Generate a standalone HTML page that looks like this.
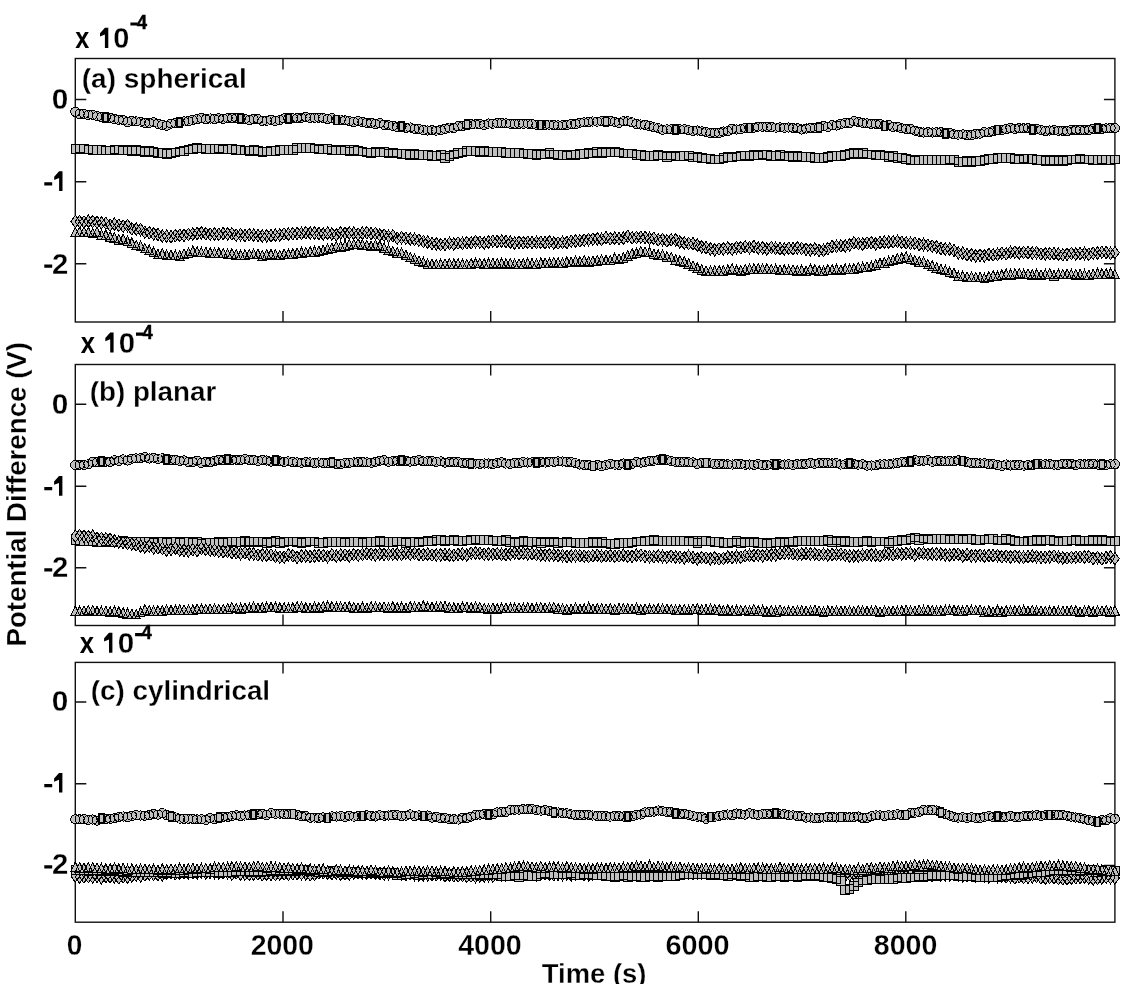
<!DOCTYPE html>
<html><head><meta charset="utf-8"><style>
html,body{margin:0;padding:0;background:#fff;width:1141px;height:1000px;overflow:hidden}
svg{display:block;filter:grayscale(1)}
text{font-family:"Liberation Sans",sans-serif;font-weight:bold;fill:#000}
</style></head><body>
<svg width="1141" height="1000" viewBox="0 0 1141 1000">
<defs>
<circle id="mc" cx="0" cy="0" r="4.3" fill="#c0c0c0" stroke="#000" stroke-width="1"/>
<rect id="ms" x="-4.2" y="-4.2" width="8.4" height="8.4" fill="#c0c0c0" stroke="#000" stroke-width="1"/>
<path id="md" d="M0,-6 L4.6,0 L0,6 L-4.6,0 Z" fill="#c0c0c0" stroke="#000" stroke-width="1"/>
<path id="mt" d="M0,-6.5 L4.6,4.5 L-4.6,4.5 Z" fill="#c0c0c0" stroke="#000" stroke-width="1"/>
</defs>
<g fill="none" stroke="#111" stroke-width="1.4">
<!-- panel a -->
<rect x="75.3" y="58.5" width="1039.6" height="263.5"/>
<path d="M75.3,99.5h11M75.3,181.7h11M75.3,263.8h11M1114.9,99.5h-11M1114.9,181.7h-11M1114.9,263.8h-11
M283,58.5v11M490.7,58.5v11M698.3,58.5v11M905.8,58.5v11M283,322v-11M490.7,322v-11M698.3,322v-11M905.8,322v-11"/>
<!-- panel b -->
<rect x="75.3" y="364.5" width="1039.6" height="261"/>
<path d="M75.3,404.2h11M75.3,486.2h11M75.3,567.8h11M1114.9,404.2h-11M1114.9,486.2h-11M1114.9,567.8h-11
M283,364.5v11M490.7,364.5v11M698.3,364.5v11M905.8,364.5v11M283,625.5v-11M490.7,625.5v-11M698.3,625.5v-11M905.8,625.5v-11"/>
<!-- panel c -->
<rect x="75.3" y="662.4" width="1039.6" height="259.8"/>
<path d="M75.3,702h11M75.3,783.8h11M75.3,865.5h11M1114.9,702h-11M1114.9,783.8h-11M1114.9,865.5h-11
M283,662.4v11M490.7,662.4v11M698.3,662.4v11M905.8,662.4v11M283,922.2v-11M490.7,922.2v-11M698.3,922.2v-11M905.8,922.2v-11"/>
</g>
<defs><path id="p_a_t" d="M75.3,227.3l4.4,9.5h-8.8zM79.6,226.6l4.4,9.5h-8.8zM84.0,227.0l4.4,9.5h-8.8zM88.3,227.0l4.4,9.5h-8.8zM92.7,228.3l4.4,9.5h-8.8zM97.0,227.1l4.4,9.5h-8.8zM101.4,229.8l4.4,9.5h-8.8zM105.8,229.8l4.4,9.5h-8.8zM110.1,231.6l4.4,9.5h-8.8zM114.4,232.5l4.4,9.5h-8.8zM118.8,234.6l4.4,9.5h-8.8zM123.1,234.1l4.4,9.5h-8.8zM127.5,236.2l4.4,9.5h-8.8zM131.8,237.8l4.4,9.5h-8.8zM136.2,240.4l4.4,9.5h-8.8zM140.6,241.1l4.4,9.5h-8.8zM144.9,243.4l4.4,9.5h-8.8zM149.2,244.9l4.4,9.5h-8.8zM153.6,247.2l4.4,9.5h-8.8zM157.9,249.3l4.4,9.5h-8.8zM162.3,248.7l4.4,9.5h-8.8zM166.6,250.1l4.4,9.5h-8.8zM171.0,250.2l4.4,9.5h-8.8zM175.3,250.2l4.4,9.5h-8.8zM179.7,250.7l4.4,9.5h-8.8zM184.0,249.0l4.4,9.5h-8.8zM188.4,247.8l4.4,9.5h-8.8zM192.8,246.0l4.4,9.5h-8.8zM197.1,246.7l4.4,9.5h-8.8zM201.4,247.4l4.4,9.5h-8.8zM205.8,247.1l4.4,9.5h-8.8zM210.1,247.5l4.4,9.5h-8.8zM214.5,247.7l4.4,9.5h-8.8zM218.8,247.9l4.4,9.5h-8.8zM223.2,248.3l4.4,9.5h-8.8zM227.6,248.9l4.4,9.5h-8.8zM231.9,248.6l4.4,9.5h-8.8zM236.2,249.5l4.4,9.5h-8.8zM240.6,250.3l4.4,9.5h-8.8zM244.9,249.8l4.4,9.5h-8.8zM249.3,249.4l4.4,9.5h-8.8zM253.6,249.1l4.4,9.5h-8.8zM258.0,249.2l4.4,9.5h-8.8zM262.3,250.5l4.4,9.5h-8.8zM266.7,249.7l4.4,9.5h-8.8zM271.0,249.4l4.4,9.5h-8.8zM275.4,249.7l4.4,9.5h-8.8zM279.8,250.4l4.4,9.5h-8.8zM284.1,249.1l4.4,9.5h-8.8zM288.4,249.1l4.4,9.5h-8.8zM292.8,248.7l4.4,9.5h-8.8zM297.1,248.2l4.4,9.5h-8.8zM301.5,247.5l4.4,9.5h-8.8zM305.8,247.4l4.4,9.5h-8.8zM310.2,246.8l4.4,9.5h-8.8zM314.5,246.5l4.4,9.5h-8.8zM318.9,246.0l4.4,9.5h-8.8zM323.2,245.2l4.4,9.5h-8.8zM327.6,243.9l4.4,9.5h-8.8zM331.9,243.2l4.4,9.5h-8.8zM336.3,241.4l4.4,9.5h-8.8zM340.6,241.5l4.4,9.5h-8.8zM345.0,240.6l4.4,9.5h-8.8zM349.3,239.6l4.4,9.5h-8.8zM353.7,239.4l4.4,9.5h-8.8zM358.1,238.5l4.4,9.5h-8.8zM362.4,239.6l4.4,9.5h-8.8zM366.8,240.3l4.4,9.5h-8.8zM371.1,241.2l4.4,9.5h-8.8zM375.4,240.0l4.4,9.5h-8.8zM379.8,240.9l4.4,9.5h-8.8zM384.1,242.8l4.4,9.5h-8.8zM388.5,244.6l4.4,9.5h-8.8zM392.8,246.4l4.4,9.5h-8.8zM397.2,247.5l4.4,9.5h-8.8zM401.6,247.8l4.4,9.5h-8.8zM405.9,250.1l4.4,9.5h-8.8zM410.2,252.3l4.4,9.5h-8.8zM414.6,253.8l4.4,9.5h-8.8zM418.9,255.9l4.4,9.5h-8.8zM423.3,257.2l4.4,9.5h-8.8zM427.6,259.0l4.4,9.5h-8.8zM432.0,259.2l4.4,9.5h-8.8zM436.3,259.3l4.4,9.5h-8.8zM440.7,259.1l4.4,9.5h-8.8zM445.0,259.0l4.4,9.5h-8.8zM449.4,258.5l4.4,9.5h-8.8zM453.8,259.0l4.4,9.5h-8.8zM458.1,258.8l4.4,9.5h-8.8zM462.4,259.2l4.4,9.5h-8.8zM466.8,259.2l4.4,9.5h-8.8zM471.1,258.6l4.4,9.5h-8.8zM475.5,258.3l4.4,9.5h-8.8zM479.8,258.2l4.4,9.5h-8.8zM484.2,258.7l4.4,9.5h-8.8zM488.5,258.5l4.4,9.5h-8.8zM492.9,258.3l4.4,9.5h-8.8zM497.2,258.5l4.4,9.5h-8.8zM501.6,258.2l4.4,9.5h-8.8zM505.9,258.8l4.4,9.5h-8.8zM510.3,258.3l4.4,9.5h-8.8zM514.6,259.1l4.4,9.5h-8.8zM519.0,258.7l4.4,9.5h-8.8zM523.3,258.8l4.4,9.5h-8.8zM527.7,258.0l4.4,9.5h-8.8zM532.0,258.6l4.4,9.5h-8.8zM536.4,258.9l4.4,9.5h-8.8zM540.8,258.0l4.4,9.5h-8.8zM545.1,258.1l4.4,9.5h-8.8zM549.4,258.1l4.4,9.5h-8.8zM553.8,257.2l4.4,9.5h-8.8zM558.1,257.8l4.4,9.5h-8.8zM562.5,257.8l4.4,9.5h-8.8zM566.8,256.8l4.4,9.5h-8.8zM571.2,257.2l4.4,9.5h-8.8zM575.5,256.1l4.4,9.5h-8.8zM579.9,256.5l4.4,9.5h-8.8zM584.2,255.5l4.4,9.5h-8.8zM588.6,256.7l4.4,9.5h-8.8zM592.9,256.1l4.4,9.5h-8.8zM597.3,255.6l4.4,9.5h-8.8zM601.6,254.8l4.4,9.5h-8.8zM606.0,255.4l4.4,9.5h-8.8zM610.3,255.3l4.4,9.5h-8.8zM614.7,253.0l4.4,9.5h-8.8zM619.0,253.8l4.4,9.5h-8.8zM623.4,252.7l4.4,9.5h-8.8zM627.7,250.7l4.4,9.5h-8.8zM632.1,248.5l4.4,9.5h-8.8zM636.4,248.2l4.4,9.5h-8.8zM640.8,246.4l4.4,9.5h-8.8zM645.1,247.0l4.4,9.5h-8.8zM649.5,247.4l4.4,9.5h-8.8zM653.8,249.1l4.4,9.5h-8.8zM658.2,250.0l4.4,9.5h-8.8zM662.5,250.0l4.4,9.5h-8.8zM666.9,251.8l4.4,9.5h-8.8zM671.2,252.3l4.4,9.5h-8.8zM675.6,254.6l4.4,9.5h-8.8zM679.9,255.5l4.4,9.5h-8.8zM684.3,256.7l4.4,9.5h-8.8zM688.6,258.6l4.4,9.5h-8.8zM693.0,261.0l4.4,9.5h-8.8zM697.3,262.9l4.4,9.5h-8.8zM701.7,264.8l4.4,9.5h-8.8zM706.0,266.0l4.4,9.5h-8.8zM710.4,265.8l4.4,9.5h-8.8zM714.7,265.9l4.4,9.5h-8.8zM719.1,265.6l4.4,9.5h-8.8zM723.4,265.7l4.4,9.5h-8.8zM727.8,265.0l4.4,9.5h-8.8zM732.1,263.8l4.4,9.5h-8.8zM736.5,265.3l4.4,9.5h-8.8zM740.8,265.6l4.4,9.5h-8.8zM745.2,264.6l4.4,9.5h-8.8zM749.5,264.1l4.4,9.5h-8.8zM753.9,263.8l4.4,9.5h-8.8zM758.2,263.6l4.4,9.5h-8.8zM762.6,263.8l4.4,9.5h-8.8zM766.9,263.6l4.4,9.5h-8.8zM771.3,264.3l4.4,9.5h-8.8zM775.6,264.4l4.4,9.5h-8.8zM780.0,265.1l4.4,9.5h-8.8zM784.3,264.9l4.4,9.5h-8.8zM788.7,265.2l4.4,9.5h-8.8zM793.0,264.9l4.4,9.5h-8.8zM797.4,265.5l4.4,9.5h-8.8zM801.7,265.1l4.4,9.5h-8.8zM806.1,266.1l4.4,9.5h-8.8zM810.4,264.1l4.4,9.5h-8.8zM814.8,264.7l4.4,9.5h-8.8zM819.1,265.5l4.4,9.5h-8.8zM823.5,266.2l4.4,9.5h-8.8zM827.8,264.7l4.4,9.5h-8.8zM832.2,264.7l4.4,9.5h-8.8zM836.5,264.4l4.4,9.5h-8.8zM840.9,265.0l4.4,9.5h-8.8zM845.2,264.0l4.4,9.5h-8.8zM849.6,264.3l4.4,9.5h-8.8zM853.9,263.7l4.4,9.5h-8.8zM858.3,262.5l4.4,9.5h-8.8zM862.6,262.4l4.4,9.5h-8.8zM867.0,261.7l4.4,9.5h-8.8zM871.3,261.2l4.4,9.5h-8.8zM875.7,259.7l4.4,9.5h-8.8zM880.0,258.3l4.4,9.5h-8.8zM884.4,257.6l4.4,9.5h-8.8zM888.7,256.2l4.4,9.5h-8.8zM893.1,255.0l4.4,9.5h-8.8zM897.4,253.5l4.4,9.5h-8.8zM901.8,252.8l4.4,9.5h-8.8zM906.1,251.8l4.4,9.5h-8.8zM910.5,254.1l4.4,9.5h-8.8zM914.8,255.2l4.4,9.5h-8.8zM919.2,256.5l4.4,9.5h-8.8zM923.5,256.8l4.4,9.5h-8.8zM927.9,259.4l4.4,9.5h-8.8zM932.2,260.8l4.4,9.5h-8.8zM936.6,262.6l4.4,9.5h-8.8zM940.9,264.3l4.4,9.5h-8.8zM945.3,265.1l4.4,9.5h-8.8zM949.6,267.3l4.4,9.5h-8.8zM954.0,268.2l4.4,9.5h-8.8zM958.3,271.1l4.4,9.5h-8.8zM962.7,271.0l4.4,9.5h-8.8zM967.0,271.7l4.4,9.5h-8.8zM971.4,271.9l4.4,9.5h-8.8zM975.7,272.4l4.4,9.5h-8.8zM980.1,272.4l4.4,9.5h-8.8zM984.4,273.4l4.4,9.5h-8.8zM988.8,271.7l4.4,9.5h-8.8zM993.1,270.6l4.4,9.5h-8.8zM997.5,271.3l4.4,9.5h-8.8zM1001.8,269.9l4.4,9.5h-8.8zM1006.2,269.0l4.4,9.5h-8.8zM1010.5,269.5l4.4,9.5h-8.8zM1014.9,268.8l4.4,9.5h-8.8zM1019.2,268.4l4.4,9.5h-8.8zM1023.6,269.4l4.4,9.5h-8.8zM1028.0,268.9l4.4,9.5h-8.8zM1032.3,269.7l4.4,9.5h-8.8zM1036.6,269.2l4.4,9.5h-8.8zM1041.0,269.9l4.4,9.5h-8.8zM1045.3,269.2l4.4,9.5h-8.8zM1049.7,268.7l4.4,9.5h-8.8zM1054.0,270.6l4.4,9.5h-8.8zM1058.4,269.2l4.4,9.5h-8.8zM1062.8,269.4l4.4,9.5h-8.8zM1067.1,269.1l4.4,9.5h-8.8zM1071.4,269.3l4.4,9.5h-8.8zM1075.8,269.5l4.4,9.5h-8.8zM1080.1,269.4l4.4,9.5h-8.8zM1084.5,269.6l4.4,9.5h-8.8zM1088.8,270.1l4.4,9.5h-8.8zM1093.2,269.1l4.4,9.5h-8.8zM1097.5,268.5l4.4,9.5h-8.8zM1101.9,268.5l4.4,9.5h-8.8zM1106.2,268.7l4.4,9.5h-8.8zM1110.6,268.2l4.4,9.5h-8.8zM1114.9,269.4l4.4,9.5h-8.8z"/>
<path id="p_a_d" d="M75.3,215.3l4.4,6.2l-4.4,6.2l-4.4,-6.2zM79.6,215.4l4.4,6.2l-4.4,6.2l-4.4,-6.2zM84.0,215.7l4.4,6.2l-4.4,6.2l-4.4,-6.2zM88.3,215.0l4.4,6.2l-4.4,6.2l-4.4,-6.2zM92.7,215.4l4.4,6.2l-4.4,6.2l-4.4,-6.2zM97.0,216.2l4.4,6.2l-4.4,6.2l-4.4,-6.2zM101.4,216.8l4.4,6.2l-4.4,6.2l-4.4,-6.2zM105.8,217.0l4.4,6.2l-4.4,6.2l-4.4,-6.2zM110.1,218.9l4.4,6.2l-4.4,6.2l-4.4,-6.2zM114.4,218.0l4.4,6.2l-4.4,6.2l-4.4,-6.2zM118.8,219.2l4.4,6.2l-4.4,6.2l-4.4,-6.2zM123.1,220.0l4.4,6.2l-4.4,6.2l-4.4,-6.2zM127.5,219.5l4.4,6.2l-4.4,6.2l-4.4,-6.2zM131.8,222.5l4.4,6.2l-4.4,6.2l-4.4,-6.2zM136.2,222.9l4.4,6.2l-4.4,6.2l-4.4,-6.2zM140.6,223.4l4.4,6.2l-4.4,6.2l-4.4,-6.2zM144.9,226.1l4.4,6.2l-4.4,6.2l-4.4,-6.2zM149.2,226.5l4.4,6.2l-4.4,6.2l-4.4,-6.2zM153.6,227.6l4.4,6.2l-4.4,6.2l-4.4,-6.2zM157.9,228.2l4.4,6.2l-4.4,6.2l-4.4,-6.2zM162.3,229.8l4.4,6.2l-4.4,6.2l-4.4,-6.2zM166.6,229.9l4.4,6.2l-4.4,6.2l-4.4,-6.2zM171.0,230.5l4.4,6.2l-4.4,6.2l-4.4,-6.2zM175.3,229.4l4.4,6.2l-4.4,6.2l-4.4,-6.2zM179.7,229.2l4.4,6.2l-4.4,6.2l-4.4,-6.2zM184.0,229.2l4.4,6.2l-4.4,6.2l-4.4,-6.2zM188.4,228.3l4.4,6.2l-4.4,6.2l-4.4,-6.2zM192.8,227.8l4.4,6.2l-4.4,6.2l-4.4,-6.2zM197.1,227.3l4.4,6.2l-4.4,6.2l-4.4,-6.2zM201.4,226.5l4.4,6.2l-4.4,6.2l-4.4,-6.2zM205.8,227.5l4.4,6.2l-4.4,6.2l-4.4,-6.2zM210.1,228.0l4.4,6.2l-4.4,6.2l-4.4,-6.2zM214.5,227.9l4.4,6.2l-4.4,6.2l-4.4,-6.2zM218.8,228.1l4.4,6.2l-4.4,6.2l-4.4,-6.2zM223.2,227.4l4.4,6.2l-4.4,6.2l-4.4,-6.2zM227.6,227.6l4.4,6.2l-4.4,6.2l-4.4,-6.2zM231.9,227.6l4.4,6.2l-4.4,6.2l-4.4,-6.2zM236.2,229.1l4.4,6.2l-4.4,6.2l-4.4,-6.2zM240.6,228.5l4.4,6.2l-4.4,6.2l-4.4,-6.2zM244.9,229.5l4.4,6.2l-4.4,6.2l-4.4,-6.2zM249.3,228.5l4.4,6.2l-4.4,6.2l-4.4,-6.2zM253.6,228.9l4.4,6.2l-4.4,6.2l-4.4,-6.2zM258.0,229.3l4.4,6.2l-4.4,6.2l-4.4,-6.2zM262.3,229.8l4.4,6.2l-4.4,6.2l-4.4,-6.2zM266.7,229.6l4.4,6.2l-4.4,6.2l-4.4,-6.2zM271.0,229.5l4.4,6.2l-4.4,6.2l-4.4,-6.2zM275.4,229.1l4.4,6.2l-4.4,6.2l-4.4,-6.2zM279.8,228.8l4.4,6.2l-4.4,6.2l-4.4,-6.2zM284.1,227.8l4.4,6.2l-4.4,6.2l-4.4,-6.2zM288.4,228.0l4.4,6.2l-4.4,6.2l-4.4,-6.2zM292.8,227.5l4.4,6.2l-4.4,6.2l-4.4,-6.2zM297.1,227.2l4.4,6.2l-4.4,6.2l-4.4,-6.2zM301.5,227.2l4.4,6.2l-4.4,6.2l-4.4,-6.2zM305.8,226.5l4.4,6.2l-4.4,6.2l-4.4,-6.2zM310.2,226.9l4.4,6.2l-4.4,6.2l-4.4,-6.2zM314.5,226.9l4.4,6.2l-4.4,6.2l-4.4,-6.2zM318.9,227.4l4.4,6.2l-4.4,6.2l-4.4,-6.2zM323.2,227.7l4.4,6.2l-4.4,6.2l-4.4,-6.2zM327.6,226.9l4.4,6.2l-4.4,6.2l-4.4,-6.2zM331.9,227.8l4.4,6.2l-4.4,6.2l-4.4,-6.2zM336.3,228.6l4.4,6.2l-4.4,6.2l-4.4,-6.2zM340.6,226.7l4.4,6.2l-4.4,6.2l-4.4,-6.2zM345.0,227.0l4.4,6.2l-4.4,6.2l-4.4,-6.2zM349.3,226.8l4.4,6.2l-4.4,6.2l-4.4,-6.2zM353.7,227.0l4.4,6.2l-4.4,6.2l-4.4,-6.2zM358.1,227.9l4.4,6.2l-4.4,6.2l-4.4,-6.2zM362.4,227.0l4.4,6.2l-4.4,6.2l-4.4,-6.2zM366.8,226.5l4.4,6.2l-4.4,6.2l-4.4,-6.2zM371.1,227.4l4.4,6.2l-4.4,6.2l-4.4,-6.2zM375.4,227.3l4.4,6.2l-4.4,6.2l-4.4,-6.2zM379.8,228.8l4.4,6.2l-4.4,6.2l-4.4,-6.2zM384.1,228.9l4.4,6.2l-4.4,6.2l-4.4,-6.2zM388.5,230.0l4.4,6.2l-4.4,6.2l-4.4,-6.2zM392.8,229.6l4.4,6.2l-4.4,6.2l-4.4,-6.2zM397.2,232.0l4.4,6.2l-4.4,6.2l-4.4,-6.2zM401.6,231.5l4.4,6.2l-4.4,6.2l-4.4,-6.2zM405.9,232.1l4.4,6.2l-4.4,6.2l-4.4,-6.2zM410.2,232.7l4.4,6.2l-4.4,6.2l-4.4,-6.2zM414.6,233.2l4.4,6.2l-4.4,6.2l-4.4,-6.2zM418.9,234.0l4.4,6.2l-4.4,6.2l-4.4,-6.2zM423.3,235.3l4.4,6.2l-4.4,6.2l-4.4,-6.2zM427.6,235.9l4.4,6.2l-4.4,6.2l-4.4,-6.2zM432.0,237.3l4.4,6.2l-4.4,6.2l-4.4,-6.2zM436.3,237.6l4.4,6.2l-4.4,6.2l-4.4,-6.2zM440.7,238.4l4.4,6.2l-4.4,6.2l-4.4,-6.2zM445.0,238.3l4.4,6.2l-4.4,6.2l-4.4,-6.2zM449.4,237.2l4.4,6.2l-4.4,6.2l-4.4,-6.2zM453.8,237.8l4.4,6.2l-4.4,6.2l-4.4,-6.2zM458.1,236.8l4.4,6.2l-4.4,6.2l-4.4,-6.2zM462.4,237.2l4.4,6.2l-4.4,6.2l-4.4,-6.2zM466.8,236.5l4.4,6.2l-4.4,6.2l-4.4,-6.2zM471.1,236.6l4.4,6.2l-4.4,6.2l-4.4,-6.2zM475.5,235.5l4.4,6.2l-4.4,6.2l-4.4,-6.2zM479.8,236.0l4.4,6.2l-4.4,6.2l-4.4,-6.2zM484.2,236.8l4.4,6.2l-4.4,6.2l-4.4,-6.2zM488.5,235.8l4.4,6.2l-4.4,6.2l-4.4,-6.2zM492.9,235.1l4.4,6.2l-4.4,6.2l-4.4,-6.2zM497.2,235.2l4.4,6.2l-4.4,6.2l-4.4,-6.2zM501.6,234.9l4.4,6.2l-4.4,6.2l-4.4,-6.2zM505.9,235.2l4.4,6.2l-4.4,6.2l-4.4,-6.2zM510.3,236.0l4.4,6.2l-4.4,6.2l-4.4,-6.2zM514.6,236.9l4.4,6.2l-4.4,6.2l-4.4,-6.2zM519.0,236.1l4.4,6.2l-4.4,6.2l-4.4,-6.2zM523.3,236.5l4.4,6.2l-4.4,6.2l-4.4,-6.2zM527.7,236.2l4.4,6.2l-4.4,6.2l-4.4,-6.2zM532.0,236.3l4.4,6.2l-4.4,6.2l-4.4,-6.2zM536.4,236.2l4.4,6.2l-4.4,6.2l-4.4,-6.2zM540.8,236.2l4.4,6.2l-4.4,6.2l-4.4,-6.2zM545.1,236.5l4.4,6.2l-4.4,6.2l-4.4,-6.2zM549.4,235.7l4.4,6.2l-4.4,6.2l-4.4,-6.2zM553.8,236.8l4.4,6.2l-4.4,6.2l-4.4,-6.2zM558.1,236.8l4.4,6.2l-4.4,6.2l-4.4,-6.2zM562.5,236.2l4.4,6.2l-4.4,6.2l-4.4,-6.2zM566.8,236.3l4.4,6.2l-4.4,6.2l-4.4,-6.2zM571.2,235.1l4.4,6.2l-4.4,6.2l-4.4,-6.2zM575.5,234.7l4.4,6.2l-4.4,6.2l-4.4,-6.2zM579.9,234.6l4.4,6.2l-4.4,6.2l-4.4,-6.2zM584.2,234.0l4.4,6.2l-4.4,6.2l-4.4,-6.2zM588.6,233.4l4.4,6.2l-4.4,6.2l-4.4,-6.2zM592.9,232.9l4.4,6.2l-4.4,6.2l-4.4,-6.2zM597.3,232.6l4.4,6.2l-4.4,6.2l-4.4,-6.2zM601.6,233.2l4.4,6.2l-4.4,6.2l-4.4,-6.2zM606.0,231.5l4.4,6.2l-4.4,6.2l-4.4,-6.2zM610.3,232.5l4.4,6.2l-4.4,6.2l-4.4,-6.2zM614.7,232.0l4.4,6.2l-4.4,6.2l-4.4,-6.2zM619.0,232.3l4.4,6.2l-4.4,6.2l-4.4,-6.2zM623.4,232.0l4.4,6.2l-4.4,6.2l-4.4,-6.2zM627.7,230.2l4.4,6.2l-4.4,6.2l-4.4,-6.2zM632.1,231.7l4.4,6.2l-4.4,6.2l-4.4,-6.2zM636.4,231.3l4.4,6.2l-4.4,6.2l-4.4,-6.2zM640.8,231.0l4.4,6.2l-4.4,6.2l-4.4,-6.2zM645.1,231.2l4.4,6.2l-4.4,6.2l-4.4,-6.2zM649.5,232.3l4.4,6.2l-4.4,6.2l-4.4,-6.2zM653.8,232.1l4.4,6.2l-4.4,6.2l-4.4,-6.2zM658.2,233.6l4.4,6.2l-4.4,6.2l-4.4,-6.2zM662.5,233.4l4.4,6.2l-4.4,6.2l-4.4,-6.2zM666.9,234.6l4.4,6.2l-4.4,6.2l-4.4,-6.2zM671.2,233.6l4.4,6.2l-4.4,6.2l-4.4,-6.2zM675.6,233.6l4.4,6.2l-4.4,6.2l-4.4,-6.2zM679.9,235.8l4.4,6.2l-4.4,6.2l-4.4,-6.2zM684.3,236.8l4.4,6.2l-4.4,6.2l-4.4,-6.2zM688.6,237.3l4.4,6.2l-4.4,6.2l-4.4,-6.2zM693.0,237.5l4.4,6.2l-4.4,6.2l-4.4,-6.2zM697.3,239.0l4.4,6.2l-4.4,6.2l-4.4,-6.2zM701.7,240.6l4.4,6.2l-4.4,6.2l-4.4,-6.2zM706.0,241.4l4.4,6.2l-4.4,6.2l-4.4,-6.2zM710.4,242.7l4.4,6.2l-4.4,6.2l-4.4,-6.2zM714.7,243.6l4.4,6.2l-4.4,6.2l-4.4,-6.2zM719.1,242.8l4.4,6.2l-4.4,6.2l-4.4,-6.2zM723.4,242.6l4.4,6.2l-4.4,6.2l-4.4,-6.2zM727.8,241.8l4.4,6.2l-4.4,6.2l-4.4,-6.2zM732.1,242.9l4.4,6.2l-4.4,6.2l-4.4,-6.2zM736.5,241.4l4.4,6.2l-4.4,6.2l-4.4,-6.2zM740.8,241.5l4.4,6.2l-4.4,6.2l-4.4,-6.2zM745.2,240.6l4.4,6.2l-4.4,6.2l-4.4,-6.2zM749.5,241.6l4.4,6.2l-4.4,6.2l-4.4,-6.2zM753.9,240.4l4.4,6.2l-4.4,6.2l-4.4,-6.2zM758.2,241.9l4.4,6.2l-4.4,6.2l-4.4,-6.2zM762.6,241.6l4.4,6.2l-4.4,6.2l-4.4,-6.2zM766.9,242.8l4.4,6.2l-4.4,6.2l-4.4,-6.2zM771.3,241.3l4.4,6.2l-4.4,6.2l-4.4,-6.2zM775.6,242.1l4.4,6.2l-4.4,6.2l-4.4,-6.2zM780.0,242.4l4.4,6.2l-4.4,6.2l-4.4,-6.2zM784.3,242.9l4.4,6.2l-4.4,6.2l-4.4,-6.2zM788.7,242.2l4.4,6.2l-4.4,6.2l-4.4,-6.2zM793.0,242.6l4.4,6.2l-4.4,6.2l-4.4,-6.2zM797.4,241.6l4.4,6.2l-4.4,6.2l-4.4,-6.2zM801.7,242.3l4.4,6.2l-4.4,6.2l-4.4,-6.2zM806.1,243.1l4.4,6.2l-4.4,6.2l-4.4,-6.2zM810.4,243.5l4.4,6.2l-4.4,6.2l-4.4,-6.2zM814.8,242.9l4.4,6.2l-4.4,6.2l-4.4,-6.2zM819.1,244.2l4.4,6.2l-4.4,6.2l-4.4,-6.2zM823.5,244.1l4.4,6.2l-4.4,6.2l-4.4,-6.2zM827.8,242.4l4.4,6.2l-4.4,6.2l-4.4,-6.2zM832.2,240.4l4.4,6.2l-4.4,6.2l-4.4,-6.2zM836.5,240.0l4.4,6.2l-4.4,6.2l-4.4,-6.2zM840.9,239.7l4.4,6.2l-4.4,6.2l-4.4,-6.2zM845.2,239.9l4.4,6.2l-4.4,6.2l-4.4,-6.2zM849.6,238.7l4.4,6.2l-4.4,6.2l-4.4,-6.2zM853.9,236.7l4.4,6.2l-4.4,6.2l-4.4,-6.2zM858.3,237.3l4.4,6.2l-4.4,6.2l-4.4,-6.2zM862.6,238.0l4.4,6.2l-4.4,6.2l-4.4,-6.2zM867.0,236.8l4.4,6.2l-4.4,6.2l-4.4,-6.2zM871.3,236.4l4.4,6.2l-4.4,6.2l-4.4,-6.2zM875.7,237.6l4.4,6.2l-4.4,6.2l-4.4,-6.2zM880.0,236.4l4.4,6.2l-4.4,6.2l-4.4,-6.2zM884.4,235.9l4.4,6.2l-4.4,6.2l-4.4,-6.2zM888.7,236.1l4.4,6.2l-4.4,6.2l-4.4,-6.2zM893.1,235.7l4.4,6.2l-4.4,6.2l-4.4,-6.2zM897.4,235.2l4.4,6.2l-4.4,6.2l-4.4,-6.2zM901.8,236.1l4.4,6.2l-4.4,6.2l-4.4,-6.2zM906.1,236.6l4.4,6.2l-4.4,6.2l-4.4,-6.2zM910.5,237.0l4.4,6.2l-4.4,6.2l-4.4,-6.2zM914.8,237.1l4.4,6.2l-4.4,6.2l-4.4,-6.2zM919.2,238.3l4.4,6.2l-4.4,6.2l-4.4,-6.2zM923.5,238.3l4.4,6.2l-4.4,6.2l-4.4,-6.2zM927.9,239.1l4.4,6.2l-4.4,6.2l-4.4,-6.2zM932.2,240.0l4.4,6.2l-4.4,6.2l-4.4,-6.2zM936.6,240.7l4.4,6.2l-4.4,6.2l-4.4,-6.2zM940.9,242.3l4.4,6.2l-4.4,6.2l-4.4,-6.2zM945.3,242.8l4.4,6.2l-4.4,6.2l-4.4,-6.2zM949.6,242.9l4.4,6.2l-4.4,6.2l-4.4,-6.2zM954.0,244.3l4.4,6.2l-4.4,6.2l-4.4,-6.2zM958.3,246.7l4.4,6.2l-4.4,6.2l-4.4,-6.2zM962.7,247.0l4.4,6.2l-4.4,6.2l-4.4,-6.2zM967.0,248.5l4.4,6.2l-4.4,6.2l-4.4,-6.2zM971.4,248.5l4.4,6.2l-4.4,6.2l-4.4,-6.2zM975.7,249.6l4.4,6.2l-4.4,6.2l-4.4,-6.2zM980.1,249.1l4.4,6.2l-4.4,6.2l-4.4,-6.2zM984.4,249.6l4.4,6.2l-4.4,6.2l-4.4,-6.2zM988.8,248.3l4.4,6.2l-4.4,6.2l-4.4,-6.2zM993.1,248.7l4.4,6.2l-4.4,6.2l-4.4,-6.2zM997.5,248.1l4.4,6.2l-4.4,6.2l-4.4,-6.2zM1001.8,247.0l4.4,6.2l-4.4,6.2l-4.4,-6.2zM1006.2,247.6l4.4,6.2l-4.4,6.2l-4.4,-6.2zM1010.5,246.2l4.4,6.2l-4.4,6.2l-4.4,-6.2zM1014.9,245.9l4.4,6.2l-4.4,6.2l-4.4,-6.2zM1019.2,246.8l4.4,6.2l-4.4,6.2l-4.4,-6.2zM1023.6,246.3l4.4,6.2l-4.4,6.2l-4.4,-6.2zM1028.0,246.4l4.4,6.2l-4.4,6.2l-4.4,-6.2zM1032.3,246.7l4.4,6.2l-4.4,6.2l-4.4,-6.2zM1036.6,246.5l4.4,6.2l-4.4,6.2l-4.4,-6.2zM1041.0,247.7l4.4,6.2l-4.4,6.2l-4.4,-6.2zM1045.3,247.6l4.4,6.2l-4.4,6.2l-4.4,-6.2zM1049.7,247.4l4.4,6.2l-4.4,6.2l-4.4,-6.2zM1054.0,247.5l4.4,6.2l-4.4,6.2l-4.4,-6.2zM1058.4,248.0l4.4,6.2l-4.4,6.2l-4.4,-6.2zM1062.8,248.6l4.4,6.2l-4.4,6.2l-4.4,-6.2zM1067.1,248.1l4.4,6.2l-4.4,6.2l-4.4,-6.2zM1071.4,247.3l4.4,6.2l-4.4,6.2l-4.4,-6.2zM1075.8,247.9l4.4,6.2l-4.4,6.2l-4.4,-6.2zM1080.1,247.4l4.4,6.2l-4.4,6.2l-4.4,-6.2zM1084.5,247.3l4.4,6.2l-4.4,6.2l-4.4,-6.2zM1088.8,248.2l4.4,6.2l-4.4,6.2l-4.4,-6.2zM1093.2,247.0l4.4,6.2l-4.4,6.2l-4.4,-6.2zM1097.5,246.9l4.4,6.2l-4.4,6.2l-4.4,-6.2zM1101.9,246.1l4.4,6.2l-4.4,6.2l-4.4,-6.2zM1106.2,246.3l4.4,6.2l-4.4,6.2l-4.4,-6.2zM1110.6,247.1l4.4,6.2l-4.4,6.2l-4.4,-6.2zM1114.9,246.5l4.4,6.2l-4.4,6.2l-4.4,-6.2z"/>
<path id="p_a_s" d="M71.0,144.7h8.7v8.7h-8.7zM75.3,144.0h8.7v8.7h-8.7zM79.7,144.3h8.7v8.7h-8.7zM84.0,145.2h8.7v8.7h-8.7zM88.3,145.7h8.7v8.7h-8.7zM92.7,145.4h8.7v8.7h-8.7zM97.0,145.8h8.7v8.7h-8.7zM101.4,146.2h8.7v8.7h-8.7zM105.8,146.0h8.7v8.7h-8.7zM110.1,145.1h8.7v8.7h-8.7zM114.5,145.7h8.7v8.7h-8.7zM118.8,146.2h8.7v8.7h-8.7zM123.2,145.8h8.7v8.7h-8.7zM127.5,146.5h8.7v8.7h-8.7zM131.8,145.9h8.7v8.7h-8.7zM136.2,146.7h8.7v8.7h-8.7zM140.5,147.8h8.7v8.7h-8.7zM144.9,146.9h8.7v8.7h-8.7zM149.2,147.8h8.7v8.7h-8.7zM153.6,148.8h8.7v8.7h-8.7zM158.0,148.4h8.7v8.7h-8.7zM162.3,149.7h8.7v8.7h-8.7zM166.7,148.9h8.7v8.7h-8.7zM171.0,148.1h8.7v8.7h-8.7zM175.3,147.2h8.7v8.7h-8.7zM179.7,146.4h8.7v8.7h-8.7zM184.0,145.0h8.7v8.7h-8.7zM188.4,144.4h8.7v8.7h-8.7zM192.7,143.4h8.7v8.7h-8.7zM197.1,144.1h8.7v8.7h-8.7zM201.5,144.9h8.7v8.7h-8.7zM205.8,144.3h8.7v8.7h-8.7zM210.2,144.5h8.7v8.7h-8.7zM214.5,144.0h8.7v8.7h-8.7zM218.8,145.1h8.7v8.7h-8.7zM223.2,144.5h8.7v8.7h-8.7zM227.5,144.7h8.7v8.7h-8.7zM231.9,145.6h8.7v8.7h-8.7zM236.2,145.6h8.7v8.7h-8.7zM240.6,146.2h8.7v8.7h-8.7zM245.0,146.6h8.7v8.7h-8.7zM249.3,145.7h8.7v8.7h-8.7zM253.7,146.3h8.7v8.7h-8.7zM258.0,147.3h8.7v8.7h-8.7zM262.3,147.0h8.7v8.7h-8.7zM266.7,146.8h8.7v8.7h-8.7zM271.0,146.8h8.7v8.7h-8.7zM275.4,145.4h8.7v8.7h-8.7zM279.7,145.7h8.7v8.7h-8.7zM284.1,145.7h8.7v8.7h-8.7zM288.4,145.5h8.7v8.7h-8.7zM292.8,143.9h8.7v8.7h-8.7zM297.1,143.8h8.7v8.7h-8.7zM301.5,143.9h8.7v8.7h-8.7zM305.8,143.9h8.7v8.7h-8.7zM310.2,144.2h8.7v8.7h-8.7zM314.5,145.1h8.7v8.7h-8.7zM318.9,144.9h8.7v8.7h-8.7zM323.2,144.6h8.7v8.7h-8.7zM327.6,146.0h8.7v8.7h-8.7zM331.9,145.9h8.7v8.7h-8.7zM336.3,146.0h8.7v8.7h-8.7zM340.6,145.7h8.7v8.7h-8.7zM345.0,147.2h8.7v8.7h-8.7zM349.3,145.8h8.7v8.7h-8.7zM353.7,146.3h8.7v8.7h-8.7zM358.0,147.2h8.7v8.7h-8.7zM362.4,148.2h8.7v8.7h-8.7zM366.7,148.4h8.7v8.7h-8.7zM371.1,147.4h8.7v8.7h-8.7zM375.4,148.1h8.7v8.7h-8.7zM379.8,147.7h8.7v8.7h-8.7zM384.1,149.2h8.7v8.7h-8.7zM388.5,148.2h8.7v8.7h-8.7zM392.8,149.1h8.7v8.7h-8.7zM397.2,149.9h8.7v8.7h-8.7zM401.5,149.5h8.7v8.7h-8.7zM405.9,150.5h8.7v8.7h-8.7zM410.2,149.6h8.7v8.7h-8.7zM414.6,150.5h8.7v8.7h-8.7zM418.9,150.9h8.7v8.7h-8.7zM423.3,150.7h8.7v8.7h-8.7zM427.6,151.6h8.7v8.7h-8.7zM432.0,151.4h8.7v8.7h-8.7zM436.3,150.5h8.7v8.7h-8.7zM440.7,153.5h8.7v8.7h-8.7zM445.0,151.4h8.7v8.7h-8.7zM449.4,150.1h8.7v8.7h-8.7zM453.7,148.4h8.7v8.7h-8.7zM458.1,148.2h8.7v8.7h-8.7zM462.4,146.9h8.7v8.7h-8.7zM466.8,146.5h8.7v8.7h-8.7zM471.1,146.5h8.7v8.7h-8.7zM475.5,147.5h8.7v8.7h-8.7zM479.8,146.9h8.7v8.7h-8.7zM484.2,147.4h8.7v8.7h-8.7zM488.5,147.6h8.7v8.7h-8.7zM492.9,147.6h8.7v8.7h-8.7zM497.2,147.9h8.7v8.7h-8.7zM501.6,148.8h8.7v8.7h-8.7zM505.9,148.9h8.7v8.7h-8.7zM510.3,148.5h8.7v8.7h-8.7zM514.6,148.5h8.7v8.7h-8.7zM519.0,149.1h8.7v8.7h-8.7zM523.3,149.9h8.7v8.7h-8.7zM527.7,149.5h8.7v8.7h-8.7zM532.0,150.5h8.7v8.7h-8.7zM536.4,149.4h8.7v8.7h-8.7zM540.7,150.1h8.7v8.7h-8.7zM545.1,148.9h8.7v8.7h-8.7zM549.4,150.0h8.7v8.7h-8.7zM553.8,150.3h8.7v8.7h-8.7zM558.1,150.9h8.7v8.7h-8.7zM562.5,151.2h8.7v8.7h-8.7zM566.8,150.0h8.7v8.7h-8.7zM571.2,150.4h8.7v8.7h-8.7zM575.5,149.7h8.7v8.7h-8.7zM579.9,149.5h8.7v8.7h-8.7zM584.2,148.5h8.7v8.7h-8.7zM588.6,149.1h8.7v8.7h-8.7zM592.9,147.7h8.7v8.7h-8.7zM597.3,148.5h8.7v8.7h-8.7zM601.6,147.8h8.7v8.7h-8.7zM606.0,148.0h8.7v8.7h-8.7zM610.3,147.5h8.7v8.7h-8.7zM614.7,148.1h8.7v8.7h-8.7zM619.0,149.0h8.7v8.7h-8.7zM623.4,149.2h8.7v8.7h-8.7zM627.7,149.0h8.7v8.7h-8.7zM632.1,150.8h8.7v8.7h-8.7zM636.4,150.7h8.7v8.7h-8.7zM640.8,151.5h8.7v8.7h-8.7zM645.1,151.8h8.7v8.7h-8.7zM649.5,151.3h8.7v8.7h-8.7zM653.8,150.7h8.7v8.7h-8.7zM658.2,151.2h8.7v8.7h-8.7zM662.5,152.3h8.7v8.7h-8.7zM666.9,151.1h8.7v8.7h-8.7zM671.2,152.1h8.7v8.7h-8.7zM675.6,151.3h8.7v8.7h-8.7zM679.9,151.8h8.7v8.7h-8.7zM684.3,151.0h8.7v8.7h-8.7zM688.6,153.0h8.7v8.7h-8.7zM693.0,152.9h8.7v8.7h-8.7zM697.3,153.9h8.7v8.7h-8.7zM701.7,154.1h8.7v8.7h-8.7zM706.0,154.9h8.7v8.7h-8.7zM710.4,155.0h8.7v8.7h-8.7zM714.7,155.1h8.7v8.7h-8.7zM719.1,153.3h8.7v8.7h-8.7zM723.4,152.9h8.7v8.7h-8.7zM727.8,153.2h8.7v8.7h-8.7zM732.1,152.2h8.7v8.7h-8.7zM736.5,151.5h8.7v8.7h-8.7zM740.8,151.1h8.7v8.7h-8.7zM745.2,151.3h8.7v8.7h-8.7zM749.5,150.6h8.7v8.7h-8.7zM753.9,151.0h8.7v8.7h-8.7zM758.2,150.2h8.7v8.7h-8.7zM762.6,150.4h8.7v8.7h-8.7zM766.9,151.4h8.7v8.7h-8.7zM771.3,151.7h8.7v8.7h-8.7zM775.6,150.9h8.7v8.7h-8.7zM780.0,152.2h8.7v8.7h-8.7zM784.3,151.6h8.7v8.7h-8.7zM788.7,152.7h8.7v8.7h-8.7zM793.0,151.7h8.7v8.7h-8.7zM797.4,152.3h8.7v8.7h-8.7zM801.7,152.6h8.7v8.7h-8.7zM806.1,152.8h8.7v8.7h-8.7zM810.4,153.6h8.7v8.7h-8.7zM814.8,153.3h8.7v8.7h-8.7zM819.1,153.6h8.7v8.7h-8.7zM823.5,152.9h8.7v8.7h-8.7zM827.8,151.7h8.7v8.7h-8.7zM832.2,151.3h8.7v8.7h-8.7zM836.5,151.5h8.7v8.7h-8.7zM840.9,150.5h8.7v8.7h-8.7zM845.2,149.9h8.7v8.7h-8.7zM849.6,148.9h8.7v8.7h-8.7zM853.9,149.6h8.7v8.7h-8.7zM858.3,148.5h8.7v8.7h-8.7zM862.6,150.0h8.7v8.7h-8.7zM867.0,150.0h8.7v8.7h-8.7zM871.3,151.1h8.7v8.7h-8.7zM875.7,150.8h8.7v8.7h-8.7zM880.0,151.2h8.7v8.7h-8.7zM884.4,152.3h8.7v8.7h-8.7zM888.7,151.8h8.7v8.7h-8.7zM893.1,153.3h8.7v8.7h-8.7zM897.4,153.0h8.7v8.7h-8.7zM901.8,154.8h8.7v8.7h-8.7zM906.1,155.8h8.7v8.7h-8.7zM910.5,156.2h8.7v8.7h-8.7zM914.8,155.3h8.7v8.7h-8.7zM919.2,155.8h8.7v8.7h-8.7zM923.5,155.7h8.7v8.7h-8.7zM927.9,155.4h8.7v8.7h-8.7zM932.2,155.4h8.7v8.7h-8.7zM936.6,155.5h8.7v8.7h-8.7zM940.9,155.4h8.7v8.7h-8.7zM945.3,155.0h8.7v8.7h-8.7zM949.6,155.3h8.7v8.7h-8.7zM954.0,157.6h8.7v8.7h-8.7zM958.3,157.8h8.7v8.7h-8.7zM962.7,156.6h8.7v8.7h-8.7zM967.0,157.4h8.7v8.7h-8.7zM971.4,156.9h8.7v8.7h-8.7zM975.7,156.5h8.7v8.7h-8.7zM980.1,155.6h8.7v8.7h-8.7zM984.4,154.6h8.7v8.7h-8.7zM988.8,154.4h8.7v8.7h-8.7zM993.1,153.7h8.7v8.7h-8.7zM997.5,153.7h8.7v8.7h-8.7zM1001.8,153.6h8.7v8.7h-8.7zM1006.2,153.9h8.7v8.7h-8.7zM1010.5,154.7h8.7v8.7h-8.7zM1014.9,155.0h8.7v8.7h-8.7zM1019.2,154.0h8.7v8.7h-8.7zM1023.6,154.5h8.7v8.7h-8.7zM1028.0,154.5h8.7v8.7h-8.7zM1032.3,155.7h8.7v8.7h-8.7zM1036.7,155.4h8.7v8.7h-8.7zM1041.0,156.5h8.7v8.7h-8.7zM1045.3,155.9h8.7v8.7h-8.7zM1049.7,156.5h8.7v8.7h-8.7zM1054.0,155.8h8.7v8.7h-8.7zM1058.4,156.9h8.7v8.7h-8.7zM1062.8,155.8h8.7v8.7h-8.7zM1067.1,155.0h8.7v8.7h-8.7zM1071.5,155.2h8.7v8.7h-8.7zM1075.8,154.1h8.7v8.7h-8.7zM1080.2,155.1h8.7v8.7h-8.7zM1084.5,155.2h8.7v8.7h-8.7zM1088.8,155.3h8.7v8.7h-8.7zM1093.2,155.9h8.7v8.7h-8.7zM1097.5,155.0h8.7v8.7h-8.7zM1101.9,155.6h8.7v8.7h-8.7zM1106.2,155.3h8.7v8.7h-8.7zM1110.6,155.1h8.7v8.7h-8.7z"/>
<path id="p_a_c" d="M70.7,111.8a4.6,4.6 0 1,0 9.2,0a4.6,4.6 0 1,0 -9.2,0zM75.0,114.0a4.6,4.6 0 1,0 9.2,0a4.6,4.6 0 1,0 -9.2,0zM79.4,113.9a4.6,4.6 0 1,0 9.2,0a4.6,4.6 0 1,0 -9.2,0zM83.8,114.8a4.6,4.6 0 1,0 9.2,0a4.6,4.6 0 1,0 -9.2,0zM88.1,114.8a4.6,4.6 0 1,0 9.2,0a4.6,4.6 0 1,0 -9.2,0zM92.5,116.2a4.6,4.6 0 1,0 9.2,0a4.6,4.6 0 1,0 -9.2,0zM96.8,116.8a4.6,4.6 0 1,0 9.2,0a4.6,4.6 0 1,0 -9.2,0zM101.2,117.4a4.6,4.6 0 1,0 9.2,0a4.6,4.6 0 1,0 -9.2,0zM105.5,117.9a4.6,4.6 0 1,0 9.2,0a4.6,4.6 0 1,0 -9.2,0zM109.8,119.1a4.6,4.6 0 1,0 9.2,0a4.6,4.6 0 1,0 -9.2,0zM114.2,119.7a4.6,4.6 0 1,0 9.2,0a4.6,4.6 0 1,0 -9.2,0zM118.5,120.2a4.6,4.6 0 1,0 9.2,0a4.6,4.6 0 1,0 -9.2,0zM122.9,122.1a4.6,4.6 0 1,0 9.2,0a4.6,4.6 0 1,0 -9.2,0zM127.2,120.8a4.6,4.6 0 1,0 9.2,0a4.6,4.6 0 1,0 -9.2,0zM131.6,121.4a4.6,4.6 0 1,0 9.2,0a4.6,4.6 0 1,0 -9.2,0zM136.0,121.6a4.6,4.6 0 1,0 9.2,0a4.6,4.6 0 1,0 -9.2,0zM140.3,122.9a4.6,4.6 0 1,0 9.2,0a4.6,4.6 0 1,0 -9.2,0zM144.7,122.9a4.6,4.6 0 1,0 9.2,0a4.6,4.6 0 1,0 -9.2,0zM149.0,122.4a4.6,4.6 0 1,0 9.2,0a4.6,4.6 0 1,0 -9.2,0zM153.3,123.7a4.6,4.6 0 1,0 9.2,0a4.6,4.6 0 1,0 -9.2,0zM157.7,124.9a4.6,4.6 0 1,0 9.2,0a4.6,4.6 0 1,0 -9.2,0zM162.0,125.7a4.6,4.6 0 1,0 9.2,0a4.6,4.6 0 1,0 -9.2,0zM166.4,123.6a4.6,4.6 0 1,0 9.2,0a4.6,4.6 0 1,0 -9.2,0zM170.8,123.2a4.6,4.6 0 1,0 9.2,0a4.6,4.6 0 1,0 -9.2,0zM175.1,122.6a4.6,4.6 0 1,0 9.2,0a4.6,4.6 0 1,0 -9.2,0zM179.4,121.5a4.6,4.6 0 1,0 9.2,0a4.6,4.6 0 1,0 -9.2,0zM183.8,121.2a4.6,4.6 0 1,0 9.2,0a4.6,4.6 0 1,0 -9.2,0zM188.2,120.0a4.6,4.6 0 1,0 9.2,0a4.6,4.6 0 1,0 -9.2,0zM192.5,119.3a4.6,4.6 0 1,0 9.2,0a4.6,4.6 0 1,0 -9.2,0zM196.8,118.1a4.6,4.6 0 1,0 9.2,0a4.6,4.6 0 1,0 -9.2,0zM201.2,119.3a4.6,4.6 0 1,0 9.2,0a4.6,4.6 0 1,0 -9.2,0zM205.5,118.5a4.6,4.6 0 1,0 9.2,0a4.6,4.6 0 1,0 -9.2,0zM209.9,119.1a4.6,4.6 0 1,0 9.2,0a4.6,4.6 0 1,0 -9.2,0zM214.2,118.3a4.6,4.6 0 1,0 9.2,0a4.6,4.6 0 1,0 -9.2,0zM218.6,118.8a4.6,4.6 0 1,0 9.2,0a4.6,4.6 0 1,0 -9.2,0zM223.0,118.2a4.6,4.6 0 1,0 9.2,0a4.6,4.6 0 1,0 -9.2,0zM227.3,118.0a4.6,4.6 0 1,0 9.2,0a4.6,4.6 0 1,0 -9.2,0zM231.7,118.1a4.6,4.6 0 1,0 9.2,0a4.6,4.6 0 1,0 -9.2,0zM236.0,118.6a4.6,4.6 0 1,0 9.2,0a4.6,4.6 0 1,0 -9.2,0zM240.3,118.8a4.6,4.6 0 1,0 9.2,0a4.6,4.6 0 1,0 -9.2,0zM244.7,120.0a4.6,4.6 0 1,0 9.2,0a4.6,4.6 0 1,0 -9.2,0zM249.0,118.9a4.6,4.6 0 1,0 9.2,0a4.6,4.6 0 1,0 -9.2,0zM253.4,119.2a4.6,4.6 0 1,0 9.2,0a4.6,4.6 0 1,0 -9.2,0zM257.7,120.9a4.6,4.6 0 1,0 9.2,0a4.6,4.6 0 1,0 -9.2,0zM262.1,120.7a4.6,4.6 0 1,0 9.2,0a4.6,4.6 0 1,0 -9.2,0zM266.4,119.7a4.6,4.6 0 1,0 9.2,0a4.6,4.6 0 1,0 -9.2,0zM270.8,120.8a4.6,4.6 0 1,0 9.2,0a4.6,4.6 0 1,0 -9.2,0zM275.1,120.1a4.6,4.6 0 1,0 9.2,0a4.6,4.6 0 1,0 -9.2,0zM279.5,118.4a4.6,4.6 0 1,0 9.2,0a4.6,4.6 0 1,0 -9.2,0zM283.8,118.7a4.6,4.6 0 1,0 9.2,0a4.6,4.6 0 1,0 -9.2,0zM288.2,118.4a4.6,4.6 0 1,0 9.2,0a4.6,4.6 0 1,0 -9.2,0zM292.5,118.2a4.6,4.6 0 1,0 9.2,0a4.6,4.6 0 1,0 -9.2,0zM296.9,117.8a4.6,4.6 0 1,0 9.2,0a4.6,4.6 0 1,0 -9.2,0zM301.2,117.0a4.6,4.6 0 1,0 9.2,0a4.6,4.6 0 1,0 -9.2,0zM305.6,117.9a4.6,4.6 0 1,0 9.2,0a4.6,4.6 0 1,0 -9.2,0zM309.9,117.7a4.6,4.6 0 1,0 9.2,0a4.6,4.6 0 1,0 -9.2,0zM314.3,117.7a4.6,4.6 0 1,0 9.2,0a4.6,4.6 0 1,0 -9.2,0zM318.6,118.1a4.6,4.6 0 1,0 9.2,0a4.6,4.6 0 1,0 -9.2,0zM323.0,119.2a4.6,4.6 0 1,0 9.2,0a4.6,4.6 0 1,0 -9.2,0zM327.3,118.3a4.6,4.6 0 1,0 9.2,0a4.6,4.6 0 1,0 -9.2,0zM331.7,120.1a4.6,4.6 0 1,0 9.2,0a4.6,4.6 0 1,0 -9.2,0zM336.0,119.6a4.6,4.6 0 1,0 9.2,0a4.6,4.6 0 1,0 -9.2,0zM340.4,120.4a4.6,4.6 0 1,0 9.2,0a4.6,4.6 0 1,0 -9.2,0zM344.7,121.3a4.6,4.6 0 1,0 9.2,0a4.6,4.6 0 1,0 -9.2,0zM349.1,122.1a4.6,4.6 0 1,0 9.2,0a4.6,4.6 0 1,0 -9.2,0zM353.4,121.0a4.6,4.6 0 1,0 9.2,0a4.6,4.6 0 1,0 -9.2,0zM357.8,122.0a4.6,4.6 0 1,0 9.2,0a4.6,4.6 0 1,0 -9.2,0zM362.1,122.8a4.6,4.6 0 1,0 9.2,0a4.6,4.6 0 1,0 -9.2,0zM366.5,122.9a4.6,4.6 0 1,0 9.2,0a4.6,4.6 0 1,0 -9.2,0zM370.8,124.1a4.6,4.6 0 1,0 9.2,0a4.6,4.6 0 1,0 -9.2,0zM375.2,123.1a4.6,4.6 0 1,0 9.2,0a4.6,4.6 0 1,0 -9.2,0zM379.5,124.8a4.6,4.6 0 1,0 9.2,0a4.6,4.6 0 1,0 -9.2,0zM383.9,125.4a4.6,4.6 0 1,0 9.2,0a4.6,4.6 0 1,0 -9.2,0zM388.2,125.7a4.6,4.6 0 1,0 9.2,0a4.6,4.6 0 1,0 -9.2,0zM392.6,126.8a4.6,4.6 0 1,0 9.2,0a4.6,4.6 0 1,0 -9.2,0zM396.9,126.2a4.6,4.6 0 1,0 9.2,0a4.6,4.6 0 1,0 -9.2,0zM401.3,127.9a4.6,4.6 0 1,0 9.2,0a4.6,4.6 0 1,0 -9.2,0zM405.6,127.5a4.6,4.6 0 1,0 9.2,0a4.6,4.6 0 1,0 -9.2,0zM410.0,128.8a4.6,4.6 0 1,0 9.2,0a4.6,4.6 0 1,0 -9.2,0zM414.3,128.8a4.6,4.6 0 1,0 9.2,0a4.6,4.6 0 1,0 -9.2,0zM418.7,129.9a4.6,4.6 0 1,0 9.2,0a4.6,4.6 0 1,0 -9.2,0zM423.0,130.5a4.6,4.6 0 1,0 9.2,0a4.6,4.6 0 1,0 -9.2,0zM427.4,129.9a4.6,4.6 0 1,0 9.2,0a4.6,4.6 0 1,0 -9.2,0zM431.7,130.6a4.6,4.6 0 1,0 9.2,0a4.6,4.6 0 1,0 -9.2,0zM436.1,129.8a4.6,4.6 0 1,0 9.2,0a4.6,4.6 0 1,0 -9.2,0zM440.4,128.8a4.6,4.6 0 1,0 9.2,0a4.6,4.6 0 1,0 -9.2,0zM444.8,127.6a4.6,4.6 0 1,0 9.2,0a4.6,4.6 0 1,0 -9.2,0zM449.1,128.1a4.6,4.6 0 1,0 9.2,0a4.6,4.6 0 1,0 -9.2,0zM453.5,126.3a4.6,4.6 0 1,0 9.2,0a4.6,4.6 0 1,0 -9.2,0zM457.8,126.1a4.6,4.6 0 1,0 9.2,0a4.6,4.6 0 1,0 -9.2,0zM462.2,124.7a4.6,4.6 0 1,0 9.2,0a4.6,4.6 0 1,0 -9.2,0zM466.5,124.2a4.6,4.6 0 1,0 9.2,0a4.6,4.6 0 1,0 -9.2,0zM470.9,124.4a4.6,4.6 0 1,0 9.2,0a4.6,4.6 0 1,0 -9.2,0zM475.2,123.8a4.6,4.6 0 1,0 9.2,0a4.6,4.6 0 1,0 -9.2,0zM479.6,124.9a4.6,4.6 0 1,0 9.2,0a4.6,4.6 0 1,0 -9.2,0zM483.9,123.6a4.6,4.6 0 1,0 9.2,0a4.6,4.6 0 1,0 -9.2,0zM488.3,123.7a4.6,4.6 0 1,0 9.2,0a4.6,4.6 0 1,0 -9.2,0zM492.6,123.0a4.6,4.6 0 1,0 9.2,0a4.6,4.6 0 1,0 -9.2,0zM497.0,123.1a4.6,4.6 0 1,0 9.2,0a4.6,4.6 0 1,0 -9.2,0zM501.3,123.4a4.6,4.6 0 1,0 9.2,0a4.6,4.6 0 1,0 -9.2,0zM505.7,123.7a4.6,4.6 0 1,0 9.2,0a4.6,4.6 0 1,0 -9.2,0zM510.0,124.1a4.6,4.6 0 1,0 9.2,0a4.6,4.6 0 1,0 -9.2,0zM514.4,123.8a4.6,4.6 0 1,0 9.2,0a4.6,4.6 0 1,0 -9.2,0zM518.7,123.7a4.6,4.6 0 1,0 9.2,0a4.6,4.6 0 1,0 -9.2,0zM523.1,123.6a4.6,4.6 0 1,0 9.2,0a4.6,4.6 0 1,0 -9.2,0zM527.4,124.3a4.6,4.6 0 1,0 9.2,0a4.6,4.6 0 1,0 -9.2,0zM531.8,124.7a4.6,4.6 0 1,0 9.2,0a4.6,4.6 0 1,0 -9.2,0zM536.1,124.8a4.6,4.6 0 1,0 9.2,0a4.6,4.6 0 1,0 -9.2,0zM540.5,124.7a4.6,4.6 0 1,0 9.2,0a4.6,4.6 0 1,0 -9.2,0zM544.8,124.6a4.6,4.6 0 1,0 9.2,0a4.6,4.6 0 1,0 -9.2,0zM549.2,125.1a4.6,4.6 0 1,0 9.2,0a4.6,4.6 0 1,0 -9.2,0zM553.5,125.4a4.6,4.6 0 1,0 9.2,0a4.6,4.6 0 1,0 -9.2,0zM557.9,125.3a4.6,4.6 0 1,0 9.2,0a4.6,4.6 0 1,0 -9.2,0zM562.2,124.8a4.6,4.6 0 1,0 9.2,0a4.6,4.6 0 1,0 -9.2,0zM566.6,124.1a4.6,4.6 0 1,0 9.2,0a4.6,4.6 0 1,0 -9.2,0zM570.9,124.0a4.6,4.6 0 1,0 9.2,0a4.6,4.6 0 1,0 -9.2,0zM575.3,122.7a4.6,4.6 0 1,0 9.2,0a4.6,4.6 0 1,0 -9.2,0zM579.6,122.4a4.6,4.6 0 1,0 9.2,0a4.6,4.6 0 1,0 -9.2,0zM584.0,121.9a4.6,4.6 0 1,0 9.2,0a4.6,4.6 0 1,0 -9.2,0zM588.3,121.5a4.6,4.6 0 1,0 9.2,0a4.6,4.6 0 1,0 -9.2,0zM592.7,121.6a4.6,4.6 0 1,0 9.2,0a4.6,4.6 0 1,0 -9.2,0zM597.0,121.4a4.6,4.6 0 1,0 9.2,0a4.6,4.6 0 1,0 -9.2,0zM601.4,121.5a4.6,4.6 0 1,0 9.2,0a4.6,4.6 0 1,0 -9.2,0zM605.7,120.6a4.6,4.6 0 1,0 9.2,0a4.6,4.6 0 1,0 -9.2,0zM610.1,121.7a4.6,4.6 0 1,0 9.2,0a4.6,4.6 0 1,0 -9.2,0zM614.4,122.7a4.6,4.6 0 1,0 9.2,0a4.6,4.6 0 1,0 -9.2,0zM618.8,121.3a4.6,4.6 0 1,0 9.2,0a4.6,4.6 0 1,0 -9.2,0zM623.1,121.3a4.6,4.6 0 1,0 9.2,0a4.6,4.6 0 1,0 -9.2,0zM627.5,122.4a4.6,4.6 0 1,0 9.2,0a4.6,4.6 0 1,0 -9.2,0zM631.8,123.9a4.6,4.6 0 1,0 9.2,0a4.6,4.6 0 1,0 -9.2,0zM636.2,124.5a4.6,4.6 0 1,0 9.2,0a4.6,4.6 0 1,0 -9.2,0zM640.5,124.8a4.6,4.6 0 1,0 9.2,0a4.6,4.6 0 1,0 -9.2,0zM644.9,125.9a4.6,4.6 0 1,0 9.2,0a4.6,4.6 0 1,0 -9.2,0zM649.2,127.3a4.6,4.6 0 1,0 9.2,0a4.6,4.6 0 1,0 -9.2,0zM653.6,128.0a4.6,4.6 0 1,0 9.2,0a4.6,4.6 0 1,0 -9.2,0zM657.9,129.7a4.6,4.6 0 1,0 9.2,0a4.6,4.6 0 1,0 -9.2,0zM662.3,129.4a4.6,4.6 0 1,0 9.2,0a4.6,4.6 0 1,0 -9.2,0zM666.6,129.3a4.6,4.6 0 1,0 9.2,0a4.6,4.6 0 1,0 -9.2,0zM671.0,129.6a4.6,4.6 0 1,0 9.2,0a4.6,4.6 0 1,0 -9.2,0zM675.3,129.4a4.6,4.6 0 1,0 9.2,0a4.6,4.6 0 1,0 -9.2,0zM679.7,129.3a4.6,4.6 0 1,0 9.2,0a4.6,4.6 0 1,0 -9.2,0zM684.0,130.3a4.6,4.6 0 1,0 9.2,0a4.6,4.6 0 1,0 -9.2,0zM688.4,130.9a4.6,4.6 0 1,0 9.2,0a4.6,4.6 0 1,0 -9.2,0zM692.7,130.5a4.6,4.6 0 1,0 9.2,0a4.6,4.6 0 1,0 -9.2,0zM697.1,131.4a4.6,4.6 0 1,0 9.2,0a4.6,4.6 0 1,0 -9.2,0zM701.4,132.0a4.6,4.6 0 1,0 9.2,0a4.6,4.6 0 1,0 -9.2,0zM705.8,132.8a4.6,4.6 0 1,0 9.2,0a4.6,4.6 0 1,0 -9.2,0zM710.1,133.0a4.6,4.6 0 1,0 9.2,0a4.6,4.6 0 1,0 -9.2,0zM714.5,132.8a4.6,4.6 0 1,0 9.2,0a4.6,4.6 0 1,0 -9.2,0zM718.8,131.6a4.6,4.6 0 1,0 9.2,0a4.6,4.6 0 1,0 -9.2,0zM723.2,131.1a4.6,4.6 0 1,0 9.2,0a4.6,4.6 0 1,0 -9.2,0zM727.5,128.8a4.6,4.6 0 1,0 9.2,0a4.6,4.6 0 1,0 -9.2,0zM731.9,129.5a4.6,4.6 0 1,0 9.2,0a4.6,4.6 0 1,0 -9.2,0zM736.2,129.1a4.6,4.6 0 1,0 9.2,0a4.6,4.6 0 1,0 -9.2,0zM740.6,128.0a4.6,4.6 0 1,0 9.2,0a4.6,4.6 0 1,0 -9.2,0zM744.9,128.0a4.6,4.6 0 1,0 9.2,0a4.6,4.6 0 1,0 -9.2,0zM749.3,127.6a4.6,4.6 0 1,0 9.2,0a4.6,4.6 0 1,0 -9.2,0zM753.6,126.6a4.6,4.6 0 1,0 9.2,0a4.6,4.6 0 1,0 -9.2,0zM758.0,126.7a4.6,4.6 0 1,0 9.2,0a4.6,4.6 0 1,0 -9.2,0zM762.3,126.9a4.6,4.6 0 1,0 9.2,0a4.6,4.6 0 1,0 -9.2,0zM766.7,126.9a4.6,4.6 0 1,0 9.2,0a4.6,4.6 0 1,0 -9.2,0zM771.0,127.6a4.6,4.6 0 1,0 9.2,0a4.6,4.6 0 1,0 -9.2,0zM775.4,127.4a4.6,4.6 0 1,0 9.2,0a4.6,4.6 0 1,0 -9.2,0zM779.7,127.7a4.6,4.6 0 1,0 9.2,0a4.6,4.6 0 1,0 -9.2,0zM784.1,127.5a4.6,4.6 0 1,0 9.2,0a4.6,4.6 0 1,0 -9.2,0zM788.4,128.0a4.6,4.6 0 1,0 9.2,0a4.6,4.6 0 1,0 -9.2,0zM792.8,128.3a4.6,4.6 0 1,0 9.2,0a4.6,4.6 0 1,0 -9.2,0zM797.1,129.5a4.6,4.6 0 1,0 9.2,0a4.6,4.6 0 1,0 -9.2,0zM801.5,128.5a4.6,4.6 0 1,0 9.2,0a4.6,4.6 0 1,0 -9.2,0zM805.8,127.7a4.6,4.6 0 1,0 9.2,0a4.6,4.6 0 1,0 -9.2,0zM810.2,128.2a4.6,4.6 0 1,0 9.2,0a4.6,4.6 0 1,0 -9.2,0zM814.5,127.7a4.6,4.6 0 1,0 9.2,0a4.6,4.6 0 1,0 -9.2,0zM818.9,126.0a4.6,4.6 0 1,0 9.2,0a4.6,4.6 0 1,0 -9.2,0zM823.2,127.0a4.6,4.6 0 1,0 9.2,0a4.6,4.6 0 1,0 -9.2,0zM827.6,125.2a4.6,4.6 0 1,0 9.2,0a4.6,4.6 0 1,0 -9.2,0zM831.9,125.5a4.6,4.6 0 1,0 9.2,0a4.6,4.6 0 1,0 -9.2,0zM836.3,123.9a4.6,4.6 0 1,0 9.2,0a4.6,4.6 0 1,0 -9.2,0zM840.6,122.9a4.6,4.6 0 1,0 9.2,0a4.6,4.6 0 1,0 -9.2,0zM845.0,123.1a4.6,4.6 0 1,0 9.2,0a4.6,4.6 0 1,0 -9.2,0zM849.3,121.3a4.6,4.6 0 1,0 9.2,0a4.6,4.6 0 1,0 -9.2,0zM853.7,122.0a4.6,4.6 0 1,0 9.2,0a4.6,4.6 0 1,0 -9.2,0zM858.0,122.8a4.6,4.6 0 1,0 9.2,0a4.6,4.6 0 1,0 -9.2,0zM862.4,123.4a4.6,4.6 0 1,0 9.2,0a4.6,4.6 0 1,0 -9.2,0zM866.7,123.9a4.6,4.6 0 1,0 9.2,0a4.6,4.6 0 1,0 -9.2,0zM871.1,123.9a4.6,4.6 0 1,0 9.2,0a4.6,4.6 0 1,0 -9.2,0zM875.4,124.0a4.6,4.6 0 1,0 9.2,0a4.6,4.6 0 1,0 -9.2,0zM879.8,125.8a4.6,4.6 0 1,0 9.2,0a4.6,4.6 0 1,0 -9.2,0zM884.1,125.0a4.6,4.6 0 1,0 9.2,0a4.6,4.6 0 1,0 -9.2,0zM888.5,127.0a4.6,4.6 0 1,0 9.2,0a4.6,4.6 0 1,0 -9.2,0zM892.8,126.7a4.6,4.6 0 1,0 9.2,0a4.6,4.6 0 1,0 -9.2,0zM897.2,128.4a4.6,4.6 0 1,0 9.2,0a4.6,4.6 0 1,0 -9.2,0zM901.5,129.2a4.6,4.6 0 1,0 9.2,0a4.6,4.6 0 1,0 -9.2,0zM905.9,129.0a4.6,4.6 0 1,0 9.2,0a4.6,4.6 0 1,0 -9.2,0zM910.2,130.6a4.6,4.6 0 1,0 9.2,0a4.6,4.6 0 1,0 -9.2,0zM914.6,131.6a4.6,4.6 0 1,0 9.2,0a4.6,4.6 0 1,0 -9.2,0zM918.9,132.5a4.6,4.6 0 1,0 9.2,0a4.6,4.6 0 1,0 -9.2,0zM923.3,132.1a4.6,4.6 0 1,0 9.2,0a4.6,4.6 0 1,0 -9.2,0zM927.6,132.5a4.6,4.6 0 1,0 9.2,0a4.6,4.6 0 1,0 -9.2,0zM932.0,132.3a4.6,4.6 0 1,0 9.2,0a4.6,4.6 0 1,0 -9.2,0zM936.3,132.1a4.6,4.6 0 1,0 9.2,0a4.6,4.6 0 1,0 -9.2,0zM940.7,133.3a4.6,4.6 0 1,0 9.2,0a4.6,4.6 0 1,0 -9.2,0zM945.0,132.9a4.6,4.6 0 1,0 9.2,0a4.6,4.6 0 1,0 -9.2,0zM949.4,134.4a4.6,4.6 0 1,0 9.2,0a4.6,4.6 0 1,0 -9.2,0zM953.7,134.6a4.6,4.6 0 1,0 9.2,0a4.6,4.6 0 1,0 -9.2,0zM958.1,134.4a4.6,4.6 0 1,0 9.2,0a4.6,4.6 0 1,0 -9.2,0zM962.4,135.3a4.6,4.6 0 1,0 9.2,0a4.6,4.6 0 1,0 -9.2,0zM966.8,135.0a4.6,4.6 0 1,0 9.2,0a4.6,4.6 0 1,0 -9.2,0zM971.1,133.8a4.6,4.6 0 1,0 9.2,0a4.6,4.6 0 1,0 -9.2,0zM975.5,133.6a4.6,4.6 0 1,0 9.2,0a4.6,4.6 0 1,0 -9.2,0zM979.8,132.2a4.6,4.6 0 1,0 9.2,0a4.6,4.6 0 1,0 -9.2,0zM984.2,132.4a4.6,4.6 0 1,0 9.2,0a4.6,4.6 0 1,0 -9.2,0zM988.5,131.3a4.6,4.6 0 1,0 9.2,0a4.6,4.6 0 1,0 -9.2,0zM992.9,129.9a4.6,4.6 0 1,0 9.2,0a4.6,4.6 0 1,0 -9.2,0zM997.2,129.8a4.6,4.6 0 1,0 9.2,0a4.6,4.6 0 1,0 -9.2,0zM1001.6,129.2a4.6,4.6 0 1,0 9.2,0a4.6,4.6 0 1,0 -9.2,0zM1005.9,128.1a4.6,4.6 0 1,0 9.2,0a4.6,4.6 0 1,0 -9.2,0zM1010.3,128.8a4.6,4.6 0 1,0 9.2,0a4.6,4.6 0 1,0 -9.2,0zM1014.6,128.3a4.6,4.6 0 1,0 9.2,0a4.6,4.6 0 1,0 -9.2,0zM1019.0,128.3a4.6,4.6 0 1,0 9.2,0a4.6,4.6 0 1,0 -9.2,0zM1023.4,128.0a4.6,4.6 0 1,0 9.2,0a4.6,4.6 0 1,0 -9.2,0zM1027.7,129.2a4.6,4.6 0 1,0 9.2,0a4.6,4.6 0 1,0 -9.2,0zM1032.0,129.0a4.6,4.6 0 1,0 9.2,0a4.6,4.6 0 1,0 -9.2,0zM1036.4,130.0a4.6,4.6 0 1,0 9.2,0a4.6,4.6 0 1,0 -9.2,0zM1040.8,130.9a4.6,4.6 0 1,0 9.2,0a4.6,4.6 0 1,0 -9.2,0zM1045.1,130.5a4.6,4.6 0 1,0 9.2,0a4.6,4.6 0 1,0 -9.2,0zM1049.5,130.1a4.6,4.6 0 1,0 9.2,0a4.6,4.6 0 1,0 -9.2,0zM1053.8,130.7a4.6,4.6 0 1,0 9.2,0a4.6,4.6 0 1,0 -9.2,0zM1058.2,131.0a4.6,4.6 0 1,0 9.2,0a4.6,4.6 0 1,0 -9.2,0zM1062.5,131.1a4.6,4.6 0 1,0 9.2,0a4.6,4.6 0 1,0 -9.2,0zM1066.8,129.8a4.6,4.6 0 1,0 9.2,0a4.6,4.6 0 1,0 -9.2,0zM1071.2,130.1a4.6,4.6 0 1,0 9.2,0a4.6,4.6 0 1,0 -9.2,0zM1075.5,130.1a4.6,4.6 0 1,0 9.2,0a4.6,4.6 0 1,0 -9.2,0zM1079.9,130.0a4.6,4.6 0 1,0 9.2,0a4.6,4.6 0 1,0 -9.2,0zM1084.2,129.9a4.6,4.6 0 1,0 9.2,0a4.6,4.6 0 1,0 -9.2,0zM1088.6,128.7a4.6,4.6 0 1,0 9.2,0a4.6,4.6 0 1,0 -9.2,0zM1093.0,128.6a4.6,4.6 0 1,0 9.2,0a4.6,4.6 0 1,0 -9.2,0zM1097.3,129.0a4.6,4.6 0 1,0 9.2,0a4.6,4.6 0 1,0 -9.2,0zM1101.6,128.4a4.6,4.6 0 1,0 9.2,0a4.6,4.6 0 1,0 -9.2,0zM1106.0,128.1a4.6,4.6 0 1,0 9.2,0a4.6,4.6 0 1,0 -9.2,0zM1110.3,128.2a4.6,4.6 0 1,0 9.2,0a4.6,4.6 0 1,0 -9.2,0z"/>
<path id="p_b_t" d="M75.3,605.9l4.4,9.5h-8.8zM79.6,606.2l4.4,9.5h-8.8zM84.0,605.8l4.4,9.5h-8.8zM88.3,605.4l4.4,9.5h-8.8zM92.7,605.5l4.4,9.5h-8.8zM97.0,606.3l4.4,9.5h-8.8zM101.4,606.3l4.4,9.5h-8.8zM105.8,606.1l4.4,9.5h-8.8zM110.1,606.7l4.4,9.5h-8.8zM114.4,606.2l4.4,9.5h-8.8zM118.8,606.8l4.4,9.5h-8.8zM123.1,607.6l4.4,9.5h-8.8zM127.5,608.5l4.4,9.5h-8.8zM131.8,609.1l4.4,9.5h-8.8zM136.2,609.4l4.4,9.5h-8.8zM140.6,607.2l4.4,9.5h-8.8zM144.9,604.6l4.4,9.5h-8.8zM149.2,605.6l4.4,9.5h-8.8zM153.6,605.9l4.4,9.5h-8.8zM157.9,605.5l4.4,9.5h-8.8zM162.3,605.7l4.4,9.5h-8.8zM166.6,604.8l4.4,9.5h-8.8zM171.0,605.3l4.4,9.5h-8.8zM175.3,605.0l4.4,9.5h-8.8zM179.7,604.8l4.4,9.5h-8.8zM184.0,604.7l4.4,9.5h-8.8zM188.4,604.8l4.4,9.5h-8.8zM192.8,605.0l4.4,9.5h-8.8zM197.1,604.2l4.4,9.5h-8.8zM201.4,604.1l4.4,9.5h-8.8zM205.8,604.3l4.4,9.5h-8.8zM210.1,604.0l4.4,9.5h-8.8zM214.5,604.1l4.4,9.5h-8.8zM218.8,604.2l4.4,9.5h-8.8zM223.2,604.4l4.4,9.5h-8.8zM227.6,603.6l4.4,9.5h-8.8zM231.9,602.4l4.4,9.5h-8.8zM236.2,603.4l4.4,9.5h-8.8zM240.6,603.5l4.4,9.5h-8.8zM244.9,603.2l4.4,9.5h-8.8zM249.3,603.1l4.4,9.5h-8.8zM253.6,601.9l4.4,9.5h-8.8zM258.0,603.2l4.4,9.5h-8.8zM262.3,602.7l4.4,9.5h-8.8zM266.7,602.0l4.4,9.5h-8.8zM271.0,602.3l4.4,9.5h-8.8zM275.4,602.2l4.4,9.5h-8.8zM279.8,602.8l4.4,9.5h-8.8zM284.1,602.8l4.4,9.5h-8.8zM288.4,603.2l4.4,9.5h-8.8zM292.8,602.8l4.4,9.5h-8.8zM297.1,601.7l4.4,9.5h-8.8zM301.5,601.7l4.4,9.5h-8.8zM305.8,602.9l4.4,9.5h-8.8zM310.2,603.1l4.4,9.5h-8.8zM314.5,602.2l4.4,9.5h-8.8zM318.9,602.6l4.4,9.5h-8.8zM323.2,601.5l4.4,9.5h-8.8zM327.6,601.3l4.4,9.5h-8.8zM331.9,601.6l4.4,9.5h-8.8zM336.3,602.0l4.4,9.5h-8.8zM340.6,601.9l4.4,9.5h-8.8zM345.0,602.1l4.4,9.5h-8.8zM349.3,601.9l4.4,9.5h-8.8zM353.7,602.5l4.4,9.5h-8.8zM358.1,602.9l4.4,9.5h-8.8zM362.4,602.2l4.4,9.5h-8.8zM366.8,603.1l4.4,9.5h-8.8zM371.1,601.8l4.4,9.5h-8.8zM375.4,601.8l4.4,9.5h-8.8zM379.8,602.3l4.4,9.5h-8.8zM384.1,601.9l4.4,9.5h-8.8zM388.5,602.7l4.4,9.5h-8.8zM392.8,601.8l4.4,9.5h-8.8zM397.2,602.7l4.4,9.5h-8.8zM401.6,602.2l4.4,9.5h-8.8zM405.9,603.3l4.4,9.5h-8.8zM410.2,601.8l4.4,9.5h-8.8zM414.6,601.9l4.4,9.5h-8.8zM418.9,602.1l4.4,9.5h-8.8zM423.3,600.9l4.4,9.5h-8.8zM427.6,602.3l4.4,9.5h-8.8zM432.0,602.3l4.4,9.5h-8.8zM436.3,602.2l4.4,9.5h-8.8zM440.7,601.4l4.4,9.5h-8.8zM445.0,601.5l4.4,9.5h-8.8zM449.4,602.6l4.4,9.5h-8.8zM453.8,603.0l4.4,9.5h-8.8zM458.1,603.3l4.4,9.5h-8.8zM462.4,602.1l4.4,9.5h-8.8zM466.8,602.1l4.4,9.5h-8.8zM471.1,602.5l4.4,9.5h-8.8zM475.5,601.7l4.4,9.5h-8.8zM479.8,602.5l4.4,9.5h-8.8zM484.2,603.3l4.4,9.5h-8.8zM488.5,603.7l4.4,9.5h-8.8zM492.9,603.1l4.4,9.5h-8.8zM497.2,603.8l4.4,9.5h-8.8zM501.6,603.2l4.4,9.5h-8.8zM505.9,603.2l4.4,9.5h-8.8zM510.3,603.0l4.4,9.5h-8.8zM514.6,603.2l4.4,9.5h-8.8zM519.0,603.0l4.4,9.5h-8.8zM523.3,603.1l4.4,9.5h-8.8zM527.7,602.8l4.4,9.5h-8.8zM532.0,603.3l4.4,9.5h-8.8zM536.4,603.2l4.4,9.5h-8.8zM540.8,602.5l4.4,9.5h-8.8zM545.1,603.1l4.4,9.5h-8.8zM549.4,602.8l4.4,9.5h-8.8zM553.8,602.3l4.4,9.5h-8.8zM558.1,603.6l4.4,9.5h-8.8zM562.5,604.1l4.4,9.5h-8.8zM566.8,604.5l4.4,9.5h-8.8zM571.2,604.2l4.4,9.5h-8.8zM575.5,603.0l4.4,9.5h-8.8zM579.9,604.0l4.4,9.5h-8.8zM584.2,604.0l4.4,9.5h-8.8zM588.6,602.5l4.4,9.5h-8.8zM592.9,603.9l4.4,9.5h-8.8zM597.3,603.8l4.4,9.5h-8.8zM601.6,603.6l4.4,9.5h-8.8zM606.0,603.8l4.4,9.5h-8.8zM610.3,603.7l4.4,9.5h-8.8zM614.7,604.5l4.4,9.5h-8.8zM619.0,603.5l4.4,9.5h-8.8zM623.4,603.7l4.4,9.5h-8.8zM627.7,603.8l4.4,9.5h-8.8zM632.1,604.0l4.4,9.5h-8.8zM636.4,603.0l4.4,9.5h-8.8zM640.8,604.6l4.4,9.5h-8.8zM645.1,604.1l4.4,9.5h-8.8zM649.5,604.3l4.4,9.5h-8.8zM653.8,604.2l4.4,9.5h-8.8zM658.2,604.0l4.4,9.5h-8.8zM662.5,604.0l4.4,9.5h-8.8zM666.9,604.2l4.4,9.5h-8.8zM671.2,604.3l4.4,9.5h-8.8zM675.6,604.9l4.4,9.5h-8.8zM679.9,604.5l4.4,9.5h-8.8zM684.3,604.3l4.4,9.5h-8.8zM688.6,605.4l4.4,9.5h-8.8zM693.0,603.8l4.4,9.5h-8.8zM697.3,603.8l4.4,9.5h-8.8zM701.7,604.8l4.4,9.5h-8.8zM706.0,604.6l4.4,9.5h-8.8zM710.4,603.9l4.4,9.5h-8.8zM714.7,604.7l4.4,9.5h-8.8zM719.1,604.5l4.4,9.5h-8.8zM723.4,605.6l4.4,9.5h-8.8zM727.8,604.8l4.4,9.5h-8.8zM732.1,605.7l4.4,9.5h-8.8zM736.5,605.5l4.4,9.5h-8.8zM740.8,605.2l4.4,9.5h-8.8zM745.2,605.4l4.4,9.5h-8.8zM749.5,605.7l4.4,9.5h-8.8zM753.9,604.4l4.4,9.5h-8.8zM758.2,605.8l4.4,9.5h-8.8zM762.6,605.5l4.4,9.5h-8.8zM766.9,606.7l4.4,9.5h-8.8zM771.3,605.5l4.4,9.5h-8.8zM775.6,606.5l4.4,9.5h-8.8zM780.0,604.7l4.4,9.5h-8.8zM784.3,606.4l4.4,9.5h-8.8zM788.7,606.1l4.4,9.5h-8.8zM793.0,605.9l4.4,9.5h-8.8zM797.4,605.9l4.4,9.5h-8.8zM801.7,605.9l4.4,9.5h-8.8zM806.1,606.2l4.4,9.5h-8.8zM810.4,605.9l4.4,9.5h-8.8zM814.8,605.1l4.4,9.5h-8.8zM819.1,605.9l4.4,9.5h-8.8zM823.5,607.1l4.4,9.5h-8.8zM827.8,606.0l4.4,9.5h-8.8zM832.2,606.1l4.4,9.5h-8.8zM836.5,605.8l4.4,9.5h-8.8zM840.9,606.1l4.4,9.5h-8.8zM845.2,606.1l4.4,9.5h-8.8zM849.6,605.9l4.4,9.5h-8.8zM853.9,606.4l4.4,9.5h-8.8zM858.3,605.6l4.4,9.5h-8.8zM862.6,606.0l4.4,9.5h-8.8zM867.0,606.4l4.4,9.5h-8.8zM871.3,606.1l4.4,9.5h-8.8zM875.7,605.7l4.4,9.5h-8.8zM880.0,606.7l4.4,9.5h-8.8zM884.4,605.9l4.4,9.5h-8.8zM888.7,606.3l4.4,9.5h-8.8zM893.1,606.2l4.4,9.5h-8.8zM897.4,606.3l4.4,9.5h-8.8zM901.8,605.8l4.4,9.5h-8.8zM906.1,605.4l4.4,9.5h-8.8zM910.5,605.7l4.4,9.5h-8.8zM914.8,606.1l4.4,9.5h-8.8zM919.2,605.1l4.4,9.5h-8.8zM923.5,605.6l4.4,9.5h-8.8zM927.9,605.2l4.4,9.5h-8.8zM932.2,605.5l4.4,9.5h-8.8zM936.6,606.0l4.4,9.5h-8.8zM940.9,605.5l4.4,9.5h-8.8zM945.3,605.1l4.4,9.5h-8.8zM949.6,605.2l4.4,9.5h-8.8zM954.0,605.3l4.4,9.5h-8.8zM958.3,605.7l4.4,9.5h-8.8zM962.7,606.1l4.4,9.5h-8.8zM967.0,605.1l4.4,9.5h-8.8zM971.4,605.3l4.4,9.5h-8.8zM975.7,605.4l4.4,9.5h-8.8zM980.1,605.0l4.4,9.5h-8.8zM984.4,606.6l4.4,9.5h-8.8zM988.8,606.0l4.4,9.5h-8.8zM993.1,607.0l4.4,9.5h-8.8zM997.5,605.3l4.4,9.5h-8.8zM1001.8,606.7l4.4,9.5h-8.8zM1006.2,605.7l4.4,9.5h-8.8zM1010.5,605.8l4.4,9.5h-8.8zM1014.9,605.5l4.4,9.5h-8.8zM1019.2,605.6l4.4,9.5h-8.8zM1023.6,605.4l4.4,9.5h-8.8zM1028.0,606.2l4.4,9.5h-8.8zM1032.3,605.4l4.4,9.5h-8.8zM1036.6,606.0l4.4,9.5h-8.8zM1041.0,606.1l4.4,9.5h-8.8zM1045.3,606.4l4.4,9.5h-8.8zM1049.7,606.1l4.4,9.5h-8.8zM1054.0,606.3l4.4,9.5h-8.8zM1058.4,606.4l4.4,9.5h-8.8zM1062.8,606.1l4.4,9.5h-8.8zM1067.1,606.3l4.4,9.5h-8.8zM1071.4,605.6l4.4,9.5h-8.8zM1075.8,605.7l4.4,9.5h-8.8zM1080.1,607.1l4.4,9.5h-8.8zM1084.5,606.1l4.4,9.5h-8.8zM1088.8,605.8l4.4,9.5h-8.8zM1093.2,606.9l4.4,9.5h-8.8zM1097.5,606.1l4.4,9.5h-8.8zM1101.9,605.9l4.4,9.5h-8.8zM1106.2,605.5l4.4,9.5h-8.8zM1110.6,606.6l4.4,9.5h-8.8zM1114.9,605.7l4.4,9.5h-8.8z"/>
<path id="p_b_s" d="M71.0,536.1h8.7v8.7h-8.7zM75.3,536.8h8.7v8.7h-8.7zM79.7,536.6h8.7v8.7h-8.7zM84.0,536.5h8.7v8.7h-8.7zM88.3,536.6h8.7v8.7h-8.7zM92.7,537.3h8.7v8.7h-8.7zM97.0,537.9h8.7v8.7h-8.7zM101.4,536.6h8.7v8.7h-8.7zM105.8,537.3h8.7v8.7h-8.7zM110.1,538.0h8.7v8.7h-8.7zM114.5,537.7h8.7v8.7h-8.7zM118.8,536.9h8.7v8.7h-8.7zM123.2,537.1h8.7v8.7h-8.7zM127.5,537.0h8.7v8.7h-8.7zM131.8,537.0h8.7v8.7h-8.7zM136.2,537.2h8.7v8.7h-8.7zM140.5,537.7h8.7v8.7h-8.7zM144.9,537.3h8.7v8.7h-8.7zM149.2,538.0h8.7v8.7h-8.7zM153.6,537.6h8.7v8.7h-8.7zM158.0,537.4h8.7v8.7h-8.7zM162.3,538.0h8.7v8.7h-8.7zM166.7,537.7h8.7v8.7h-8.7zM171.0,537.7h8.7v8.7h-8.7zM175.3,538.1h8.7v8.7h-8.7zM179.7,537.8h8.7v8.7h-8.7zM184.0,537.5h8.7v8.7h-8.7zM188.4,538.0h8.7v8.7h-8.7zM192.7,537.7h8.7v8.7h-8.7zM197.1,539.0h8.7v8.7h-8.7zM201.5,538.1h8.7v8.7h-8.7zM205.8,538.1h8.7v8.7h-8.7zM210.2,538.2h8.7v8.7h-8.7zM214.5,537.6h8.7v8.7h-8.7zM218.8,538.2h8.7v8.7h-8.7zM223.2,537.6h8.7v8.7h-8.7zM227.5,537.1h8.7v8.7h-8.7zM231.9,537.3h8.7v8.7h-8.7zM236.2,537.8h8.7v8.7h-8.7zM240.6,536.8h8.7v8.7h-8.7zM245.0,537.7h8.7v8.7h-8.7zM249.3,537.2h8.7v8.7h-8.7zM253.7,537.9h8.7v8.7h-8.7zM258.0,537.2h8.7v8.7h-8.7zM262.3,538.5h8.7v8.7h-8.7zM266.7,537.9h8.7v8.7h-8.7zM271.0,536.9h8.7v8.7h-8.7zM275.4,538.4h8.7v8.7h-8.7zM279.7,537.4h8.7v8.7h-8.7zM284.1,537.2h8.7v8.7h-8.7zM288.4,537.0h8.7v8.7h-8.7zM292.8,537.8h8.7v8.7h-8.7zM297.1,538.3h8.7v8.7h-8.7zM301.5,537.3h8.7v8.7h-8.7zM305.8,537.1h8.7v8.7h-8.7zM310.2,537.0h8.7v8.7h-8.7zM314.5,538.3h8.7v8.7h-8.7zM318.9,538.4h8.7v8.7h-8.7zM323.2,537.4h8.7v8.7h-8.7zM327.6,537.8h8.7v8.7h-8.7zM331.9,537.5h8.7v8.7h-8.7zM336.3,537.5h8.7v8.7h-8.7zM340.6,538.0h8.7v8.7h-8.7zM345.0,537.8h8.7v8.7h-8.7zM349.3,537.7h8.7v8.7h-8.7zM353.7,537.4h8.7v8.7h-8.7zM358.0,538.0h8.7v8.7h-8.7zM362.4,537.4h8.7v8.7h-8.7zM366.7,537.6h8.7v8.7h-8.7zM371.1,537.7h8.7v8.7h-8.7zM375.4,536.9h8.7v8.7h-8.7zM379.8,537.4h8.7v8.7h-8.7zM384.1,537.4h8.7v8.7h-8.7zM388.5,537.6h8.7v8.7h-8.7zM392.8,537.0h8.7v8.7h-8.7zM397.2,537.0h8.7v8.7h-8.7zM401.5,538.3h8.7v8.7h-8.7zM405.9,537.9h8.7v8.7h-8.7zM410.2,537.7h8.7v8.7h-8.7zM414.6,538.0h8.7v8.7h-8.7zM418.9,537.2h8.7v8.7h-8.7zM423.3,536.8h8.7v8.7h-8.7zM427.6,537.0h8.7v8.7h-8.7zM432.0,535.7h8.7v8.7h-8.7zM436.3,535.9h8.7v8.7h-8.7zM440.7,536.7h8.7v8.7h-8.7zM445.0,536.2h8.7v8.7h-8.7zM449.4,535.5h8.7v8.7h-8.7zM453.7,536.3h8.7v8.7h-8.7zM458.1,536.3h8.7v8.7h-8.7zM462.4,536.1h8.7v8.7h-8.7zM466.8,535.6h8.7v8.7h-8.7zM471.1,535.1h8.7v8.7h-8.7zM475.5,535.4h8.7v8.7h-8.7zM479.8,535.5h8.7v8.7h-8.7zM484.2,535.4h8.7v8.7h-8.7zM488.5,536.2h8.7v8.7h-8.7zM492.9,536.4h8.7v8.7h-8.7zM497.2,536.7h8.7v8.7h-8.7zM501.6,535.8h8.7v8.7h-8.7zM505.9,537.6h8.7v8.7h-8.7zM510.3,538.2h8.7v8.7h-8.7zM514.6,537.4h8.7v8.7h-8.7zM519.0,536.9h8.7v8.7h-8.7zM523.3,537.9h8.7v8.7h-8.7zM527.7,537.4h8.7v8.7h-8.7zM532.0,537.2h8.7v8.7h-8.7zM536.4,538.3h8.7v8.7h-8.7zM540.7,537.1h8.7v8.7h-8.7zM545.1,538.2h8.7v8.7h-8.7zM549.4,537.2h8.7v8.7h-8.7zM553.8,538.6h8.7v8.7h-8.7zM558.1,538.2h8.7v8.7h-8.7zM562.5,537.8h8.7v8.7h-8.7zM566.8,538.0h8.7v8.7h-8.7zM571.2,538.3h8.7v8.7h-8.7zM575.5,538.4h8.7v8.7h-8.7zM579.9,538.5h8.7v8.7h-8.7zM584.2,538.4h8.7v8.7h-8.7zM588.6,537.9h8.7v8.7h-8.7zM592.9,538.6h8.7v8.7h-8.7zM597.3,537.8h8.7v8.7h-8.7zM601.6,539.1h8.7v8.7h-8.7zM606.0,539.3h8.7v8.7h-8.7zM610.3,539.7h8.7v8.7h-8.7zM614.7,538.7h8.7v8.7h-8.7zM619.0,538.7h8.7v8.7h-8.7zM623.4,538.6h8.7v8.7h-8.7zM627.7,538.0h8.7v8.7h-8.7zM632.1,537.2h8.7v8.7h-8.7zM636.4,537.2h8.7v8.7h-8.7zM640.8,536.6h8.7v8.7h-8.7zM645.1,536.7h8.7v8.7h-8.7zM649.5,535.7h8.7v8.7h-8.7zM653.8,536.3h8.7v8.7h-8.7zM658.2,536.4h8.7v8.7h-8.7zM662.5,536.7h8.7v8.7h-8.7zM666.9,536.5h8.7v8.7h-8.7zM671.2,536.7h8.7v8.7h-8.7zM675.6,536.7h8.7v8.7h-8.7zM679.9,536.9h8.7v8.7h-8.7zM684.3,537.0h8.7v8.7h-8.7zM688.6,536.9h8.7v8.7h-8.7zM693.0,538.6h8.7v8.7h-8.7zM697.3,536.9h8.7v8.7h-8.7zM701.7,536.9h8.7v8.7h-8.7zM706.0,537.2h8.7v8.7h-8.7zM710.4,537.3h8.7v8.7h-8.7zM714.7,537.8h8.7v8.7h-8.7zM719.1,538.5h8.7v8.7h-8.7zM723.4,538.8h8.7v8.7h-8.7zM727.8,538.1h8.7v8.7h-8.7zM732.1,536.8h8.7v8.7h-8.7zM736.5,538.4h8.7v8.7h-8.7zM740.8,537.6h8.7v8.7h-8.7zM745.2,538.1h8.7v8.7h-8.7zM749.5,537.8h8.7v8.7h-8.7zM753.9,538.7h8.7v8.7h-8.7zM758.2,538.3h8.7v8.7h-8.7zM762.6,539.0h8.7v8.7h-8.7zM766.9,538.6h8.7v8.7h-8.7zM771.3,538.0h8.7v8.7h-8.7zM775.6,537.9h8.7v8.7h-8.7zM780.0,538.0h8.7v8.7h-8.7zM784.3,537.1h8.7v8.7h-8.7zM788.7,537.5h8.7v8.7h-8.7zM793.0,536.8h8.7v8.7h-8.7zM797.4,536.7h8.7v8.7h-8.7zM801.7,536.7h8.7v8.7h-8.7zM806.1,536.7h8.7v8.7h-8.7zM810.4,536.3h8.7v8.7h-8.7zM814.8,536.3h8.7v8.7h-8.7zM819.1,536.8h8.7v8.7h-8.7zM823.5,535.8h8.7v8.7h-8.7zM827.8,537.5h8.7v8.7h-8.7zM832.2,536.2h8.7v8.7h-8.7zM836.5,537.5h8.7v8.7h-8.7zM840.9,536.9h8.7v8.7h-8.7zM845.2,537.6h8.7v8.7h-8.7zM849.6,537.5h8.7v8.7h-8.7zM853.9,537.7h8.7v8.7h-8.7zM858.3,537.1h8.7v8.7h-8.7zM862.6,536.5h8.7v8.7h-8.7zM867.0,537.8h8.7v8.7h-8.7zM871.3,537.2h8.7v8.7h-8.7zM875.7,537.2h8.7v8.7h-8.7zM880.0,537.2h8.7v8.7h-8.7zM884.4,538.5h8.7v8.7h-8.7zM888.7,536.7h8.7v8.7h-8.7zM893.1,536.6h8.7v8.7h-8.7zM897.4,535.3h8.7v8.7h-8.7zM901.8,536.1h8.7v8.7h-8.7zM906.1,534.5h8.7v8.7h-8.7zM910.5,533.2h8.7v8.7h-8.7zM914.8,535.9h8.7v8.7h-8.7zM919.2,534.0h8.7v8.7h-8.7zM923.5,535.2h8.7v8.7h-8.7zM927.9,534.9h8.7v8.7h-8.7zM932.2,534.9h8.7v8.7h-8.7zM936.6,534.4h8.7v8.7h-8.7zM940.9,534.6h8.7v8.7h-8.7zM945.3,535.2h8.7v8.7h-8.7zM949.6,534.4h8.7v8.7h-8.7zM954.0,534.7h8.7v8.7h-8.7zM958.3,535.1h8.7v8.7h-8.7zM962.7,534.8h8.7v8.7h-8.7zM967.0,534.7h8.7v8.7h-8.7zM971.4,535.7h8.7v8.7h-8.7zM975.7,535.3h8.7v8.7h-8.7zM980.1,535.1h8.7v8.7h-8.7zM984.4,534.9h8.7v8.7h-8.7zM988.8,534.9h8.7v8.7h-8.7zM993.1,536.0h8.7v8.7h-8.7zM997.5,536.1h8.7v8.7h-8.7zM1001.8,534.7h8.7v8.7h-8.7zM1006.2,535.5h8.7v8.7h-8.7zM1010.5,536.4h8.7v8.7h-8.7zM1014.9,537.2h8.7v8.7h-8.7zM1019.2,537.1h8.7v8.7h-8.7zM1023.6,536.5h8.7v8.7h-8.7zM1028.0,536.7h8.7v8.7h-8.7zM1032.3,535.8h8.7v8.7h-8.7zM1036.7,536.4h8.7v8.7h-8.7zM1041.0,535.5h8.7v8.7h-8.7zM1045.3,535.8h8.7v8.7h-8.7zM1049.7,536.3h8.7v8.7h-8.7zM1054.0,537.2h8.7v8.7h-8.7zM1058.4,536.5h8.7v8.7h-8.7zM1062.8,536.3h8.7v8.7h-8.7zM1067.1,536.1h8.7v8.7h-8.7zM1071.5,535.5h8.7v8.7h-8.7zM1075.8,536.5h8.7v8.7h-8.7zM1080.2,536.1h8.7v8.7h-8.7zM1084.5,536.4h8.7v8.7h-8.7zM1088.8,535.8h8.7v8.7h-8.7zM1093.2,536.3h8.7v8.7h-8.7zM1097.5,535.5h8.7v8.7h-8.7zM1101.9,536.6h8.7v8.7h-8.7zM1106.2,537.0h8.7v8.7h-8.7zM1110.6,536.8h8.7v8.7h-8.7z"/>
<path id="p_b_d" d="M75.3,529.9l4.4,6.2l-4.4,6.2l-4.4,-6.2zM79.6,529.4l4.4,6.2l-4.4,6.2l-4.4,-6.2zM84.0,530.0l4.4,6.2l-4.4,6.2l-4.4,-6.2zM88.3,530.4l4.4,6.2l-4.4,6.2l-4.4,-6.2zM92.7,530.1l4.4,6.2l-4.4,6.2l-4.4,-6.2zM97.0,532.1l4.4,6.2l-4.4,6.2l-4.4,-6.2zM101.4,532.3l4.4,6.2l-4.4,6.2l-4.4,-6.2zM105.8,532.6l4.4,6.2l-4.4,6.2l-4.4,-6.2zM110.1,533.1l4.4,6.2l-4.4,6.2l-4.4,-6.2zM114.4,534.7l4.4,6.2l-4.4,6.2l-4.4,-6.2zM118.8,535.7l4.4,6.2l-4.4,6.2l-4.4,-6.2zM123.1,536.2l4.4,6.2l-4.4,6.2l-4.4,-6.2zM127.5,537.1l4.4,6.2l-4.4,6.2l-4.4,-6.2zM131.8,537.8l4.4,6.2l-4.4,6.2l-4.4,-6.2zM136.2,538.6l4.4,6.2l-4.4,6.2l-4.4,-6.2zM140.6,540.0l4.4,6.2l-4.4,6.2l-4.4,-6.2zM144.9,540.8l4.4,6.2l-4.4,6.2l-4.4,-6.2zM149.2,540.0l4.4,6.2l-4.4,6.2l-4.4,-6.2zM153.6,541.6l4.4,6.2l-4.4,6.2l-4.4,-6.2zM157.9,541.6l4.4,6.2l-4.4,6.2l-4.4,-6.2zM162.3,542.3l4.4,6.2l-4.4,6.2l-4.4,-6.2zM166.6,543.9l4.4,6.2l-4.4,6.2l-4.4,-6.2zM171.0,543.2l4.4,6.2l-4.4,6.2l-4.4,-6.2zM175.3,542.0l4.4,6.2l-4.4,6.2l-4.4,-6.2zM179.7,543.9l4.4,6.2l-4.4,6.2l-4.4,-6.2zM184.0,544.2l4.4,6.2l-4.4,6.2l-4.4,-6.2zM188.4,544.6l4.4,6.2l-4.4,6.2l-4.4,-6.2zM192.8,543.4l4.4,6.2l-4.4,6.2l-4.4,-6.2zM197.1,544.3l4.4,6.2l-4.4,6.2l-4.4,-6.2zM201.4,542.3l4.4,6.2l-4.4,6.2l-4.4,-6.2zM205.8,543.1l4.4,6.2l-4.4,6.2l-4.4,-6.2zM210.1,543.9l4.4,6.2l-4.4,6.2l-4.4,-6.2zM214.5,544.1l4.4,6.2l-4.4,6.2l-4.4,-6.2zM218.8,545.0l4.4,6.2l-4.4,6.2l-4.4,-6.2zM223.2,545.3l4.4,6.2l-4.4,6.2l-4.4,-6.2zM227.6,545.2l4.4,6.2l-4.4,6.2l-4.4,-6.2zM231.9,546.4l4.4,6.2l-4.4,6.2l-4.4,-6.2zM236.2,546.5l4.4,6.2l-4.4,6.2l-4.4,-6.2zM240.6,547.4l4.4,6.2l-4.4,6.2l-4.4,-6.2zM244.9,546.6l4.4,6.2l-4.4,6.2l-4.4,-6.2zM249.3,547.6l4.4,6.2l-4.4,6.2l-4.4,-6.2zM253.6,547.7l4.4,6.2l-4.4,6.2l-4.4,-6.2zM258.0,548.7l4.4,6.2l-4.4,6.2l-4.4,-6.2zM262.3,548.6l4.4,6.2l-4.4,6.2l-4.4,-6.2zM266.7,549.0l4.4,6.2l-4.4,6.2l-4.4,-6.2zM271.0,548.9l4.4,6.2l-4.4,6.2l-4.4,-6.2zM275.4,550.2l4.4,6.2l-4.4,6.2l-4.4,-6.2zM279.8,551.0l4.4,6.2l-4.4,6.2l-4.4,-6.2zM284.1,550.9l4.4,6.2l-4.4,6.2l-4.4,-6.2zM288.4,548.8l4.4,6.2l-4.4,6.2l-4.4,-6.2zM292.8,549.4l4.4,6.2l-4.4,6.2l-4.4,-6.2zM297.1,551.1l4.4,6.2l-4.4,6.2l-4.4,-6.2zM301.5,549.9l4.4,6.2l-4.4,6.2l-4.4,-6.2zM305.8,549.9l4.4,6.2l-4.4,6.2l-4.4,-6.2zM310.2,550.4l4.4,6.2l-4.4,6.2l-4.4,-6.2zM314.5,549.8l4.4,6.2l-4.4,6.2l-4.4,-6.2zM318.9,549.3l4.4,6.2l-4.4,6.2l-4.4,-6.2zM323.2,549.5l4.4,6.2l-4.4,6.2l-4.4,-6.2zM327.6,550.4l4.4,6.2l-4.4,6.2l-4.4,-6.2zM331.9,548.7l4.4,6.2l-4.4,6.2l-4.4,-6.2zM336.3,549.9l4.4,6.2l-4.4,6.2l-4.4,-6.2zM340.6,549.0l4.4,6.2l-4.4,6.2l-4.4,-6.2zM345.0,548.8l4.4,6.2l-4.4,6.2l-4.4,-6.2zM349.3,549.8l4.4,6.2l-4.4,6.2l-4.4,-6.2zM353.7,548.4l4.4,6.2l-4.4,6.2l-4.4,-6.2zM358.1,549.0l4.4,6.2l-4.4,6.2l-4.4,-6.2zM362.4,548.2l4.4,6.2l-4.4,6.2l-4.4,-6.2zM366.8,547.5l4.4,6.2l-4.4,6.2l-4.4,-6.2zM371.1,548.0l4.4,6.2l-4.4,6.2l-4.4,-6.2zM375.4,548.6l4.4,6.2l-4.4,6.2l-4.4,-6.2zM379.8,547.7l4.4,6.2l-4.4,6.2l-4.4,-6.2zM384.1,548.1l4.4,6.2l-4.4,6.2l-4.4,-6.2zM388.5,548.0l4.4,6.2l-4.4,6.2l-4.4,-6.2zM392.8,548.0l4.4,6.2l-4.4,6.2l-4.4,-6.2zM397.2,547.8l4.4,6.2l-4.4,6.2l-4.4,-6.2zM401.6,548.1l4.4,6.2l-4.4,6.2l-4.4,-6.2zM405.9,547.1l4.4,6.2l-4.4,6.2l-4.4,-6.2zM410.2,548.0l4.4,6.2l-4.4,6.2l-4.4,-6.2zM414.6,547.3l4.4,6.2l-4.4,6.2l-4.4,-6.2zM418.9,548.4l4.4,6.2l-4.4,6.2l-4.4,-6.2zM423.3,548.5l4.4,6.2l-4.4,6.2l-4.4,-6.2zM427.6,548.0l4.4,6.2l-4.4,6.2l-4.4,-6.2zM432.0,548.9l4.4,6.2l-4.4,6.2l-4.4,-6.2zM436.3,548.7l4.4,6.2l-4.4,6.2l-4.4,-6.2zM440.7,548.7l4.4,6.2l-4.4,6.2l-4.4,-6.2zM445.0,548.5l4.4,6.2l-4.4,6.2l-4.4,-6.2zM449.4,548.9l4.4,6.2l-4.4,6.2l-4.4,-6.2zM453.8,549.1l4.4,6.2l-4.4,6.2l-4.4,-6.2zM458.1,548.2l4.4,6.2l-4.4,6.2l-4.4,-6.2zM462.4,548.0l4.4,6.2l-4.4,6.2l-4.4,-6.2zM466.8,548.9l4.4,6.2l-4.4,6.2l-4.4,-6.2zM471.1,547.0l4.4,6.2l-4.4,6.2l-4.4,-6.2zM475.5,546.8l4.4,6.2l-4.4,6.2l-4.4,-6.2zM479.8,547.1l4.4,6.2l-4.4,6.2l-4.4,-6.2zM484.2,548.0l4.4,6.2l-4.4,6.2l-4.4,-6.2zM488.5,547.8l4.4,6.2l-4.4,6.2l-4.4,-6.2zM492.9,547.9l4.4,6.2l-4.4,6.2l-4.4,-6.2zM497.2,547.6l4.4,6.2l-4.4,6.2l-4.4,-6.2zM501.6,548.2l4.4,6.2l-4.4,6.2l-4.4,-6.2zM505.9,548.2l4.4,6.2l-4.4,6.2l-4.4,-6.2zM510.3,547.8l4.4,6.2l-4.4,6.2l-4.4,-6.2zM514.6,546.6l4.4,6.2l-4.4,6.2l-4.4,-6.2zM519.0,547.4l4.4,6.2l-4.4,6.2l-4.4,-6.2zM523.3,547.1l4.4,6.2l-4.4,6.2l-4.4,-6.2zM527.7,547.5l4.4,6.2l-4.4,6.2l-4.4,-6.2zM532.0,547.5l4.4,6.2l-4.4,6.2l-4.4,-6.2zM536.4,548.3l4.4,6.2l-4.4,6.2l-4.4,-6.2zM540.8,548.9l4.4,6.2l-4.4,6.2l-4.4,-6.2zM545.1,548.9l4.4,6.2l-4.4,6.2l-4.4,-6.2zM549.4,548.5l4.4,6.2l-4.4,6.2l-4.4,-6.2zM553.8,548.7l4.4,6.2l-4.4,6.2l-4.4,-6.2zM558.1,549.3l4.4,6.2l-4.4,6.2l-4.4,-6.2zM562.5,549.6l4.4,6.2l-4.4,6.2l-4.4,-6.2zM566.8,550.3l4.4,6.2l-4.4,6.2l-4.4,-6.2zM571.2,549.7l4.4,6.2l-4.4,6.2l-4.4,-6.2zM575.5,549.6l4.4,6.2l-4.4,6.2l-4.4,-6.2zM579.9,549.6l4.4,6.2l-4.4,6.2l-4.4,-6.2zM584.2,550.1l4.4,6.2l-4.4,6.2l-4.4,-6.2zM588.6,550.3l4.4,6.2l-4.4,6.2l-4.4,-6.2zM592.9,549.6l4.4,6.2l-4.4,6.2l-4.4,-6.2zM597.3,549.2l4.4,6.2l-4.4,6.2l-4.4,-6.2zM601.6,550.1l4.4,6.2l-4.4,6.2l-4.4,-6.2zM606.0,549.7l4.4,6.2l-4.4,6.2l-4.4,-6.2zM610.3,549.4l4.4,6.2l-4.4,6.2l-4.4,-6.2zM614.7,550.2l4.4,6.2l-4.4,6.2l-4.4,-6.2zM619.0,549.8l4.4,6.2l-4.4,6.2l-4.4,-6.2zM623.4,549.1l4.4,6.2l-4.4,6.2l-4.4,-6.2zM627.7,550.2l4.4,6.2l-4.4,6.2l-4.4,-6.2zM632.1,550.1l4.4,6.2l-4.4,6.2l-4.4,-6.2zM636.4,549.1l4.4,6.2l-4.4,6.2l-4.4,-6.2zM640.8,549.0l4.4,6.2l-4.4,6.2l-4.4,-6.2zM645.1,550.2l4.4,6.2l-4.4,6.2l-4.4,-6.2zM649.5,550.6l4.4,6.2l-4.4,6.2l-4.4,-6.2zM653.8,550.6l4.4,6.2l-4.4,6.2l-4.4,-6.2zM658.2,549.7l4.4,6.2l-4.4,6.2l-4.4,-6.2zM662.5,550.3l4.4,6.2l-4.4,6.2l-4.4,-6.2zM666.9,550.9l4.4,6.2l-4.4,6.2l-4.4,-6.2zM671.2,550.0l4.4,6.2l-4.4,6.2l-4.4,-6.2zM675.6,550.9l4.4,6.2l-4.4,6.2l-4.4,-6.2zM679.9,551.1l4.4,6.2l-4.4,6.2l-4.4,-6.2zM684.3,551.6l4.4,6.2l-4.4,6.2l-4.4,-6.2zM688.6,550.1l4.4,6.2l-4.4,6.2l-4.4,-6.2zM693.0,551.5l4.4,6.2l-4.4,6.2l-4.4,-6.2zM697.3,552.6l4.4,6.2l-4.4,6.2l-4.4,-6.2zM701.7,551.4l4.4,6.2l-4.4,6.2l-4.4,-6.2zM706.0,551.7l4.4,6.2l-4.4,6.2l-4.4,-6.2zM710.4,552.5l4.4,6.2l-4.4,6.2l-4.4,-6.2zM714.7,551.7l4.4,6.2l-4.4,6.2l-4.4,-6.2zM719.1,552.8l4.4,6.2l-4.4,6.2l-4.4,-6.2zM723.4,552.3l4.4,6.2l-4.4,6.2l-4.4,-6.2zM727.8,550.9l4.4,6.2l-4.4,6.2l-4.4,-6.2zM732.1,551.4l4.4,6.2l-4.4,6.2l-4.4,-6.2zM736.5,550.3l4.4,6.2l-4.4,6.2l-4.4,-6.2zM740.8,551.2l4.4,6.2l-4.4,6.2l-4.4,-6.2zM745.2,549.6l4.4,6.2l-4.4,6.2l-4.4,-6.2zM749.5,549.2l4.4,6.2l-4.4,6.2l-4.4,-6.2zM753.9,549.2l4.4,6.2l-4.4,6.2l-4.4,-6.2zM758.2,549.0l4.4,6.2l-4.4,6.2l-4.4,-6.2zM762.6,549.7l4.4,6.2l-4.4,6.2l-4.4,-6.2zM766.9,548.7l4.4,6.2l-4.4,6.2l-4.4,-6.2zM771.3,548.6l4.4,6.2l-4.4,6.2l-4.4,-6.2zM775.6,548.6l4.4,6.2l-4.4,6.2l-4.4,-6.2zM780.0,547.4l4.4,6.2l-4.4,6.2l-4.4,-6.2zM784.3,547.1l4.4,6.2l-4.4,6.2l-4.4,-6.2zM788.7,546.7l4.4,6.2l-4.4,6.2l-4.4,-6.2zM793.0,547.7l4.4,6.2l-4.4,6.2l-4.4,-6.2zM797.4,548.3l4.4,6.2l-4.4,6.2l-4.4,-6.2zM801.7,547.8l4.4,6.2l-4.4,6.2l-4.4,-6.2zM806.1,547.5l4.4,6.2l-4.4,6.2l-4.4,-6.2zM810.4,547.8l4.4,6.2l-4.4,6.2l-4.4,-6.2zM814.8,547.7l4.4,6.2l-4.4,6.2l-4.4,-6.2zM819.1,548.8l4.4,6.2l-4.4,6.2l-4.4,-6.2zM823.5,548.1l4.4,6.2l-4.4,6.2l-4.4,-6.2zM827.8,548.7l4.4,6.2l-4.4,6.2l-4.4,-6.2zM832.2,548.4l4.4,6.2l-4.4,6.2l-4.4,-6.2zM836.5,548.2l4.4,6.2l-4.4,6.2l-4.4,-6.2zM840.9,548.1l4.4,6.2l-4.4,6.2l-4.4,-6.2zM845.2,549.1l4.4,6.2l-4.4,6.2l-4.4,-6.2zM849.6,549.9l4.4,6.2l-4.4,6.2l-4.4,-6.2zM853.9,549.8l4.4,6.2l-4.4,6.2l-4.4,-6.2zM858.3,549.7l4.4,6.2l-4.4,6.2l-4.4,-6.2zM862.6,549.1l4.4,6.2l-4.4,6.2l-4.4,-6.2zM867.0,548.9l4.4,6.2l-4.4,6.2l-4.4,-6.2zM871.3,548.6l4.4,6.2l-4.4,6.2l-4.4,-6.2zM875.7,549.1l4.4,6.2l-4.4,6.2l-4.4,-6.2zM880.0,549.7l4.4,6.2l-4.4,6.2l-4.4,-6.2zM884.4,548.4l4.4,6.2l-4.4,6.2l-4.4,-6.2zM888.7,547.6l4.4,6.2l-4.4,6.2l-4.4,-6.2zM893.1,548.7l4.4,6.2l-4.4,6.2l-4.4,-6.2zM897.4,547.3l4.4,6.2l-4.4,6.2l-4.4,-6.2zM901.8,547.9l4.4,6.2l-4.4,6.2l-4.4,-6.2zM906.1,547.2l4.4,6.2l-4.4,6.2l-4.4,-6.2zM910.5,547.2l4.4,6.2l-4.4,6.2l-4.4,-6.2zM914.8,548.9l4.4,6.2l-4.4,6.2l-4.4,-6.2zM919.2,547.0l4.4,6.2l-4.4,6.2l-4.4,-6.2zM923.5,547.2l4.4,6.2l-4.4,6.2l-4.4,-6.2zM927.9,547.9l4.4,6.2l-4.4,6.2l-4.4,-6.2zM932.2,547.8l4.4,6.2l-4.4,6.2l-4.4,-6.2zM936.6,547.8l4.4,6.2l-4.4,6.2l-4.4,-6.2zM940.9,547.8l4.4,6.2l-4.4,6.2l-4.4,-6.2zM945.3,548.6l4.4,6.2l-4.4,6.2l-4.4,-6.2zM949.6,549.0l4.4,6.2l-4.4,6.2l-4.4,-6.2zM954.0,548.2l4.4,6.2l-4.4,6.2l-4.4,-6.2zM958.3,548.2l4.4,6.2l-4.4,6.2l-4.4,-6.2zM962.7,549.9l4.4,6.2l-4.4,6.2l-4.4,-6.2zM967.0,548.4l4.4,6.2l-4.4,6.2l-4.4,-6.2zM971.4,549.6l4.4,6.2l-4.4,6.2l-4.4,-6.2zM975.7,549.6l4.4,6.2l-4.4,6.2l-4.4,-6.2zM980.1,549.0l4.4,6.2l-4.4,6.2l-4.4,-6.2zM984.4,550.1l4.4,6.2l-4.4,6.2l-4.4,-6.2zM988.8,549.3l4.4,6.2l-4.4,6.2l-4.4,-6.2zM993.1,549.5l4.4,6.2l-4.4,6.2l-4.4,-6.2zM997.5,549.4l4.4,6.2l-4.4,6.2l-4.4,-6.2zM1001.8,550.5l4.4,6.2l-4.4,6.2l-4.4,-6.2zM1006.2,550.0l4.4,6.2l-4.4,6.2l-4.4,-6.2zM1010.5,550.8l4.4,6.2l-4.4,6.2l-4.4,-6.2zM1014.9,549.9l4.4,6.2l-4.4,6.2l-4.4,-6.2zM1019.2,550.7l4.4,6.2l-4.4,6.2l-4.4,-6.2zM1023.6,551.1l4.4,6.2l-4.4,6.2l-4.4,-6.2zM1028.0,550.4l4.4,6.2l-4.4,6.2l-4.4,-6.2zM1032.3,550.0l4.4,6.2l-4.4,6.2l-4.4,-6.2zM1036.6,550.4l4.4,6.2l-4.4,6.2l-4.4,-6.2zM1041.0,551.3l4.4,6.2l-4.4,6.2l-4.4,-6.2zM1045.3,551.1l4.4,6.2l-4.4,6.2l-4.4,-6.2zM1049.7,550.6l4.4,6.2l-4.4,6.2l-4.4,-6.2zM1054.0,549.9l4.4,6.2l-4.4,6.2l-4.4,-6.2zM1058.4,551.2l4.4,6.2l-4.4,6.2l-4.4,-6.2zM1062.8,551.7l4.4,6.2l-4.4,6.2l-4.4,-6.2zM1067.1,551.8l4.4,6.2l-4.4,6.2l-4.4,-6.2zM1071.4,551.3l4.4,6.2l-4.4,6.2l-4.4,-6.2zM1075.8,551.0l4.4,6.2l-4.4,6.2l-4.4,-6.2zM1080.1,550.8l4.4,6.2l-4.4,6.2l-4.4,-6.2zM1084.5,550.9l4.4,6.2l-4.4,6.2l-4.4,-6.2zM1088.8,550.4l4.4,6.2l-4.4,6.2l-4.4,-6.2zM1093.2,552.4l4.4,6.2l-4.4,6.2l-4.4,-6.2zM1097.5,551.4l4.4,6.2l-4.4,6.2l-4.4,-6.2zM1101.9,552.6l4.4,6.2l-4.4,6.2l-4.4,-6.2zM1106.2,551.4l4.4,6.2l-4.4,6.2l-4.4,-6.2zM1110.6,550.7l4.4,6.2l-4.4,6.2l-4.4,-6.2zM1114.9,552.5l4.4,6.2l-4.4,6.2l-4.4,-6.2z"/>
<path id="p_b_c" d="M70.7,465.1a4.6,4.6 0 1,0 9.2,0a4.6,4.6 0 1,0 -9.2,0zM75.0,464.7a4.6,4.6 0 1,0 9.2,0a4.6,4.6 0 1,0 -9.2,0zM79.4,465.0a4.6,4.6 0 1,0 9.2,0a4.6,4.6 0 1,0 -9.2,0zM83.8,464.3a4.6,4.6 0 1,0 9.2,0a4.6,4.6 0 1,0 -9.2,0zM88.1,461.9a4.6,4.6 0 1,0 9.2,0a4.6,4.6 0 1,0 -9.2,0zM92.5,462.2a4.6,4.6 0 1,0 9.2,0a4.6,4.6 0 1,0 -9.2,0zM96.8,461.2a4.6,4.6 0 1,0 9.2,0a4.6,4.6 0 1,0 -9.2,0zM101.2,461.7a4.6,4.6 0 1,0 9.2,0a4.6,4.6 0 1,0 -9.2,0zM105.5,461.9a4.6,4.6 0 1,0 9.2,0a4.6,4.6 0 1,0 -9.2,0zM109.8,460.3a4.6,4.6 0 1,0 9.2,0a4.6,4.6 0 1,0 -9.2,0zM114.2,461.0a4.6,4.6 0 1,0 9.2,0a4.6,4.6 0 1,0 -9.2,0zM118.5,459.4a4.6,4.6 0 1,0 9.2,0a4.6,4.6 0 1,0 -9.2,0zM122.9,460.5a4.6,4.6 0 1,0 9.2,0a4.6,4.6 0 1,0 -9.2,0zM127.2,458.6a4.6,4.6 0 1,0 9.2,0a4.6,4.6 0 1,0 -9.2,0zM131.6,458.4a4.6,4.6 0 1,0 9.2,0a4.6,4.6 0 1,0 -9.2,0zM136.0,458.4a4.6,4.6 0 1,0 9.2,0a4.6,4.6 0 1,0 -9.2,0zM140.3,457.2a4.6,4.6 0 1,0 9.2,0a4.6,4.6 0 1,0 -9.2,0zM144.7,458.5a4.6,4.6 0 1,0 9.2,0a4.6,4.6 0 1,0 -9.2,0zM149.0,457.6a4.6,4.6 0 1,0 9.2,0a4.6,4.6 0 1,0 -9.2,0zM153.3,458.8a4.6,4.6 0 1,0 9.2,0a4.6,4.6 0 1,0 -9.2,0zM157.7,458.3a4.6,4.6 0 1,0 9.2,0a4.6,4.6 0 1,0 -9.2,0zM162.0,459.4a4.6,4.6 0 1,0 9.2,0a4.6,4.6 0 1,0 -9.2,0zM166.4,459.8a4.6,4.6 0 1,0 9.2,0a4.6,4.6 0 1,0 -9.2,0zM170.8,460.0a4.6,4.6 0 1,0 9.2,0a4.6,4.6 0 1,0 -9.2,0zM175.1,460.8a4.6,4.6 0 1,0 9.2,0a4.6,4.6 0 1,0 -9.2,0zM179.4,460.4a4.6,4.6 0 1,0 9.2,0a4.6,4.6 0 1,0 -9.2,0zM183.8,462.2a4.6,4.6 0 1,0 9.2,0a4.6,4.6 0 1,0 -9.2,0zM188.2,461.9a4.6,4.6 0 1,0 9.2,0a4.6,4.6 0 1,0 -9.2,0zM192.5,460.6a4.6,4.6 0 1,0 9.2,0a4.6,4.6 0 1,0 -9.2,0zM196.8,462.8a4.6,4.6 0 1,0 9.2,0a4.6,4.6 0 1,0 -9.2,0zM201.2,461.8a4.6,4.6 0 1,0 9.2,0a4.6,4.6 0 1,0 -9.2,0zM205.5,462.1a4.6,4.6 0 1,0 9.2,0a4.6,4.6 0 1,0 -9.2,0zM209.9,460.9a4.6,4.6 0 1,0 9.2,0a4.6,4.6 0 1,0 -9.2,0zM214.2,459.7a4.6,4.6 0 1,0 9.2,0a4.6,4.6 0 1,0 -9.2,0zM218.6,460.3a4.6,4.6 0 1,0 9.2,0a4.6,4.6 0 1,0 -9.2,0zM223.0,459.7a4.6,4.6 0 1,0 9.2,0a4.6,4.6 0 1,0 -9.2,0zM227.3,460.0a4.6,4.6 0 1,0 9.2,0a4.6,4.6 0 1,0 -9.2,0zM231.7,459.7a4.6,4.6 0 1,0 9.2,0a4.6,4.6 0 1,0 -9.2,0zM236.0,460.2a4.6,4.6 0 1,0 9.2,0a4.6,4.6 0 1,0 -9.2,0zM240.3,459.3a4.6,4.6 0 1,0 9.2,0a4.6,4.6 0 1,0 -9.2,0zM244.7,460.3a4.6,4.6 0 1,0 9.2,0a4.6,4.6 0 1,0 -9.2,0zM249.0,460.1a4.6,4.6 0 1,0 9.2,0a4.6,4.6 0 1,0 -9.2,0zM253.4,460.8a4.6,4.6 0 1,0 9.2,0a4.6,4.6 0 1,0 -9.2,0zM257.7,459.7a4.6,4.6 0 1,0 9.2,0a4.6,4.6 0 1,0 -9.2,0zM262.1,460.5a4.6,4.6 0 1,0 9.2,0a4.6,4.6 0 1,0 -9.2,0zM266.4,461.6a4.6,4.6 0 1,0 9.2,0a4.6,4.6 0 1,0 -9.2,0zM270.8,460.3a4.6,4.6 0 1,0 9.2,0a4.6,4.6 0 1,0 -9.2,0zM275.1,461.4a4.6,4.6 0 1,0 9.2,0a4.6,4.6 0 1,0 -9.2,0zM279.5,461.9a4.6,4.6 0 1,0 9.2,0a4.6,4.6 0 1,0 -9.2,0zM283.8,461.4a4.6,4.6 0 1,0 9.2,0a4.6,4.6 0 1,0 -9.2,0zM288.2,462.1a4.6,4.6 0 1,0 9.2,0a4.6,4.6 0 1,0 -9.2,0zM292.5,462.4a4.6,4.6 0 1,0 9.2,0a4.6,4.6 0 1,0 -9.2,0zM296.9,462.8a4.6,4.6 0 1,0 9.2,0a4.6,4.6 0 1,0 -9.2,0zM301.2,462.1a4.6,4.6 0 1,0 9.2,0a4.6,4.6 0 1,0 -9.2,0zM305.6,462.4a4.6,4.6 0 1,0 9.2,0a4.6,4.6 0 1,0 -9.2,0zM309.9,463.1a4.6,4.6 0 1,0 9.2,0a4.6,4.6 0 1,0 -9.2,0zM314.3,462.5a4.6,4.6 0 1,0 9.2,0a4.6,4.6 0 1,0 -9.2,0zM318.6,463.1a4.6,4.6 0 1,0 9.2,0a4.6,4.6 0 1,0 -9.2,0zM323.0,463.0a4.6,4.6 0 1,0 9.2,0a4.6,4.6 0 1,0 -9.2,0zM327.3,462.4a4.6,4.6 0 1,0 9.2,0a4.6,4.6 0 1,0 -9.2,0zM331.7,463.8a4.6,4.6 0 1,0 9.2,0a4.6,4.6 0 1,0 -9.2,0zM336.0,464.2a4.6,4.6 0 1,0 9.2,0a4.6,4.6 0 1,0 -9.2,0zM340.4,462.9a4.6,4.6 0 1,0 9.2,0a4.6,4.6 0 1,0 -9.2,0zM344.7,462.9a4.6,4.6 0 1,0 9.2,0a4.6,4.6 0 1,0 -9.2,0zM349.1,462.4a4.6,4.6 0 1,0 9.2,0a4.6,4.6 0 1,0 -9.2,0zM353.4,462.0a4.6,4.6 0 1,0 9.2,0a4.6,4.6 0 1,0 -9.2,0zM357.8,462.1a4.6,4.6 0 1,0 9.2,0a4.6,4.6 0 1,0 -9.2,0zM362.1,462.4a4.6,4.6 0 1,0 9.2,0a4.6,4.6 0 1,0 -9.2,0zM366.5,462.7a4.6,4.6 0 1,0 9.2,0a4.6,4.6 0 1,0 -9.2,0zM370.8,461.7a4.6,4.6 0 1,0 9.2,0a4.6,4.6 0 1,0 -9.2,0zM375.2,460.6a4.6,4.6 0 1,0 9.2,0a4.6,4.6 0 1,0 -9.2,0zM379.5,460.3a4.6,4.6 0 1,0 9.2,0a4.6,4.6 0 1,0 -9.2,0zM383.9,461.7a4.6,4.6 0 1,0 9.2,0a4.6,4.6 0 1,0 -9.2,0zM388.2,461.2a4.6,4.6 0 1,0 9.2,0a4.6,4.6 0 1,0 -9.2,0zM392.6,460.7a4.6,4.6 0 1,0 9.2,0a4.6,4.6 0 1,0 -9.2,0zM396.9,460.5a4.6,4.6 0 1,0 9.2,0a4.6,4.6 0 1,0 -9.2,0zM401.3,460.6a4.6,4.6 0 1,0 9.2,0a4.6,4.6 0 1,0 -9.2,0zM405.6,461.6a4.6,4.6 0 1,0 9.2,0a4.6,4.6 0 1,0 -9.2,0zM410.0,461.0a4.6,4.6 0 1,0 9.2,0a4.6,4.6 0 1,0 -9.2,0zM414.3,460.3a4.6,4.6 0 1,0 9.2,0a4.6,4.6 0 1,0 -9.2,0zM418.7,461.4a4.6,4.6 0 1,0 9.2,0a4.6,4.6 0 1,0 -9.2,0zM423.0,461.2a4.6,4.6 0 1,0 9.2,0a4.6,4.6 0 1,0 -9.2,0zM427.4,461.2a4.6,4.6 0 1,0 9.2,0a4.6,4.6 0 1,0 -9.2,0zM431.7,461.9a4.6,4.6 0 1,0 9.2,0a4.6,4.6 0 1,0 -9.2,0zM436.1,461.4a4.6,4.6 0 1,0 9.2,0a4.6,4.6 0 1,0 -9.2,0zM440.4,462.6a4.6,4.6 0 1,0 9.2,0a4.6,4.6 0 1,0 -9.2,0zM444.8,461.7a4.6,4.6 0 1,0 9.2,0a4.6,4.6 0 1,0 -9.2,0zM449.1,462.2a4.6,4.6 0 1,0 9.2,0a4.6,4.6 0 1,0 -9.2,0zM453.5,462.2a4.6,4.6 0 1,0 9.2,0a4.6,4.6 0 1,0 -9.2,0zM457.8,462.9a4.6,4.6 0 1,0 9.2,0a4.6,4.6 0 1,0 -9.2,0zM462.2,463.0a4.6,4.6 0 1,0 9.2,0a4.6,4.6 0 1,0 -9.2,0zM466.5,463.5a4.6,4.6 0 1,0 9.2,0a4.6,4.6 0 1,0 -9.2,0zM470.9,463.6a4.6,4.6 0 1,0 9.2,0a4.6,4.6 0 1,0 -9.2,0zM475.2,463.8a4.6,4.6 0 1,0 9.2,0a4.6,4.6 0 1,0 -9.2,0zM479.6,463.5a4.6,4.6 0 1,0 9.2,0a4.6,4.6 0 1,0 -9.2,0zM483.9,463.5a4.6,4.6 0 1,0 9.2,0a4.6,4.6 0 1,0 -9.2,0zM488.3,464.1a4.6,4.6 0 1,0 9.2,0a4.6,4.6 0 1,0 -9.2,0zM492.6,463.1a4.6,4.6 0 1,0 9.2,0a4.6,4.6 0 1,0 -9.2,0zM497.0,462.4a4.6,4.6 0 1,0 9.2,0a4.6,4.6 0 1,0 -9.2,0zM501.3,463.5a4.6,4.6 0 1,0 9.2,0a4.6,4.6 0 1,0 -9.2,0zM505.7,463.9a4.6,4.6 0 1,0 9.2,0a4.6,4.6 0 1,0 -9.2,0zM510.0,462.9a4.6,4.6 0 1,0 9.2,0a4.6,4.6 0 1,0 -9.2,0zM514.4,463.2a4.6,4.6 0 1,0 9.2,0a4.6,4.6 0 1,0 -9.2,0zM518.7,462.2a4.6,4.6 0 1,0 9.2,0a4.6,4.6 0 1,0 -9.2,0zM523.1,462.5a4.6,4.6 0 1,0 9.2,0a4.6,4.6 0 1,0 -9.2,0zM527.4,462.5a4.6,4.6 0 1,0 9.2,0a4.6,4.6 0 1,0 -9.2,0zM531.8,462.2a4.6,4.6 0 1,0 9.2,0a4.6,4.6 0 1,0 -9.2,0zM536.1,461.6a4.6,4.6 0 1,0 9.2,0a4.6,4.6 0 1,0 -9.2,0zM540.5,462.5a4.6,4.6 0 1,0 9.2,0a4.6,4.6 0 1,0 -9.2,0zM544.8,461.6a4.6,4.6 0 1,0 9.2,0a4.6,4.6 0 1,0 -9.2,0zM549.2,461.8a4.6,4.6 0 1,0 9.2,0a4.6,4.6 0 1,0 -9.2,0zM553.5,461.4a4.6,4.6 0 1,0 9.2,0a4.6,4.6 0 1,0 -9.2,0zM557.9,461.5a4.6,4.6 0 1,0 9.2,0a4.6,4.6 0 1,0 -9.2,0zM562.2,462.0a4.6,4.6 0 1,0 9.2,0a4.6,4.6 0 1,0 -9.2,0zM566.6,462.1a4.6,4.6 0 1,0 9.2,0a4.6,4.6 0 1,0 -9.2,0zM570.9,463.2a4.6,4.6 0 1,0 9.2,0a4.6,4.6 0 1,0 -9.2,0zM575.3,464.5a4.6,4.6 0 1,0 9.2,0a4.6,4.6 0 1,0 -9.2,0zM579.6,465.1a4.6,4.6 0 1,0 9.2,0a4.6,4.6 0 1,0 -9.2,0zM584.0,465.1a4.6,4.6 0 1,0 9.2,0a4.6,4.6 0 1,0 -9.2,0zM588.3,466.1a4.6,4.6 0 1,0 9.2,0a4.6,4.6 0 1,0 -9.2,0zM592.7,464.8a4.6,4.6 0 1,0 9.2,0a4.6,4.6 0 1,0 -9.2,0zM597.0,466.0a4.6,4.6 0 1,0 9.2,0a4.6,4.6 0 1,0 -9.2,0zM601.4,465.1a4.6,4.6 0 1,0 9.2,0a4.6,4.6 0 1,0 -9.2,0zM605.7,463.9a4.6,4.6 0 1,0 9.2,0a4.6,4.6 0 1,0 -9.2,0zM610.1,464.6a4.6,4.6 0 1,0 9.2,0a4.6,4.6 0 1,0 -9.2,0zM614.4,464.8a4.6,4.6 0 1,0 9.2,0a4.6,4.6 0 1,0 -9.2,0zM618.8,463.5a4.6,4.6 0 1,0 9.2,0a4.6,4.6 0 1,0 -9.2,0zM623.1,464.4a4.6,4.6 0 1,0 9.2,0a4.6,4.6 0 1,0 -9.2,0zM627.5,463.7a4.6,4.6 0 1,0 9.2,0a4.6,4.6 0 1,0 -9.2,0zM631.8,461.9a4.6,4.6 0 1,0 9.2,0a4.6,4.6 0 1,0 -9.2,0zM636.2,462.6a4.6,4.6 0 1,0 9.2,0a4.6,4.6 0 1,0 -9.2,0zM640.5,461.8a4.6,4.6 0 1,0 9.2,0a4.6,4.6 0 1,0 -9.2,0zM644.9,461.0a4.6,4.6 0 1,0 9.2,0a4.6,4.6 0 1,0 -9.2,0zM649.2,460.7a4.6,4.6 0 1,0 9.2,0a4.6,4.6 0 1,0 -9.2,0zM653.6,460.2a4.6,4.6 0 1,0 9.2,0a4.6,4.6 0 1,0 -9.2,0zM657.9,459.4a4.6,4.6 0 1,0 9.2,0a4.6,4.6 0 1,0 -9.2,0zM662.3,460.0a4.6,4.6 0 1,0 9.2,0a4.6,4.6 0 1,0 -9.2,0zM666.6,461.0a4.6,4.6 0 1,0 9.2,0a4.6,4.6 0 1,0 -9.2,0zM671.0,461.8a4.6,4.6 0 1,0 9.2,0a4.6,4.6 0 1,0 -9.2,0zM675.3,462.3a4.6,4.6 0 1,0 9.2,0a4.6,4.6 0 1,0 -9.2,0zM679.7,461.7a4.6,4.6 0 1,0 9.2,0a4.6,4.6 0 1,0 -9.2,0zM684.0,462.4a4.6,4.6 0 1,0 9.2,0a4.6,4.6 0 1,0 -9.2,0zM688.4,462.4a4.6,4.6 0 1,0 9.2,0a4.6,4.6 0 1,0 -9.2,0zM692.7,463.8a4.6,4.6 0 1,0 9.2,0a4.6,4.6 0 1,0 -9.2,0zM697.1,462.6a4.6,4.6 0 1,0 9.2,0a4.6,4.6 0 1,0 -9.2,0zM701.4,462.9a4.6,4.6 0 1,0 9.2,0a4.6,4.6 0 1,0 -9.2,0zM705.8,463.4a4.6,4.6 0 1,0 9.2,0a4.6,4.6 0 1,0 -9.2,0zM710.1,464.0a4.6,4.6 0 1,0 9.2,0a4.6,4.6 0 1,0 -9.2,0zM714.5,463.8a4.6,4.6 0 1,0 9.2,0a4.6,4.6 0 1,0 -9.2,0zM718.8,464.2a4.6,4.6 0 1,0 9.2,0a4.6,4.6 0 1,0 -9.2,0zM723.2,464.3a4.6,4.6 0 1,0 9.2,0a4.6,4.6 0 1,0 -9.2,0zM727.5,464.5a4.6,4.6 0 1,0 9.2,0a4.6,4.6 0 1,0 -9.2,0zM731.9,463.9a4.6,4.6 0 1,0 9.2,0a4.6,4.6 0 1,0 -9.2,0zM736.2,464.2a4.6,4.6 0 1,0 9.2,0a4.6,4.6 0 1,0 -9.2,0zM740.6,464.7a4.6,4.6 0 1,0 9.2,0a4.6,4.6 0 1,0 -9.2,0zM744.9,464.5a4.6,4.6 0 1,0 9.2,0a4.6,4.6 0 1,0 -9.2,0zM749.3,464.9a4.6,4.6 0 1,0 9.2,0a4.6,4.6 0 1,0 -9.2,0zM753.6,464.0a4.6,4.6 0 1,0 9.2,0a4.6,4.6 0 1,0 -9.2,0zM758.0,464.9a4.6,4.6 0 1,0 9.2,0a4.6,4.6 0 1,0 -9.2,0zM762.3,465.1a4.6,4.6 0 1,0 9.2,0a4.6,4.6 0 1,0 -9.2,0zM766.7,464.3a4.6,4.6 0 1,0 9.2,0a4.6,4.6 0 1,0 -9.2,0zM771.0,464.5a4.6,4.6 0 1,0 9.2,0a4.6,4.6 0 1,0 -9.2,0zM775.4,464.4a4.6,4.6 0 1,0 9.2,0a4.6,4.6 0 1,0 -9.2,0zM779.7,464.5a4.6,4.6 0 1,0 9.2,0a4.6,4.6 0 1,0 -9.2,0zM784.1,464.3a4.6,4.6 0 1,0 9.2,0a4.6,4.6 0 1,0 -9.2,0zM788.4,464.8a4.6,4.6 0 1,0 9.2,0a4.6,4.6 0 1,0 -9.2,0zM792.8,464.2a4.6,4.6 0 1,0 9.2,0a4.6,4.6 0 1,0 -9.2,0zM797.1,464.2a4.6,4.6 0 1,0 9.2,0a4.6,4.6 0 1,0 -9.2,0zM801.5,463.9a4.6,4.6 0 1,0 9.2,0a4.6,4.6 0 1,0 -9.2,0zM805.8,463.1a4.6,4.6 0 1,0 9.2,0a4.6,4.6 0 1,0 -9.2,0zM810.2,463.7a4.6,4.6 0 1,0 9.2,0a4.6,4.6 0 1,0 -9.2,0zM814.5,463.3a4.6,4.6 0 1,0 9.2,0a4.6,4.6 0 1,0 -9.2,0zM818.9,463.0a4.6,4.6 0 1,0 9.2,0a4.6,4.6 0 1,0 -9.2,0zM823.2,462.9a4.6,4.6 0 1,0 9.2,0a4.6,4.6 0 1,0 -9.2,0zM827.6,463.4a4.6,4.6 0 1,0 9.2,0a4.6,4.6 0 1,0 -9.2,0zM831.9,463.2a4.6,4.6 0 1,0 9.2,0a4.6,4.6 0 1,0 -9.2,0zM836.3,464.5a4.6,4.6 0 1,0 9.2,0a4.6,4.6 0 1,0 -9.2,0zM840.6,464.4a4.6,4.6 0 1,0 9.2,0a4.6,4.6 0 1,0 -9.2,0zM845.0,463.5a4.6,4.6 0 1,0 9.2,0a4.6,4.6 0 1,0 -9.2,0zM849.3,464.0a4.6,4.6 0 1,0 9.2,0a4.6,4.6 0 1,0 -9.2,0zM853.7,464.6a4.6,4.6 0 1,0 9.2,0a4.6,4.6 0 1,0 -9.2,0zM858.0,464.3a4.6,4.6 0 1,0 9.2,0a4.6,4.6 0 1,0 -9.2,0zM862.4,465.6a4.6,4.6 0 1,0 9.2,0a4.6,4.6 0 1,0 -9.2,0zM866.7,465.5a4.6,4.6 0 1,0 9.2,0a4.6,4.6 0 1,0 -9.2,0zM871.1,465.4a4.6,4.6 0 1,0 9.2,0a4.6,4.6 0 1,0 -9.2,0zM875.4,464.4a4.6,4.6 0 1,0 9.2,0a4.6,4.6 0 1,0 -9.2,0zM879.8,464.3a4.6,4.6 0 1,0 9.2,0a4.6,4.6 0 1,0 -9.2,0zM884.1,464.4a4.6,4.6 0 1,0 9.2,0a4.6,4.6 0 1,0 -9.2,0zM888.5,463.5a4.6,4.6 0 1,0 9.2,0a4.6,4.6 0 1,0 -9.2,0zM892.8,463.1a4.6,4.6 0 1,0 9.2,0a4.6,4.6 0 1,0 -9.2,0zM897.2,462.2a4.6,4.6 0 1,0 9.2,0a4.6,4.6 0 1,0 -9.2,0zM901.5,462.2a4.6,4.6 0 1,0 9.2,0a4.6,4.6 0 1,0 -9.2,0zM905.9,461.2a4.6,4.6 0 1,0 9.2,0a4.6,4.6 0 1,0 -9.2,0zM910.2,460.2a4.6,4.6 0 1,0 9.2,0a4.6,4.6 0 1,0 -9.2,0zM914.6,460.8a4.6,4.6 0 1,0 9.2,0a4.6,4.6 0 1,0 -9.2,0zM918.9,460.7a4.6,4.6 0 1,0 9.2,0a4.6,4.6 0 1,0 -9.2,0zM923.3,460.2a4.6,4.6 0 1,0 9.2,0a4.6,4.6 0 1,0 -9.2,0zM927.6,461.7a4.6,4.6 0 1,0 9.2,0a4.6,4.6 0 1,0 -9.2,0zM932.0,461.0a4.6,4.6 0 1,0 9.2,0a4.6,4.6 0 1,0 -9.2,0zM936.3,460.8a4.6,4.6 0 1,0 9.2,0a4.6,4.6 0 1,0 -9.2,0zM940.7,461.4a4.6,4.6 0 1,0 9.2,0a4.6,4.6 0 1,0 -9.2,0zM945.0,461.0a4.6,4.6 0 1,0 9.2,0a4.6,4.6 0 1,0 -9.2,0zM949.4,461.4a4.6,4.6 0 1,0 9.2,0a4.6,4.6 0 1,0 -9.2,0zM953.7,460.3a4.6,4.6 0 1,0 9.2,0a4.6,4.6 0 1,0 -9.2,0zM958.1,461.0a4.6,4.6 0 1,0 9.2,0a4.6,4.6 0 1,0 -9.2,0zM962.4,462.2a4.6,4.6 0 1,0 9.2,0a4.6,4.6 0 1,0 -9.2,0zM966.8,463.1a4.6,4.6 0 1,0 9.2,0a4.6,4.6 0 1,0 -9.2,0zM971.1,462.8a4.6,4.6 0 1,0 9.2,0a4.6,4.6 0 1,0 -9.2,0zM975.5,463.4a4.6,4.6 0 1,0 9.2,0a4.6,4.6 0 1,0 -9.2,0zM979.8,463.3a4.6,4.6 0 1,0 9.2,0a4.6,4.6 0 1,0 -9.2,0zM984.2,464.1a4.6,4.6 0 1,0 9.2,0a4.6,4.6 0 1,0 -9.2,0zM988.5,464.2a4.6,4.6 0 1,0 9.2,0a4.6,4.6 0 1,0 -9.2,0zM992.9,465.0a4.6,4.6 0 1,0 9.2,0a4.6,4.6 0 1,0 -9.2,0zM997.2,465.8a4.6,4.6 0 1,0 9.2,0a4.6,4.6 0 1,0 -9.2,0zM1001.6,464.5a4.6,4.6 0 1,0 9.2,0a4.6,4.6 0 1,0 -9.2,0zM1005.9,465.5a4.6,4.6 0 1,0 9.2,0a4.6,4.6 0 1,0 -9.2,0zM1010.3,464.9a4.6,4.6 0 1,0 9.2,0a4.6,4.6 0 1,0 -9.2,0zM1014.6,464.9a4.6,4.6 0 1,0 9.2,0a4.6,4.6 0 1,0 -9.2,0zM1019.0,465.6a4.6,4.6 0 1,0 9.2,0a4.6,4.6 0 1,0 -9.2,0zM1023.4,465.1a4.6,4.6 0 1,0 9.2,0a4.6,4.6 0 1,0 -9.2,0zM1027.7,465.3a4.6,4.6 0 1,0 9.2,0a4.6,4.6 0 1,0 -9.2,0zM1032.0,463.8a4.6,4.6 0 1,0 9.2,0a4.6,4.6 0 1,0 -9.2,0zM1036.4,464.4a4.6,4.6 0 1,0 9.2,0a4.6,4.6 0 1,0 -9.2,0zM1040.8,464.3a4.6,4.6 0 1,0 9.2,0a4.6,4.6 0 1,0 -9.2,0zM1045.1,464.1a4.6,4.6 0 1,0 9.2,0a4.6,4.6 0 1,0 -9.2,0zM1049.5,464.6a4.6,4.6 0 1,0 9.2,0a4.6,4.6 0 1,0 -9.2,0zM1053.8,464.8a4.6,4.6 0 1,0 9.2,0a4.6,4.6 0 1,0 -9.2,0zM1058.2,463.8a4.6,4.6 0 1,0 9.2,0a4.6,4.6 0 1,0 -9.2,0zM1062.5,463.9a4.6,4.6 0 1,0 9.2,0a4.6,4.6 0 1,0 -9.2,0zM1066.8,463.8a4.6,4.6 0 1,0 9.2,0a4.6,4.6 0 1,0 -9.2,0zM1071.2,465.0a4.6,4.6 0 1,0 9.2,0a4.6,4.6 0 1,0 -9.2,0zM1075.5,464.1a4.6,4.6 0 1,0 9.2,0a4.6,4.6 0 1,0 -9.2,0zM1079.9,464.3a4.6,4.6 0 1,0 9.2,0a4.6,4.6 0 1,0 -9.2,0zM1084.2,464.2a4.6,4.6 0 1,0 9.2,0a4.6,4.6 0 1,0 -9.2,0zM1088.6,463.9a4.6,4.6 0 1,0 9.2,0a4.6,4.6 0 1,0 -9.2,0zM1093.0,464.6a4.6,4.6 0 1,0 9.2,0a4.6,4.6 0 1,0 -9.2,0zM1097.3,464.6a4.6,4.6 0 1,0 9.2,0a4.6,4.6 0 1,0 -9.2,0zM1101.6,464.9a4.6,4.6 0 1,0 9.2,0a4.6,4.6 0 1,0 -9.2,0zM1106.0,464.3a4.6,4.6 0 1,0 9.2,0a4.6,4.6 0 1,0 -9.2,0zM1110.3,464.3a4.6,4.6 0 1,0 9.2,0a4.6,4.6 0 1,0 -9.2,0z"/>
<path id="p_c_d" d="M75.3,869.8l4.4,6.2l-4.4,6.2l-4.4,-6.2zM79.6,870.9l4.4,6.2l-4.4,6.2l-4.4,-6.2zM84.0,870.7l4.4,6.2l-4.4,6.2l-4.4,-6.2zM88.3,870.3l4.4,6.2l-4.4,6.2l-4.4,-6.2zM92.7,870.7l4.4,6.2l-4.4,6.2l-4.4,-6.2zM97.0,870.2l4.4,6.2l-4.4,6.2l-4.4,-6.2zM101.4,871.5l4.4,6.2l-4.4,6.2l-4.4,-6.2zM105.8,870.3l4.4,6.2l-4.4,6.2l-4.4,-6.2zM110.1,870.5l4.4,6.2l-4.4,6.2l-4.4,-6.2zM114.4,870.5l4.4,6.2l-4.4,6.2l-4.4,-6.2zM118.8,871.6l4.4,6.2l-4.4,6.2l-4.4,-6.2zM123.1,870.6l4.4,6.2l-4.4,6.2l-4.4,-6.2zM127.5,870.8l4.4,6.2l-4.4,6.2l-4.4,-6.2zM131.8,869.9l4.4,6.2l-4.4,6.2l-4.4,-6.2zM136.2,869.0l4.4,6.2l-4.4,6.2l-4.4,-6.2zM140.6,869.6l4.4,6.2l-4.4,6.2l-4.4,-6.2zM144.9,868.6l4.4,6.2l-4.4,6.2l-4.4,-6.2zM149.2,867.9l4.4,6.2l-4.4,6.2l-4.4,-6.2zM153.6,868.1l4.4,6.2l-4.4,6.2l-4.4,-6.2zM157.9,868.3l4.4,6.2l-4.4,6.2l-4.4,-6.2zM162.3,868.6l4.4,6.2l-4.4,6.2l-4.4,-6.2zM166.6,866.8l4.4,6.2l-4.4,6.2l-4.4,-6.2zM171.0,866.2l4.4,6.2l-4.4,6.2l-4.4,-6.2zM175.3,867.5l4.4,6.2l-4.4,6.2l-4.4,-6.2zM179.7,867.0l4.4,6.2l-4.4,6.2l-4.4,-6.2zM184.0,866.3l4.4,6.2l-4.4,6.2l-4.4,-6.2zM188.4,866.6l4.4,6.2l-4.4,6.2l-4.4,-6.2zM192.8,866.5l4.4,6.2l-4.4,6.2l-4.4,-6.2zM197.1,866.9l4.4,6.2l-4.4,6.2l-4.4,-6.2zM201.4,865.8l4.4,6.2l-4.4,6.2l-4.4,-6.2zM205.8,866.7l4.4,6.2l-4.4,6.2l-4.4,-6.2zM210.1,866.1l4.4,6.2l-4.4,6.2l-4.4,-6.2zM214.5,866.3l4.4,6.2l-4.4,6.2l-4.4,-6.2zM218.8,867.0l4.4,6.2l-4.4,6.2l-4.4,-6.2zM223.2,866.4l4.4,6.2l-4.4,6.2l-4.4,-6.2zM227.6,866.5l4.4,6.2l-4.4,6.2l-4.4,-6.2zM231.9,867.9l4.4,6.2l-4.4,6.2l-4.4,-6.2zM236.2,866.6l4.4,6.2l-4.4,6.2l-4.4,-6.2zM240.6,867.9l4.4,6.2l-4.4,6.2l-4.4,-6.2zM244.9,867.9l4.4,6.2l-4.4,6.2l-4.4,-6.2zM249.3,868.1l4.4,6.2l-4.4,6.2l-4.4,-6.2zM253.6,867.8l4.4,6.2l-4.4,6.2l-4.4,-6.2zM258.0,867.7l4.4,6.2l-4.4,6.2l-4.4,-6.2zM262.3,868.4l4.4,6.2l-4.4,6.2l-4.4,-6.2zM266.7,868.0l4.4,6.2l-4.4,6.2l-4.4,-6.2zM271.0,868.3l4.4,6.2l-4.4,6.2l-4.4,-6.2zM275.4,868.4l4.4,6.2l-4.4,6.2l-4.4,-6.2zM279.8,867.9l4.4,6.2l-4.4,6.2l-4.4,-6.2zM284.1,867.6l4.4,6.2l-4.4,6.2l-4.4,-6.2zM288.4,868.2l4.4,6.2l-4.4,6.2l-4.4,-6.2zM292.8,867.5l4.4,6.2l-4.4,6.2l-4.4,-6.2zM297.1,867.3l4.4,6.2l-4.4,6.2l-4.4,-6.2zM301.5,867.5l4.4,6.2l-4.4,6.2l-4.4,-6.2zM305.8,867.7l4.4,6.2l-4.4,6.2l-4.4,-6.2zM310.2,868.5l4.4,6.2l-4.4,6.2l-4.4,-6.2zM314.5,868.2l4.4,6.2l-4.4,6.2l-4.4,-6.2zM318.9,866.6l4.4,6.2l-4.4,6.2l-4.4,-6.2zM323.2,866.5l4.4,6.2l-4.4,6.2l-4.4,-6.2zM327.6,867.0l4.4,6.2l-4.4,6.2l-4.4,-6.2zM331.9,867.2l4.4,6.2l-4.4,6.2l-4.4,-6.2zM336.3,866.8l4.4,6.2l-4.4,6.2l-4.4,-6.2zM340.6,868.0l4.4,6.2l-4.4,6.2l-4.4,-6.2zM345.0,867.5l4.4,6.2l-4.4,6.2l-4.4,-6.2zM349.3,867.8l4.4,6.2l-4.4,6.2l-4.4,-6.2zM353.7,866.9l4.4,6.2l-4.4,6.2l-4.4,-6.2zM358.1,866.7l4.4,6.2l-4.4,6.2l-4.4,-6.2zM362.4,866.7l4.4,6.2l-4.4,6.2l-4.4,-6.2zM366.8,867.2l4.4,6.2l-4.4,6.2l-4.4,-6.2zM371.1,866.7l4.4,6.2l-4.4,6.2l-4.4,-6.2zM375.4,867.1l4.4,6.2l-4.4,6.2l-4.4,-6.2zM379.8,867.3l4.4,6.2l-4.4,6.2l-4.4,-6.2zM384.1,868.0l4.4,6.2l-4.4,6.2l-4.4,-6.2zM388.5,867.4l4.4,6.2l-4.4,6.2l-4.4,-6.2zM392.8,867.0l4.4,6.2l-4.4,6.2l-4.4,-6.2zM397.2,867.5l4.4,6.2l-4.4,6.2l-4.4,-6.2zM401.6,867.9l4.4,6.2l-4.4,6.2l-4.4,-6.2zM405.9,868.2l4.4,6.2l-4.4,6.2l-4.4,-6.2zM410.2,867.6l4.4,6.2l-4.4,6.2l-4.4,-6.2zM414.6,868.5l4.4,6.2l-4.4,6.2l-4.4,-6.2zM418.9,869.0l4.4,6.2l-4.4,6.2l-4.4,-6.2zM423.3,868.7l4.4,6.2l-4.4,6.2l-4.4,-6.2zM427.6,868.7l4.4,6.2l-4.4,6.2l-4.4,-6.2zM432.0,868.5l4.4,6.2l-4.4,6.2l-4.4,-6.2zM436.3,868.5l4.4,6.2l-4.4,6.2l-4.4,-6.2zM440.7,867.9l4.4,6.2l-4.4,6.2l-4.4,-6.2zM445.0,869.4l4.4,6.2l-4.4,6.2l-4.4,-6.2zM449.4,869.0l4.4,6.2l-4.4,6.2l-4.4,-6.2zM453.8,869.4l4.4,6.2l-4.4,6.2l-4.4,-6.2zM458.1,869.7l4.4,6.2l-4.4,6.2l-4.4,-6.2zM462.4,869.2l4.4,6.2l-4.4,6.2l-4.4,-6.2zM466.8,870.2l4.4,6.2l-4.4,6.2l-4.4,-6.2zM471.1,869.8l4.4,6.2l-4.4,6.2l-4.4,-6.2zM475.5,870.4l4.4,6.2l-4.4,6.2l-4.4,-6.2zM479.8,869.7l4.4,6.2l-4.4,6.2l-4.4,-6.2zM484.2,869.7l4.4,6.2l-4.4,6.2l-4.4,-6.2zM488.5,869.3l4.4,6.2l-4.4,6.2l-4.4,-6.2zM492.9,870.1l4.4,6.2l-4.4,6.2l-4.4,-6.2zM497.2,868.2l4.4,6.2l-4.4,6.2l-4.4,-6.2zM501.6,868.9l4.4,6.2l-4.4,6.2l-4.4,-6.2zM505.9,868.9l4.4,6.2l-4.4,6.2l-4.4,-6.2zM510.3,868.2l4.4,6.2l-4.4,6.2l-4.4,-6.2zM514.6,868.5l4.4,6.2l-4.4,6.2l-4.4,-6.2zM519.0,867.7l4.4,6.2l-4.4,6.2l-4.4,-6.2zM523.3,868.9l4.4,6.2l-4.4,6.2l-4.4,-6.2zM527.7,868.0l4.4,6.2l-4.4,6.2l-4.4,-6.2zM532.0,868.8l4.4,6.2l-4.4,6.2l-4.4,-6.2zM536.4,868.5l4.4,6.2l-4.4,6.2l-4.4,-6.2zM540.8,868.1l4.4,6.2l-4.4,6.2l-4.4,-6.2zM545.1,867.7l4.4,6.2l-4.4,6.2l-4.4,-6.2zM549.4,868.1l4.4,6.2l-4.4,6.2l-4.4,-6.2zM553.8,868.5l4.4,6.2l-4.4,6.2l-4.4,-6.2zM558.1,868.2l4.4,6.2l-4.4,6.2l-4.4,-6.2zM562.5,868.6l4.4,6.2l-4.4,6.2l-4.4,-6.2zM566.8,867.8l4.4,6.2l-4.4,6.2l-4.4,-6.2zM571.2,868.9l4.4,6.2l-4.4,6.2l-4.4,-6.2zM575.5,867.9l4.4,6.2l-4.4,6.2l-4.4,-6.2zM579.9,867.6l4.4,6.2l-4.4,6.2l-4.4,-6.2zM584.2,868.6l4.4,6.2l-4.4,6.2l-4.4,-6.2zM588.6,868.6l4.4,6.2l-4.4,6.2l-4.4,-6.2zM592.9,867.8l4.4,6.2l-4.4,6.2l-4.4,-6.2zM597.3,867.5l4.4,6.2l-4.4,6.2l-4.4,-6.2zM601.6,868.2l4.4,6.2l-4.4,6.2l-4.4,-6.2zM606.0,867.3l4.4,6.2l-4.4,6.2l-4.4,-6.2zM610.3,868.2l4.4,6.2l-4.4,6.2l-4.4,-6.2zM614.7,867.0l4.4,6.2l-4.4,6.2l-4.4,-6.2zM619.0,867.6l4.4,6.2l-4.4,6.2l-4.4,-6.2zM623.4,867.6l4.4,6.2l-4.4,6.2l-4.4,-6.2zM627.7,868.2l4.4,6.2l-4.4,6.2l-4.4,-6.2zM632.1,866.6l4.4,6.2l-4.4,6.2l-4.4,-6.2zM636.4,867.6l4.4,6.2l-4.4,6.2l-4.4,-6.2zM640.8,867.4l4.4,6.2l-4.4,6.2l-4.4,-6.2zM645.1,867.4l4.4,6.2l-4.4,6.2l-4.4,-6.2zM649.5,867.0l4.4,6.2l-4.4,6.2l-4.4,-6.2zM653.8,866.7l4.4,6.2l-4.4,6.2l-4.4,-6.2zM658.2,867.1l4.4,6.2l-4.4,6.2l-4.4,-6.2zM662.5,867.1l4.4,6.2l-4.4,6.2l-4.4,-6.2zM666.9,867.9l4.4,6.2l-4.4,6.2l-4.4,-6.2zM671.2,867.2l4.4,6.2l-4.4,6.2l-4.4,-6.2zM675.6,867.1l4.4,6.2l-4.4,6.2l-4.4,-6.2zM679.9,867.4l4.4,6.2l-4.4,6.2l-4.4,-6.2zM684.3,866.2l4.4,6.2l-4.4,6.2l-4.4,-6.2zM688.6,867.3l4.4,6.2l-4.4,6.2l-4.4,-6.2zM693.0,867.3l4.4,6.2l-4.4,6.2l-4.4,-6.2zM697.3,867.3l4.4,6.2l-4.4,6.2l-4.4,-6.2zM701.7,866.7l4.4,6.2l-4.4,6.2l-4.4,-6.2zM706.0,866.2l4.4,6.2l-4.4,6.2l-4.4,-6.2zM710.4,866.4l4.4,6.2l-4.4,6.2l-4.4,-6.2zM714.7,867.1l4.4,6.2l-4.4,6.2l-4.4,-6.2zM719.1,867.3l4.4,6.2l-4.4,6.2l-4.4,-6.2zM723.4,867.7l4.4,6.2l-4.4,6.2l-4.4,-6.2zM727.8,867.8l4.4,6.2l-4.4,6.2l-4.4,-6.2zM732.1,867.6l4.4,6.2l-4.4,6.2l-4.4,-6.2zM736.5,867.2l4.4,6.2l-4.4,6.2l-4.4,-6.2zM740.8,867.3l4.4,6.2l-4.4,6.2l-4.4,-6.2zM745.2,867.1l4.4,6.2l-4.4,6.2l-4.4,-6.2zM749.5,867.8l4.4,6.2l-4.4,6.2l-4.4,-6.2zM753.9,867.6l4.4,6.2l-4.4,6.2l-4.4,-6.2zM758.2,867.5l4.4,6.2l-4.4,6.2l-4.4,-6.2zM762.6,866.8l4.4,6.2l-4.4,6.2l-4.4,-6.2zM766.9,868.0l4.4,6.2l-4.4,6.2l-4.4,-6.2zM771.3,866.7l4.4,6.2l-4.4,6.2l-4.4,-6.2zM775.6,868.1l4.4,6.2l-4.4,6.2l-4.4,-6.2zM780.0,868.0l4.4,6.2l-4.4,6.2l-4.4,-6.2zM784.3,866.8l4.4,6.2l-4.4,6.2l-4.4,-6.2zM788.7,867.6l4.4,6.2l-4.4,6.2l-4.4,-6.2zM793.0,867.0l4.4,6.2l-4.4,6.2l-4.4,-6.2zM797.4,867.6l4.4,6.2l-4.4,6.2l-4.4,-6.2zM801.7,868.0l4.4,6.2l-4.4,6.2l-4.4,-6.2zM806.1,867.6l4.4,6.2l-4.4,6.2l-4.4,-6.2zM810.4,867.1l4.4,6.2l-4.4,6.2l-4.4,-6.2zM814.8,867.9l4.4,6.2l-4.4,6.2l-4.4,-6.2zM819.1,867.9l4.4,6.2l-4.4,6.2l-4.4,-6.2zM823.5,867.9l4.4,6.2l-4.4,6.2l-4.4,-6.2zM827.8,867.5l4.4,6.2l-4.4,6.2l-4.4,-6.2zM832.2,867.9l4.4,6.2l-4.4,6.2l-4.4,-6.2zM836.5,868.3l4.4,6.2l-4.4,6.2l-4.4,-6.2zM840.9,868.2l4.4,6.2l-4.4,6.2l-4.4,-6.2zM845.2,869.4l4.4,6.2l-4.4,6.2l-4.4,-6.2zM849.6,868.6l4.4,6.2l-4.4,6.2l-4.4,-6.2zM853.9,868.5l4.4,6.2l-4.4,6.2l-4.4,-6.2zM858.3,868.8l4.4,6.2l-4.4,6.2l-4.4,-6.2zM862.6,868.0l4.4,6.2l-4.4,6.2l-4.4,-6.2zM867.0,868.8l4.4,6.2l-4.4,6.2l-4.4,-6.2zM871.3,869.4l4.4,6.2l-4.4,6.2l-4.4,-6.2zM875.7,868.2l4.4,6.2l-4.4,6.2l-4.4,-6.2zM880.0,868.7l4.4,6.2l-4.4,6.2l-4.4,-6.2zM884.4,869.0l4.4,6.2l-4.4,6.2l-4.4,-6.2zM888.7,867.8l4.4,6.2l-4.4,6.2l-4.4,-6.2zM893.1,869.4l4.4,6.2l-4.4,6.2l-4.4,-6.2zM897.4,868.1l4.4,6.2l-4.4,6.2l-4.4,-6.2zM901.8,868.4l4.4,6.2l-4.4,6.2l-4.4,-6.2zM906.1,868.8l4.4,6.2l-4.4,6.2l-4.4,-6.2zM910.5,868.5l4.4,6.2l-4.4,6.2l-4.4,-6.2zM914.8,869.0l4.4,6.2l-4.4,6.2l-4.4,-6.2zM919.2,868.7l4.4,6.2l-4.4,6.2l-4.4,-6.2zM923.5,868.9l4.4,6.2l-4.4,6.2l-4.4,-6.2zM927.9,868.8l4.4,6.2l-4.4,6.2l-4.4,-6.2zM932.2,869.5l4.4,6.2l-4.4,6.2l-4.4,-6.2zM936.6,867.9l4.4,6.2l-4.4,6.2l-4.4,-6.2zM940.9,869.1l4.4,6.2l-4.4,6.2l-4.4,-6.2zM945.3,868.9l4.4,6.2l-4.4,6.2l-4.4,-6.2zM949.6,868.6l4.4,6.2l-4.4,6.2l-4.4,-6.2zM954.0,868.8l4.4,6.2l-4.4,6.2l-4.4,-6.2zM958.3,869.0l4.4,6.2l-4.4,6.2l-4.4,-6.2zM962.7,869.6l4.4,6.2l-4.4,6.2l-4.4,-6.2zM967.0,869.0l4.4,6.2l-4.4,6.2l-4.4,-6.2zM971.4,869.4l4.4,6.2l-4.4,6.2l-4.4,-6.2zM975.7,869.7l4.4,6.2l-4.4,6.2l-4.4,-6.2zM980.1,869.1l4.4,6.2l-4.4,6.2l-4.4,-6.2zM984.4,870.3l4.4,6.2l-4.4,6.2l-4.4,-6.2zM988.8,871.0l4.4,6.2l-4.4,6.2l-4.4,-6.2zM993.1,869.6l4.4,6.2l-4.4,6.2l-4.4,-6.2zM997.5,870.5l4.4,6.2l-4.4,6.2l-4.4,-6.2zM1001.8,870.0l4.4,6.2l-4.4,6.2l-4.4,-6.2zM1006.2,870.6l4.4,6.2l-4.4,6.2l-4.4,-6.2zM1010.5,870.4l4.4,6.2l-4.4,6.2l-4.4,-6.2zM1014.9,871.7l4.4,6.2l-4.4,6.2l-4.4,-6.2zM1019.2,870.6l4.4,6.2l-4.4,6.2l-4.4,-6.2zM1023.6,871.3l4.4,6.2l-4.4,6.2l-4.4,-6.2zM1028.0,871.3l4.4,6.2l-4.4,6.2l-4.4,-6.2zM1032.3,870.6l4.4,6.2l-4.4,6.2l-4.4,-6.2zM1036.6,870.2l4.4,6.2l-4.4,6.2l-4.4,-6.2zM1041.0,871.7l4.4,6.2l-4.4,6.2l-4.4,-6.2zM1045.3,872.0l4.4,6.2l-4.4,6.2l-4.4,-6.2zM1049.7,871.4l4.4,6.2l-4.4,6.2l-4.4,-6.2zM1054.0,871.5l4.4,6.2l-4.4,6.2l-4.4,-6.2zM1058.4,872.4l4.4,6.2l-4.4,6.2l-4.4,-6.2zM1062.8,872.4l4.4,6.2l-4.4,6.2l-4.4,-6.2zM1067.1,872.5l4.4,6.2l-4.4,6.2l-4.4,-6.2zM1071.4,872.1l4.4,6.2l-4.4,6.2l-4.4,-6.2zM1075.8,871.5l4.4,6.2l-4.4,6.2l-4.4,-6.2zM1080.1,871.3l4.4,6.2l-4.4,6.2l-4.4,-6.2zM1084.5,870.9l4.4,6.2l-4.4,6.2l-4.4,-6.2zM1088.8,871.9l4.4,6.2l-4.4,6.2l-4.4,-6.2zM1093.2,872.8l4.4,6.2l-4.4,6.2l-4.4,-6.2zM1097.5,872.1l4.4,6.2l-4.4,6.2l-4.4,-6.2zM1101.9,871.8l4.4,6.2l-4.4,6.2l-4.4,-6.2zM1106.2,871.1l4.4,6.2l-4.4,6.2l-4.4,-6.2zM1110.6,871.5l4.4,6.2l-4.4,6.2l-4.4,-6.2zM1114.9,871.8l4.4,6.2l-4.4,6.2l-4.4,-6.2z"/>
<path id="p_c_s" d="M71.0,865.5h8.7v8.7h-8.7zM75.3,866.2h8.7v8.7h-8.7zM79.7,865.8h8.7v8.7h-8.7zM84.0,866.3h8.7v8.7h-8.7zM88.3,866.0h8.7v8.7h-8.7zM92.7,866.0h8.7v8.7h-8.7zM97.0,866.9h8.7v8.7h-8.7zM101.4,866.0h8.7v8.7h-8.7zM105.8,866.3h8.7v8.7h-8.7zM110.1,865.9h8.7v8.7h-8.7zM114.5,866.7h8.7v8.7h-8.7zM118.8,867.3h8.7v8.7h-8.7zM123.2,867.2h8.7v8.7h-8.7zM127.5,867.4h8.7v8.7h-8.7zM131.8,867.7h8.7v8.7h-8.7zM136.2,867.6h8.7v8.7h-8.7zM140.5,867.9h8.7v8.7h-8.7zM144.9,867.8h8.7v8.7h-8.7zM149.2,867.3h8.7v8.7h-8.7zM153.6,868.2h8.7v8.7h-8.7zM158.0,868.5h8.7v8.7h-8.7zM162.3,867.8h8.7v8.7h-8.7zM166.7,868.5h8.7v8.7h-8.7zM171.0,869.0h8.7v8.7h-8.7zM175.3,868.5h8.7v8.7h-8.7zM179.7,867.9h8.7v8.7h-8.7zM184.0,868.5h8.7v8.7h-8.7zM188.4,869.2h8.7v8.7h-8.7zM192.7,867.9h8.7v8.7h-8.7zM197.1,868.2h8.7v8.7h-8.7zM201.5,867.8h8.7v8.7h-8.7zM205.8,868.0h8.7v8.7h-8.7zM210.2,868.2h8.7v8.7h-8.7zM214.5,868.7h8.7v8.7h-8.7zM218.8,867.6h8.7v8.7h-8.7zM223.2,867.5h8.7v8.7h-8.7zM227.5,867.3h8.7v8.7h-8.7zM231.9,867.2h8.7v8.7h-8.7zM236.2,866.9h8.7v8.7h-8.7zM240.6,867.1h8.7v8.7h-8.7zM245.0,867.3h8.7v8.7h-8.7zM249.3,867.2h8.7v8.7h-8.7zM253.7,867.6h8.7v8.7h-8.7zM258.0,866.5h8.7v8.7h-8.7zM262.3,866.4h8.7v8.7h-8.7zM266.7,866.2h8.7v8.7h-8.7zM271.0,866.6h8.7v8.7h-8.7zM275.4,866.2h8.7v8.7h-8.7zM279.7,866.6h8.7v8.7h-8.7zM284.1,865.6h8.7v8.7h-8.7zM288.4,866.3h8.7v8.7h-8.7zM292.8,866.2h8.7v8.7h-8.7zM297.1,865.6h8.7v8.7h-8.7zM301.5,865.7h8.7v8.7h-8.7zM305.8,866.3h8.7v8.7h-8.7zM310.2,866.1h8.7v8.7h-8.7zM314.5,867.7h8.7v8.7h-8.7zM318.9,867.0h8.7v8.7h-8.7zM323.2,867.6h8.7v8.7h-8.7zM327.6,866.8h8.7v8.7h-8.7zM331.9,866.8h8.7v8.7h-8.7zM336.3,868.2h8.7v8.7h-8.7zM340.6,868.2h8.7v8.7h-8.7zM345.0,867.7h8.7v8.7h-8.7zM349.3,867.9h8.7v8.7h-8.7zM353.7,868.0h8.7v8.7h-8.7zM358.0,868.6h8.7v8.7h-8.7zM362.4,869.1h8.7v8.7h-8.7zM366.7,868.0h8.7v8.7h-8.7zM371.1,869.1h8.7v8.7h-8.7zM375.4,868.6h8.7v8.7h-8.7zM379.8,868.9h8.7v8.7h-8.7zM384.1,869.2h8.7v8.7h-8.7zM388.5,868.7h8.7v8.7h-8.7zM392.8,871.0h8.7v8.7h-8.7zM397.2,870.9h8.7v8.7h-8.7zM401.5,870.0h8.7v8.7h-8.7zM405.9,869.9h8.7v8.7h-8.7zM410.2,869.1h8.7v8.7h-8.7zM414.6,870.8h8.7v8.7h-8.7zM418.9,869.6h8.7v8.7h-8.7zM423.3,869.5h8.7v8.7h-8.7zM427.6,870.2h8.7v8.7h-8.7zM432.0,869.7h8.7v8.7h-8.7zM436.3,869.1h8.7v8.7h-8.7zM440.7,869.4h8.7v8.7h-8.7zM445.0,869.3h8.7v8.7h-8.7zM449.4,869.5h8.7v8.7h-8.7zM453.7,869.8h8.7v8.7h-8.7zM458.1,869.7h8.7v8.7h-8.7zM462.4,870.1h8.7v8.7h-8.7zM466.8,869.5h8.7v8.7h-8.7zM471.1,870.2h8.7v8.7h-8.7zM475.5,870.7h8.7v8.7h-8.7zM479.8,869.5h8.7v8.7h-8.7zM484.2,870.6h8.7v8.7h-8.7zM488.5,869.9h8.7v8.7h-8.7zM492.9,869.9h8.7v8.7h-8.7zM497.2,871.6h8.7v8.7h-8.7zM501.6,871.6h8.7v8.7h-8.7zM505.9,871.5h8.7v8.7h-8.7zM510.3,871.2h8.7v8.7h-8.7zM514.6,872.4h8.7v8.7h-8.7zM519.0,870.8h8.7v8.7h-8.7zM523.3,871.3h8.7v8.7h-8.7zM527.7,871.3h8.7v8.7h-8.7zM532.0,871.5h8.7v8.7h-8.7zM536.4,869.8h8.7v8.7h-8.7zM540.7,868.9h8.7v8.7h-8.7zM545.1,870.2h8.7v8.7h-8.7zM549.4,870.1h8.7v8.7h-8.7zM553.8,869.8h8.7v8.7h-8.7zM558.1,869.3h8.7v8.7h-8.7zM562.5,869.8h8.7v8.7h-8.7zM566.8,869.2h8.7v8.7h-8.7zM571.2,870.3h8.7v8.7h-8.7zM575.5,870.7h8.7v8.7h-8.7zM579.9,870.0h8.7v8.7h-8.7zM584.2,869.5h8.7v8.7h-8.7zM588.6,870.5h8.7v8.7h-8.7zM592.9,870.6h8.7v8.7h-8.7zM597.3,870.9h8.7v8.7h-8.7zM601.6,871.7h8.7v8.7h-8.7zM606.0,871.3h8.7v8.7h-8.7zM610.3,872.4h8.7v8.7h-8.7zM614.7,871.7h8.7v8.7h-8.7zM619.0,871.1h8.7v8.7h-8.7zM623.4,872.4h8.7v8.7h-8.7zM627.7,872.0h8.7v8.7h-8.7zM632.1,871.9h8.7v8.7h-8.7zM636.4,872.5h8.7v8.7h-8.7zM640.8,872.5h8.7v8.7h-8.7zM645.1,871.9h8.7v8.7h-8.7zM649.5,872.0h8.7v8.7h-8.7zM653.8,872.7h8.7v8.7h-8.7zM658.2,872.0h8.7v8.7h-8.7zM662.5,872.0h8.7v8.7h-8.7zM666.9,871.9h8.7v8.7h-8.7zM671.2,872.0h8.7v8.7h-8.7zM675.6,870.5h8.7v8.7h-8.7zM679.9,870.2h8.7v8.7h-8.7zM684.3,869.9h8.7v8.7h-8.7zM688.6,869.8h8.7v8.7h-8.7zM693.0,869.4h8.7v8.7h-8.7zM697.3,869.7h8.7v8.7h-8.7zM701.7,869.9h8.7v8.7h-8.7zM706.0,870.5h8.7v8.7h-8.7zM710.4,869.8h8.7v8.7h-8.7zM714.7,870.3h8.7v8.7h-8.7zM719.1,871.0h8.7v8.7h-8.7zM723.4,871.4h8.7v8.7h-8.7zM727.8,870.1h8.7v8.7h-8.7zM732.1,871.2h8.7v8.7h-8.7zM736.5,871.6h8.7v8.7h-8.7zM740.8,870.9h8.7v8.7h-8.7zM745.2,872.4h8.7v8.7h-8.7zM749.5,872.9h8.7v8.7h-8.7zM753.9,871.6h8.7v8.7h-8.7zM758.2,871.8h8.7v8.7h-8.7zM762.6,873.0h8.7v8.7h-8.7zM766.9,873.0h8.7v8.7h-8.7zM771.3,871.8h8.7v8.7h-8.7zM775.6,871.8h8.7v8.7h-8.7zM780.0,872.6h8.7v8.7h-8.7zM784.3,872.1h8.7v8.7h-8.7zM788.7,871.8h8.7v8.7h-8.7zM793.0,872.8h8.7v8.7h-8.7zM797.4,872.1h8.7v8.7h-8.7zM801.7,871.0h8.7v8.7h-8.7zM806.1,871.9h8.7v8.7h-8.7zM810.4,871.0h8.7v8.7h-8.7zM814.8,872.0h8.7v8.7h-8.7zM819.1,872.5h8.7v8.7h-8.7zM823.5,872.7h8.7v8.7h-8.7zM827.8,873.5h8.7v8.7h-8.7zM832.2,874.5h8.7v8.7h-8.7zM836.5,876.9h8.7v8.7h-8.7zM840.9,885.6h8.7v8.7h-8.7zM845.2,884.4h8.7v8.7h-8.7zM849.6,881.5h8.7v8.7h-8.7zM853.9,878.1h8.7v8.7h-8.7zM858.3,876.0h8.7v8.7h-8.7zM862.6,875.3h8.7v8.7h-8.7zM867.0,874.5h8.7v8.7h-8.7zM871.3,874.5h8.7v8.7h-8.7zM875.7,875.2h8.7v8.7h-8.7zM880.0,874.5h8.7v8.7h-8.7zM884.4,874.3h8.7v8.7h-8.7zM888.7,874.3h8.7v8.7h-8.7zM893.1,873.1h8.7v8.7h-8.7zM897.4,873.9h8.7v8.7h-8.7zM901.8,873.5h8.7v8.7h-8.7zM906.1,873.2h8.7v8.7h-8.7zM910.5,873.1h8.7v8.7h-8.7zM914.8,871.5h8.7v8.7h-8.7zM919.2,873.2h8.7v8.7h-8.7zM923.5,871.8h8.7v8.7h-8.7zM927.9,870.9h8.7v8.7h-8.7zM932.2,871.4h8.7v8.7h-8.7zM936.6,870.4h8.7v8.7h-8.7zM940.9,870.7h8.7v8.7h-8.7zM945.3,871.1h8.7v8.7h-8.7zM949.6,870.4h8.7v8.7h-8.7zM954.0,871.7h8.7v8.7h-8.7zM958.3,871.5h8.7v8.7h-8.7zM962.7,871.8h8.7v8.7h-8.7zM967.0,872.1h8.7v8.7h-8.7zM971.4,872.3h8.7v8.7h-8.7zM975.7,872.9h8.7v8.7h-8.7zM980.1,872.9h8.7v8.7h-8.7zM984.4,873.0h8.7v8.7h-8.7zM988.8,872.3h8.7v8.7h-8.7zM993.1,872.4h8.7v8.7h-8.7zM997.5,871.5h8.7v8.7h-8.7zM1001.8,870.7h8.7v8.7h-8.7zM1006.2,870.9h8.7v8.7h-8.7zM1010.5,870.0h8.7v8.7h-8.7zM1014.9,870.6h8.7v8.7h-8.7zM1019.2,869.6h8.7v8.7h-8.7zM1023.6,869.2h8.7v8.7h-8.7zM1028.0,869.1h8.7v8.7h-8.7zM1032.3,868.1h8.7v8.7h-8.7zM1036.7,867.7h8.7v8.7h-8.7zM1041.0,868.0h8.7v8.7h-8.7zM1045.3,866.3h8.7v8.7h-8.7zM1049.7,866.1h8.7v8.7h-8.7zM1054.0,866.0h8.7v8.7h-8.7zM1058.4,866.3h8.7v8.7h-8.7zM1062.8,866.1h8.7v8.7h-8.7zM1067.1,865.4h8.7v8.7h-8.7zM1071.5,865.5h8.7v8.7h-8.7zM1075.8,866.8h8.7v8.7h-8.7zM1080.2,866.1h8.7v8.7h-8.7zM1084.5,865.6h8.7v8.7h-8.7zM1088.8,865.7h8.7v8.7h-8.7zM1093.2,867.8h8.7v8.7h-8.7zM1097.5,866.6h8.7v8.7h-8.7zM1101.9,865.1h8.7v8.7h-8.7zM1106.2,865.7h8.7v8.7h-8.7zM1110.6,866.3h8.7v8.7h-8.7z"/>
<path id="p_c_t" d="M75.3,861.9l4.4,9.5h-8.8zM79.6,862.7l4.4,9.5h-8.8zM84.0,863.2l4.4,9.5h-8.8zM88.3,862.4l4.4,9.5h-8.8zM92.7,862.7l4.4,9.5h-8.8zM97.0,862.7l4.4,9.5h-8.8zM101.4,863.3l4.4,9.5h-8.8zM105.8,863.8l4.4,9.5h-8.8zM110.1,863.6l4.4,9.5h-8.8zM114.4,862.8l4.4,9.5h-8.8zM118.8,863.8l4.4,9.5h-8.8zM123.1,863.3l4.4,9.5h-8.8zM127.5,864.6l4.4,9.5h-8.8zM131.8,864.0l4.4,9.5h-8.8zM136.2,864.4l4.4,9.5h-8.8zM140.6,864.0l4.4,9.5h-8.8zM144.9,864.1l4.4,9.5h-8.8zM149.2,864.4l4.4,9.5h-8.8zM153.6,864.3l4.4,9.5h-8.8zM157.9,865.2l4.4,9.5h-8.8zM162.3,863.9l4.4,9.5h-8.8zM166.6,864.7l4.4,9.5h-8.8zM171.0,863.9l4.4,9.5h-8.8zM175.3,864.5l4.4,9.5h-8.8zM179.7,863.1l4.4,9.5h-8.8zM184.0,864.5l4.4,9.5h-8.8zM188.4,863.6l4.4,9.5h-8.8zM192.8,863.1l4.4,9.5h-8.8zM197.1,863.9l4.4,9.5h-8.8zM201.4,863.3l4.4,9.5h-8.8zM205.8,863.3l4.4,9.5h-8.8zM210.1,863.6l4.4,9.5h-8.8zM214.5,862.2l4.4,9.5h-8.8zM218.8,862.2l4.4,9.5h-8.8zM223.2,862.4l4.4,9.5h-8.8zM227.6,862.4l4.4,9.5h-8.8zM231.9,861.6l4.4,9.5h-8.8zM236.2,861.3l4.4,9.5h-8.8zM240.6,861.9l4.4,9.5h-8.8zM244.9,862.1l4.4,9.5h-8.8zM249.3,862.4l4.4,9.5h-8.8zM253.6,861.7l4.4,9.5h-8.8zM258.0,860.7l4.4,9.5h-8.8zM262.3,862.3l4.4,9.5h-8.8zM266.7,862.5l4.4,9.5h-8.8zM271.0,861.5l4.4,9.5h-8.8zM275.4,862.4l4.4,9.5h-8.8zM279.8,862.6l4.4,9.5h-8.8zM284.1,862.9l4.4,9.5h-8.8zM288.4,862.7l4.4,9.5h-8.8zM292.8,863.2l4.4,9.5h-8.8zM297.1,863.7l4.4,9.5h-8.8zM301.5,862.8l4.4,9.5h-8.8zM305.8,864.4l4.4,9.5h-8.8zM310.2,864.0l4.4,9.5h-8.8zM314.5,864.8l4.4,9.5h-8.8zM318.9,864.3l4.4,9.5h-8.8zM323.2,864.0l4.4,9.5h-8.8zM327.6,865.7l4.4,9.5h-8.8zM331.9,866.2l4.4,9.5h-8.8zM336.3,864.6l4.4,9.5h-8.8zM340.6,864.9l4.4,9.5h-8.8zM345.0,865.7l4.4,9.5h-8.8zM349.3,865.2l4.4,9.5h-8.8zM353.7,866.2l4.4,9.5h-8.8zM358.1,865.5l4.4,9.5h-8.8zM362.4,865.7l4.4,9.5h-8.8zM366.8,866.1l4.4,9.5h-8.8zM371.1,865.0l4.4,9.5h-8.8zM375.4,866.0l4.4,9.5h-8.8zM379.8,867.2l4.4,9.5h-8.8zM384.1,866.5l4.4,9.5h-8.8zM388.5,865.8l4.4,9.5h-8.8zM392.8,866.9l4.4,9.5h-8.8zM397.2,867.5l4.4,9.5h-8.8zM401.6,867.1l4.4,9.5h-8.8zM405.9,866.2l4.4,9.5h-8.8zM410.2,866.2l4.4,9.5h-8.8zM414.6,866.3l4.4,9.5h-8.8zM418.9,866.0l4.4,9.5h-8.8zM423.3,866.5l4.4,9.5h-8.8zM427.6,866.0l4.4,9.5h-8.8zM432.0,866.1l4.4,9.5h-8.8zM436.3,866.7l4.4,9.5h-8.8zM440.7,866.2l4.4,9.5h-8.8zM445.0,866.4l4.4,9.5h-8.8zM449.4,867.6l4.4,9.5h-8.8zM453.8,866.7l4.4,9.5h-8.8zM458.1,867.1l4.4,9.5h-8.8zM462.4,866.7l4.4,9.5h-8.8zM466.8,866.8l4.4,9.5h-8.8zM471.1,865.7l4.4,9.5h-8.8zM475.5,865.7l4.4,9.5h-8.8zM479.8,865.4l4.4,9.5h-8.8zM484.2,864.9l4.4,9.5h-8.8zM488.5,864.5l4.4,9.5h-8.8zM492.9,864.3l4.4,9.5h-8.8zM497.2,863.7l4.4,9.5h-8.8zM501.6,863.7l4.4,9.5h-8.8zM505.9,862.8l4.4,9.5h-8.8zM510.3,863.0l4.4,9.5h-8.8zM514.6,862.0l4.4,9.5h-8.8zM519.0,861.3l4.4,9.5h-8.8zM523.3,861.0l4.4,9.5h-8.8zM527.7,861.3l4.4,9.5h-8.8zM532.0,861.7l4.4,9.5h-8.8zM536.4,862.5l4.4,9.5h-8.8zM540.8,861.4l4.4,9.5h-8.8zM545.1,862.6l4.4,9.5h-8.8zM549.4,862.2l4.4,9.5h-8.8zM553.8,861.9l4.4,9.5h-8.8zM558.1,861.8l4.4,9.5h-8.8zM562.5,862.8l4.4,9.5h-8.8zM566.8,861.7l4.4,9.5h-8.8zM571.2,862.6l4.4,9.5h-8.8zM575.5,862.7l4.4,9.5h-8.8zM579.9,863.0l4.4,9.5h-8.8zM584.2,863.5l4.4,9.5h-8.8zM588.6,863.0l4.4,9.5h-8.8zM592.9,863.5l4.4,9.5h-8.8zM597.3,862.8l4.4,9.5h-8.8zM601.6,863.3l4.4,9.5h-8.8zM606.0,863.4l4.4,9.5h-8.8zM610.3,862.8l4.4,9.5h-8.8zM614.7,863.0l4.4,9.5h-8.8zM619.0,862.7l4.4,9.5h-8.8zM623.4,862.3l4.4,9.5h-8.8zM627.7,862.3l4.4,9.5h-8.8zM632.1,862.1l4.4,9.5h-8.8zM636.4,861.0l4.4,9.5h-8.8zM640.8,861.1l4.4,9.5h-8.8zM645.1,861.9l4.4,9.5h-8.8zM649.5,860.5l4.4,9.5h-8.8zM653.8,862.2l4.4,9.5h-8.8zM658.2,861.1l4.4,9.5h-8.8zM662.5,862.0l4.4,9.5h-8.8zM666.9,862.4l4.4,9.5h-8.8zM671.2,862.0l4.4,9.5h-8.8zM675.6,863.1l4.4,9.5h-8.8zM679.9,862.0l4.4,9.5h-8.8zM684.3,863.3l4.4,9.5h-8.8zM688.6,863.1l4.4,9.5h-8.8zM693.0,863.1l4.4,9.5h-8.8zM697.3,863.9l4.4,9.5h-8.8zM701.7,863.8l4.4,9.5h-8.8zM706.0,862.9l4.4,9.5h-8.8zM710.4,864.2l4.4,9.5h-8.8zM714.7,864.0l4.4,9.5h-8.8zM719.1,863.6l4.4,9.5h-8.8zM723.4,863.6l4.4,9.5h-8.8zM727.8,864.2l4.4,9.5h-8.8zM732.1,864.3l4.4,9.5h-8.8zM736.5,863.8l4.4,9.5h-8.8zM740.8,862.9l4.4,9.5h-8.8zM745.2,863.6l4.4,9.5h-8.8zM749.5,863.9l4.4,9.5h-8.8zM753.9,863.1l4.4,9.5h-8.8zM758.2,862.9l4.4,9.5h-8.8zM762.6,863.5l4.4,9.5h-8.8zM766.9,863.6l4.4,9.5h-8.8zM771.3,863.7l4.4,9.5h-8.8zM775.6,864.1l4.4,9.5h-8.8zM780.0,862.4l4.4,9.5h-8.8zM784.3,863.5l4.4,9.5h-8.8zM788.7,863.4l4.4,9.5h-8.8zM793.0,863.5l4.4,9.5h-8.8zM797.4,863.6l4.4,9.5h-8.8zM801.7,864.0l4.4,9.5h-8.8zM806.1,863.8l4.4,9.5h-8.8zM810.4,863.5l4.4,9.5h-8.8zM814.8,863.5l4.4,9.5h-8.8zM819.1,863.6l4.4,9.5h-8.8zM823.5,863.5l4.4,9.5h-8.8zM827.8,864.4l4.4,9.5h-8.8zM832.2,862.9l4.4,9.5h-8.8zM836.5,863.2l4.4,9.5h-8.8zM840.9,864.8l4.4,9.5h-8.8zM845.2,864.4l4.4,9.5h-8.8zM849.6,864.6l4.4,9.5h-8.8zM853.9,865.0l4.4,9.5h-8.8zM858.3,863.2l4.4,9.5h-8.8zM862.6,864.6l4.4,9.5h-8.8zM867.0,863.0l4.4,9.5h-8.8zM871.3,862.8l4.4,9.5h-8.8zM875.7,863.5l4.4,9.5h-8.8zM880.0,862.1l4.4,9.5h-8.8zM884.4,862.6l4.4,9.5h-8.8zM888.7,862.8l4.4,9.5h-8.8zM893.1,861.4l4.4,9.5h-8.8zM897.4,861.2l4.4,9.5h-8.8zM901.8,861.5l4.4,9.5h-8.8zM906.1,861.3l4.4,9.5h-8.8zM910.5,860.7l4.4,9.5h-8.8zM914.8,859.5l4.4,9.5h-8.8zM919.2,860.8l4.4,9.5h-8.8zM923.5,860.5l4.4,9.5h-8.8zM927.9,859.4l4.4,9.5h-8.8zM932.2,860.4l4.4,9.5h-8.8zM936.6,860.7l4.4,9.5h-8.8zM940.9,861.2l4.4,9.5h-8.8zM945.3,862.1l4.4,9.5h-8.8zM949.6,861.9l4.4,9.5h-8.8zM954.0,863.2l4.4,9.5h-8.8zM958.3,863.5l4.4,9.5h-8.8zM962.7,863.4l4.4,9.5h-8.8zM967.0,863.1l4.4,9.5h-8.8zM971.4,864.0l4.4,9.5h-8.8zM975.7,864.6l4.4,9.5h-8.8zM980.1,865.3l4.4,9.5h-8.8zM984.4,864.8l4.4,9.5h-8.8zM988.8,865.4l4.4,9.5h-8.8zM993.1,864.7l4.4,9.5h-8.8zM997.5,864.7l4.4,9.5h-8.8zM1001.8,865.1l4.4,9.5h-8.8zM1006.2,865.0l4.4,9.5h-8.8zM1010.5,863.7l4.4,9.5h-8.8zM1014.9,863.4l4.4,9.5h-8.8zM1019.2,862.8l4.4,9.5h-8.8zM1023.6,862.0l4.4,9.5h-8.8zM1028.0,862.7l4.4,9.5h-8.8zM1032.3,862.4l4.4,9.5h-8.8zM1036.6,862.1l4.4,9.5h-8.8zM1041.0,861.4l4.4,9.5h-8.8zM1045.3,861.3l4.4,9.5h-8.8zM1049.7,860.8l4.4,9.5h-8.8zM1054.0,861.0l4.4,9.5h-8.8zM1058.4,860.2l4.4,9.5h-8.8zM1062.8,861.0l4.4,9.5h-8.8zM1067.1,861.3l4.4,9.5h-8.8zM1071.4,861.5l4.4,9.5h-8.8zM1075.8,861.2l4.4,9.5h-8.8zM1080.1,862.6l4.4,9.5h-8.8zM1084.5,863.1l4.4,9.5h-8.8zM1088.8,864.4l4.4,9.5h-8.8zM1093.2,864.4l4.4,9.5h-8.8zM1097.5,864.0l4.4,9.5h-8.8zM1101.9,864.7l4.4,9.5h-8.8zM1106.2,866.1l4.4,9.5h-8.8zM1110.6,866.1l4.4,9.5h-8.8zM1114.9,866.1l4.4,9.5h-8.8z"/>
<path id="p_c_c" d="M70.7,819.3a4.6,4.6 0 1,0 9.2,0a4.6,4.6 0 1,0 -9.2,0zM75.0,819.4a4.6,4.6 0 1,0 9.2,0a4.6,4.6 0 1,0 -9.2,0zM79.4,819.2a4.6,4.6 0 1,0 9.2,0a4.6,4.6 0 1,0 -9.2,0zM83.8,819.8a4.6,4.6 0 1,0 9.2,0a4.6,4.6 0 1,0 -9.2,0zM88.1,819.5a4.6,4.6 0 1,0 9.2,0a4.6,4.6 0 1,0 -9.2,0zM92.5,820.6a4.6,4.6 0 1,0 9.2,0a4.6,4.6 0 1,0 -9.2,0zM96.8,818.7a4.6,4.6 0 1,0 9.2,0a4.6,4.6 0 1,0 -9.2,0zM101.2,819.2a4.6,4.6 0 1,0 9.2,0a4.6,4.6 0 1,0 -9.2,0zM105.5,818.7a4.6,4.6 0 1,0 9.2,0a4.6,4.6 0 1,0 -9.2,0zM109.8,818.3a4.6,4.6 0 1,0 9.2,0a4.6,4.6 0 1,0 -9.2,0zM114.2,817.1a4.6,4.6 0 1,0 9.2,0a4.6,4.6 0 1,0 -9.2,0zM118.5,816.5a4.6,4.6 0 1,0 9.2,0a4.6,4.6 0 1,0 -9.2,0zM122.9,817.0a4.6,4.6 0 1,0 9.2,0a4.6,4.6 0 1,0 -9.2,0zM127.2,815.9a4.6,4.6 0 1,0 9.2,0a4.6,4.6 0 1,0 -9.2,0zM131.6,815.1a4.6,4.6 0 1,0 9.2,0a4.6,4.6 0 1,0 -9.2,0zM136.0,815.5a4.6,4.6 0 1,0 9.2,0a4.6,4.6 0 1,0 -9.2,0zM140.3,815.7a4.6,4.6 0 1,0 9.2,0a4.6,4.6 0 1,0 -9.2,0zM144.7,815.0a4.6,4.6 0 1,0 9.2,0a4.6,4.6 0 1,0 -9.2,0zM149.0,814.0a4.6,4.6 0 1,0 9.2,0a4.6,4.6 0 1,0 -9.2,0zM153.3,814.6a4.6,4.6 0 1,0 9.2,0a4.6,4.6 0 1,0 -9.2,0zM157.7,813.1a4.6,4.6 0 1,0 9.2,0a4.6,4.6 0 1,0 -9.2,0zM162.0,815.1a4.6,4.6 0 1,0 9.2,0a4.6,4.6 0 1,0 -9.2,0zM166.4,816.6a4.6,4.6 0 1,0 9.2,0a4.6,4.6 0 1,0 -9.2,0zM170.8,817.4a4.6,4.6 0 1,0 9.2,0a4.6,4.6 0 1,0 -9.2,0zM175.1,818.6a4.6,4.6 0 1,0 9.2,0a4.6,4.6 0 1,0 -9.2,0zM179.4,818.8a4.6,4.6 0 1,0 9.2,0a4.6,4.6 0 1,0 -9.2,0zM183.8,818.7a4.6,4.6 0 1,0 9.2,0a4.6,4.6 0 1,0 -9.2,0zM188.2,818.8a4.6,4.6 0 1,0 9.2,0a4.6,4.6 0 1,0 -9.2,0zM192.5,819.4a4.6,4.6 0 1,0 9.2,0a4.6,4.6 0 1,0 -9.2,0zM196.8,819.3a4.6,4.6 0 1,0 9.2,0a4.6,4.6 0 1,0 -9.2,0zM201.2,819.9a4.6,4.6 0 1,0 9.2,0a4.6,4.6 0 1,0 -9.2,0zM205.5,818.0a4.6,4.6 0 1,0 9.2,0a4.6,4.6 0 1,0 -9.2,0zM209.9,819.2a4.6,4.6 0 1,0 9.2,0a4.6,4.6 0 1,0 -9.2,0zM214.2,817.7a4.6,4.6 0 1,0 9.2,0a4.6,4.6 0 1,0 -9.2,0zM218.6,817.0a4.6,4.6 0 1,0 9.2,0a4.6,4.6 0 1,0 -9.2,0zM223.0,816.8a4.6,4.6 0 1,0 9.2,0a4.6,4.6 0 1,0 -9.2,0zM227.3,816.1a4.6,4.6 0 1,0 9.2,0a4.6,4.6 0 1,0 -9.2,0zM231.7,815.3a4.6,4.6 0 1,0 9.2,0a4.6,4.6 0 1,0 -9.2,0zM236.0,816.3a4.6,4.6 0 1,0 9.2,0a4.6,4.6 0 1,0 -9.2,0zM240.3,815.5a4.6,4.6 0 1,0 9.2,0a4.6,4.6 0 1,0 -9.2,0zM244.7,814.8a4.6,4.6 0 1,0 9.2,0a4.6,4.6 0 1,0 -9.2,0zM249.0,814.2a4.6,4.6 0 1,0 9.2,0a4.6,4.6 0 1,0 -9.2,0zM253.4,814.2a4.6,4.6 0 1,0 9.2,0a4.6,4.6 0 1,0 -9.2,0zM257.7,813.8a4.6,4.6 0 1,0 9.2,0a4.6,4.6 0 1,0 -9.2,0zM262.1,815.0a4.6,4.6 0 1,0 9.2,0a4.6,4.6 0 1,0 -9.2,0zM266.4,813.3a4.6,4.6 0 1,0 9.2,0a4.6,4.6 0 1,0 -9.2,0zM270.8,813.7a4.6,4.6 0 1,0 9.2,0a4.6,4.6 0 1,0 -9.2,0zM275.1,813.6a4.6,4.6 0 1,0 9.2,0a4.6,4.6 0 1,0 -9.2,0zM279.5,814.2a4.6,4.6 0 1,0 9.2,0a4.6,4.6 0 1,0 -9.2,0zM283.8,814.0a4.6,4.6 0 1,0 9.2,0a4.6,4.6 0 1,0 -9.2,0zM288.2,814.0a4.6,4.6 0 1,0 9.2,0a4.6,4.6 0 1,0 -9.2,0zM292.5,814.8a4.6,4.6 0 1,0 9.2,0a4.6,4.6 0 1,0 -9.2,0zM296.9,816.0a4.6,4.6 0 1,0 9.2,0a4.6,4.6 0 1,0 -9.2,0zM301.2,816.2a4.6,4.6 0 1,0 9.2,0a4.6,4.6 0 1,0 -9.2,0zM305.6,817.7a4.6,4.6 0 1,0 9.2,0a4.6,4.6 0 1,0 -9.2,0zM309.9,817.6a4.6,4.6 0 1,0 9.2,0a4.6,4.6 0 1,0 -9.2,0zM314.3,818.2a4.6,4.6 0 1,0 9.2,0a4.6,4.6 0 1,0 -9.2,0zM318.6,817.4a4.6,4.6 0 1,0 9.2,0a4.6,4.6 0 1,0 -9.2,0zM323.0,817.9a4.6,4.6 0 1,0 9.2,0a4.6,4.6 0 1,0 -9.2,0zM327.3,816.4a4.6,4.6 0 1,0 9.2,0a4.6,4.6 0 1,0 -9.2,0zM331.7,816.5a4.6,4.6 0 1,0 9.2,0a4.6,4.6 0 1,0 -9.2,0zM336.0,816.2a4.6,4.6 0 1,0 9.2,0a4.6,4.6 0 1,0 -9.2,0zM340.4,816.9a4.6,4.6 0 1,0 9.2,0a4.6,4.6 0 1,0 -9.2,0zM344.7,815.6a4.6,4.6 0 1,0 9.2,0a4.6,4.6 0 1,0 -9.2,0zM349.1,816.6a4.6,4.6 0 1,0 9.2,0a4.6,4.6 0 1,0 -9.2,0zM353.4,816.2a4.6,4.6 0 1,0 9.2,0a4.6,4.6 0 1,0 -9.2,0zM357.8,816.1a4.6,4.6 0 1,0 9.2,0a4.6,4.6 0 1,0 -9.2,0zM362.1,815.3a4.6,4.6 0 1,0 9.2,0a4.6,4.6 0 1,0 -9.2,0zM366.5,815.8a4.6,4.6 0 1,0 9.2,0a4.6,4.6 0 1,0 -9.2,0zM370.8,816.5a4.6,4.6 0 1,0 9.2,0a4.6,4.6 0 1,0 -9.2,0zM375.2,815.3a4.6,4.6 0 1,0 9.2,0a4.6,4.6 0 1,0 -9.2,0zM379.5,815.7a4.6,4.6 0 1,0 9.2,0a4.6,4.6 0 1,0 -9.2,0zM383.9,815.5a4.6,4.6 0 1,0 9.2,0a4.6,4.6 0 1,0 -9.2,0zM388.2,815.0a4.6,4.6 0 1,0 9.2,0a4.6,4.6 0 1,0 -9.2,0zM392.6,815.2a4.6,4.6 0 1,0 9.2,0a4.6,4.6 0 1,0 -9.2,0zM396.9,815.9a4.6,4.6 0 1,0 9.2,0a4.6,4.6 0 1,0 -9.2,0zM401.3,815.6a4.6,4.6 0 1,0 9.2,0a4.6,4.6 0 1,0 -9.2,0zM405.6,814.4a4.6,4.6 0 1,0 9.2,0a4.6,4.6 0 1,0 -9.2,0zM410.0,815.9a4.6,4.6 0 1,0 9.2,0a4.6,4.6 0 1,0 -9.2,0zM414.3,815.4a4.6,4.6 0 1,0 9.2,0a4.6,4.6 0 1,0 -9.2,0zM418.7,816.1a4.6,4.6 0 1,0 9.2,0a4.6,4.6 0 1,0 -9.2,0zM423.0,815.5a4.6,4.6 0 1,0 9.2,0a4.6,4.6 0 1,0 -9.2,0zM427.4,817.6a4.6,4.6 0 1,0 9.2,0a4.6,4.6 0 1,0 -9.2,0zM431.7,816.6a4.6,4.6 0 1,0 9.2,0a4.6,4.6 0 1,0 -9.2,0zM436.1,818.2a4.6,4.6 0 1,0 9.2,0a4.6,4.6 0 1,0 -9.2,0zM440.4,817.9a4.6,4.6 0 1,0 9.2,0a4.6,4.6 0 1,0 -9.2,0zM444.8,819.2a4.6,4.6 0 1,0 9.2,0a4.6,4.6 0 1,0 -9.2,0zM449.1,819.1a4.6,4.6 0 1,0 9.2,0a4.6,4.6 0 1,0 -9.2,0zM453.5,819.5a4.6,4.6 0 1,0 9.2,0a4.6,4.6 0 1,0 -9.2,0zM457.8,818.1a4.6,4.6 0 1,0 9.2,0a4.6,4.6 0 1,0 -9.2,0zM462.2,818.1a4.6,4.6 0 1,0 9.2,0a4.6,4.6 0 1,0 -9.2,0zM466.5,816.6a4.6,4.6 0 1,0 9.2,0a4.6,4.6 0 1,0 -9.2,0zM470.9,815.0a4.6,4.6 0 1,0 9.2,0a4.6,4.6 0 1,0 -9.2,0zM475.2,814.6a4.6,4.6 0 1,0 9.2,0a4.6,4.6 0 1,0 -9.2,0zM479.6,814.1a4.6,4.6 0 1,0 9.2,0a4.6,4.6 0 1,0 -9.2,0zM483.9,814.4a4.6,4.6 0 1,0 9.2,0a4.6,4.6 0 1,0 -9.2,0zM488.3,814.4a4.6,4.6 0 1,0 9.2,0a4.6,4.6 0 1,0 -9.2,0zM492.6,812.4a4.6,4.6 0 1,0 9.2,0a4.6,4.6 0 1,0 -9.2,0zM497.0,811.9a4.6,4.6 0 1,0 9.2,0a4.6,4.6 0 1,0 -9.2,0zM501.3,811.8a4.6,4.6 0 1,0 9.2,0a4.6,4.6 0 1,0 -9.2,0zM505.7,809.9a4.6,4.6 0 1,0 9.2,0a4.6,4.6 0 1,0 -9.2,0zM510.0,809.7a4.6,4.6 0 1,0 9.2,0a4.6,4.6 0 1,0 -9.2,0zM514.4,809.6a4.6,4.6 0 1,0 9.2,0a4.6,4.6 0 1,0 -9.2,0zM518.7,809.1a4.6,4.6 0 1,0 9.2,0a4.6,4.6 0 1,0 -9.2,0zM523.1,809.2a4.6,4.6 0 1,0 9.2,0a4.6,4.6 0 1,0 -9.2,0zM527.4,809.1a4.6,4.6 0 1,0 9.2,0a4.6,4.6 0 1,0 -9.2,0zM531.8,809.9a4.6,4.6 0 1,0 9.2,0a4.6,4.6 0 1,0 -9.2,0zM536.1,810.6a4.6,4.6 0 1,0 9.2,0a4.6,4.6 0 1,0 -9.2,0zM540.5,810.2a4.6,4.6 0 1,0 9.2,0a4.6,4.6 0 1,0 -9.2,0zM544.8,810.9a4.6,4.6 0 1,0 9.2,0a4.6,4.6 0 1,0 -9.2,0zM549.2,812.5a4.6,4.6 0 1,0 9.2,0a4.6,4.6 0 1,0 -9.2,0zM553.5,812.5a4.6,4.6 0 1,0 9.2,0a4.6,4.6 0 1,0 -9.2,0zM557.9,813.3a4.6,4.6 0 1,0 9.2,0a4.6,4.6 0 1,0 -9.2,0zM562.2,813.3a4.6,4.6 0 1,0 9.2,0a4.6,4.6 0 1,0 -9.2,0zM566.6,814.4a4.6,4.6 0 1,0 9.2,0a4.6,4.6 0 1,0 -9.2,0zM570.9,815.1a4.6,4.6 0 1,0 9.2,0a4.6,4.6 0 1,0 -9.2,0zM575.3,814.9a4.6,4.6 0 1,0 9.2,0a4.6,4.6 0 1,0 -9.2,0zM579.6,814.8a4.6,4.6 0 1,0 9.2,0a4.6,4.6 0 1,0 -9.2,0zM584.0,814.7a4.6,4.6 0 1,0 9.2,0a4.6,4.6 0 1,0 -9.2,0zM588.3,815.5a4.6,4.6 0 1,0 9.2,0a4.6,4.6 0 1,0 -9.2,0zM592.7,816.1a4.6,4.6 0 1,0 9.2,0a4.6,4.6 0 1,0 -9.2,0zM597.0,816.1a4.6,4.6 0 1,0 9.2,0a4.6,4.6 0 1,0 -9.2,0zM601.4,816.3a4.6,4.6 0 1,0 9.2,0a4.6,4.6 0 1,0 -9.2,0zM605.7,816.6a4.6,4.6 0 1,0 9.2,0a4.6,4.6 0 1,0 -9.2,0zM610.1,815.9a4.6,4.6 0 1,0 9.2,0a4.6,4.6 0 1,0 -9.2,0zM614.4,816.1a4.6,4.6 0 1,0 9.2,0a4.6,4.6 0 1,0 -9.2,0zM618.8,816.5a4.6,4.6 0 1,0 9.2,0a4.6,4.6 0 1,0 -9.2,0zM623.1,816.3a4.6,4.6 0 1,0 9.2,0a4.6,4.6 0 1,0 -9.2,0zM627.5,816.2a4.6,4.6 0 1,0 9.2,0a4.6,4.6 0 1,0 -9.2,0zM631.8,814.7a4.6,4.6 0 1,0 9.2,0a4.6,4.6 0 1,0 -9.2,0zM636.2,814.5a4.6,4.6 0 1,0 9.2,0a4.6,4.6 0 1,0 -9.2,0zM640.5,812.4a4.6,4.6 0 1,0 9.2,0a4.6,4.6 0 1,0 -9.2,0zM644.9,812.1a4.6,4.6 0 1,0 9.2,0a4.6,4.6 0 1,0 -9.2,0zM649.2,811.6a4.6,4.6 0 1,0 9.2,0a4.6,4.6 0 1,0 -9.2,0zM653.6,810.5a4.6,4.6 0 1,0 9.2,0a4.6,4.6 0 1,0 -9.2,0zM657.9,811.3a4.6,4.6 0 1,0 9.2,0a4.6,4.6 0 1,0 -9.2,0zM662.3,811.8a4.6,4.6 0 1,0 9.2,0a4.6,4.6 0 1,0 -9.2,0zM666.6,812.1a4.6,4.6 0 1,0 9.2,0a4.6,4.6 0 1,0 -9.2,0zM671.0,813.3a4.6,4.6 0 1,0 9.2,0a4.6,4.6 0 1,0 -9.2,0zM675.3,814.0a4.6,4.6 0 1,0 9.2,0a4.6,4.6 0 1,0 -9.2,0zM679.7,813.9a4.6,4.6 0 1,0 9.2,0a4.6,4.6 0 1,0 -9.2,0zM684.0,814.7a4.6,4.6 0 1,0 9.2,0a4.6,4.6 0 1,0 -9.2,0zM688.4,815.9a4.6,4.6 0 1,0 9.2,0a4.6,4.6 0 1,0 -9.2,0zM692.7,816.7a4.6,4.6 0 1,0 9.2,0a4.6,4.6 0 1,0 -9.2,0zM697.1,816.8a4.6,4.6 0 1,0 9.2,0a4.6,4.6 0 1,0 -9.2,0zM701.4,818.8a4.6,4.6 0 1,0 9.2,0a4.6,4.6 0 1,0 -9.2,0zM705.8,817.0a4.6,4.6 0 1,0 9.2,0a4.6,4.6 0 1,0 -9.2,0zM710.1,816.7a4.6,4.6 0 1,0 9.2,0a4.6,4.6 0 1,0 -9.2,0zM714.5,815.8a4.6,4.6 0 1,0 9.2,0a4.6,4.6 0 1,0 -9.2,0zM718.8,815.4a4.6,4.6 0 1,0 9.2,0a4.6,4.6 0 1,0 -9.2,0zM723.2,814.5a4.6,4.6 0 1,0 9.2,0a4.6,4.6 0 1,0 -9.2,0zM727.5,815.3a4.6,4.6 0 1,0 9.2,0a4.6,4.6 0 1,0 -9.2,0zM731.9,813.5a4.6,4.6 0 1,0 9.2,0a4.6,4.6 0 1,0 -9.2,0zM736.2,814.3a4.6,4.6 0 1,0 9.2,0a4.6,4.6 0 1,0 -9.2,0zM740.6,814.6a4.6,4.6 0 1,0 9.2,0a4.6,4.6 0 1,0 -9.2,0zM744.9,813.4a4.6,4.6 0 1,0 9.2,0a4.6,4.6 0 1,0 -9.2,0zM749.3,814.4a4.6,4.6 0 1,0 9.2,0a4.6,4.6 0 1,0 -9.2,0zM753.6,814.8a4.6,4.6 0 1,0 9.2,0a4.6,4.6 0 1,0 -9.2,0zM758.0,814.2a4.6,4.6 0 1,0 9.2,0a4.6,4.6 0 1,0 -9.2,0zM762.3,814.0a4.6,4.6 0 1,0 9.2,0a4.6,4.6 0 1,0 -9.2,0zM766.7,813.9a4.6,4.6 0 1,0 9.2,0a4.6,4.6 0 1,0 -9.2,0zM771.0,813.7a4.6,4.6 0 1,0 9.2,0a4.6,4.6 0 1,0 -9.2,0zM775.4,814.4a4.6,4.6 0 1,0 9.2,0a4.6,4.6 0 1,0 -9.2,0zM779.7,814.2a4.6,4.6 0 1,0 9.2,0a4.6,4.6 0 1,0 -9.2,0zM784.1,815.3a4.6,4.6 0 1,0 9.2,0a4.6,4.6 0 1,0 -9.2,0zM788.4,815.5a4.6,4.6 0 1,0 9.2,0a4.6,4.6 0 1,0 -9.2,0zM792.8,815.9a4.6,4.6 0 1,0 9.2,0a4.6,4.6 0 1,0 -9.2,0zM797.1,816.2a4.6,4.6 0 1,0 9.2,0a4.6,4.6 0 1,0 -9.2,0zM801.5,817.6a4.6,4.6 0 1,0 9.2,0a4.6,4.6 0 1,0 -9.2,0zM805.8,817.5a4.6,4.6 0 1,0 9.2,0a4.6,4.6 0 1,0 -9.2,0zM810.2,818.4a4.6,4.6 0 1,0 9.2,0a4.6,4.6 0 1,0 -9.2,0zM814.5,817.7a4.6,4.6 0 1,0 9.2,0a4.6,4.6 0 1,0 -9.2,0zM818.9,817.6a4.6,4.6 0 1,0 9.2,0a4.6,4.6 0 1,0 -9.2,0zM823.2,816.9a4.6,4.6 0 1,0 9.2,0a4.6,4.6 0 1,0 -9.2,0zM827.6,816.9a4.6,4.6 0 1,0 9.2,0a4.6,4.6 0 1,0 -9.2,0zM831.9,817.5a4.6,4.6 0 1,0 9.2,0a4.6,4.6 0 1,0 -9.2,0zM836.3,817.1a4.6,4.6 0 1,0 9.2,0a4.6,4.6 0 1,0 -9.2,0zM840.6,817.1a4.6,4.6 0 1,0 9.2,0a4.6,4.6 0 1,0 -9.2,0zM845.0,817.3a4.6,4.6 0 1,0 9.2,0a4.6,4.6 0 1,0 -9.2,0zM849.3,817.1a4.6,4.6 0 1,0 9.2,0a4.6,4.6 0 1,0 -9.2,0zM853.7,816.5a4.6,4.6 0 1,0 9.2,0a4.6,4.6 0 1,0 -9.2,0zM858.0,818.0a4.6,4.6 0 1,0 9.2,0a4.6,4.6 0 1,0 -9.2,0zM862.4,817.9a4.6,4.6 0 1,0 9.2,0a4.6,4.6 0 1,0 -9.2,0zM866.7,816.4a4.6,4.6 0 1,0 9.2,0a4.6,4.6 0 1,0 -9.2,0zM871.1,815.4a4.6,4.6 0 1,0 9.2,0a4.6,4.6 0 1,0 -9.2,0zM875.4,815.5a4.6,4.6 0 1,0 9.2,0a4.6,4.6 0 1,0 -9.2,0zM879.8,816.1a4.6,4.6 0 1,0 9.2,0a4.6,4.6 0 1,0 -9.2,0zM884.1,815.3a4.6,4.6 0 1,0 9.2,0a4.6,4.6 0 1,0 -9.2,0zM888.5,815.4a4.6,4.6 0 1,0 9.2,0a4.6,4.6 0 1,0 -9.2,0zM892.8,814.3a4.6,4.6 0 1,0 9.2,0a4.6,4.6 0 1,0 -9.2,0zM897.2,815.2a4.6,4.6 0 1,0 9.2,0a4.6,4.6 0 1,0 -9.2,0zM901.5,814.9a4.6,4.6 0 1,0 9.2,0a4.6,4.6 0 1,0 -9.2,0zM905.9,812.9a4.6,4.6 0 1,0 9.2,0a4.6,4.6 0 1,0 -9.2,0zM910.2,812.7a4.6,4.6 0 1,0 9.2,0a4.6,4.6 0 1,0 -9.2,0zM914.6,811.9a4.6,4.6 0 1,0 9.2,0a4.6,4.6 0 1,0 -9.2,0zM918.9,810.1a4.6,4.6 0 1,0 9.2,0a4.6,4.6 0 1,0 -9.2,0zM923.3,810.4a4.6,4.6 0 1,0 9.2,0a4.6,4.6 0 1,0 -9.2,0zM927.6,809.7a4.6,4.6 0 1,0 9.2,0a4.6,4.6 0 1,0 -9.2,0zM932.0,810.5a4.6,4.6 0 1,0 9.2,0a4.6,4.6 0 1,0 -9.2,0zM936.3,812.2a4.6,4.6 0 1,0 9.2,0a4.6,4.6 0 1,0 -9.2,0zM940.7,814.1a4.6,4.6 0 1,0 9.2,0a4.6,4.6 0 1,0 -9.2,0zM945.0,815.5a4.6,4.6 0 1,0 9.2,0a4.6,4.6 0 1,0 -9.2,0zM949.4,816.9a4.6,4.6 0 1,0 9.2,0a4.6,4.6 0 1,0 -9.2,0zM953.7,817.6a4.6,4.6 0 1,0 9.2,0a4.6,4.6 0 1,0 -9.2,0zM958.1,817.3a4.6,4.6 0 1,0 9.2,0a4.6,4.6 0 1,0 -9.2,0zM962.4,817.7a4.6,4.6 0 1,0 9.2,0a4.6,4.6 0 1,0 -9.2,0zM966.8,817.3a4.6,4.6 0 1,0 9.2,0a4.6,4.6 0 1,0 -9.2,0zM971.1,817.8a4.6,4.6 0 1,0 9.2,0a4.6,4.6 0 1,0 -9.2,0zM975.5,817.8a4.6,4.6 0 1,0 9.2,0a4.6,4.6 0 1,0 -9.2,0zM979.8,816.8a4.6,4.6 0 1,0 9.2,0a4.6,4.6 0 1,0 -9.2,0zM984.2,816.1a4.6,4.6 0 1,0 9.2,0a4.6,4.6 0 1,0 -9.2,0zM988.5,816.9a4.6,4.6 0 1,0 9.2,0a4.6,4.6 0 1,0 -9.2,0zM992.9,816.3a4.6,4.6 0 1,0 9.2,0a4.6,4.6 0 1,0 -9.2,0zM997.2,816.9a4.6,4.6 0 1,0 9.2,0a4.6,4.6 0 1,0 -9.2,0zM1001.6,816.8a4.6,4.6 0 1,0 9.2,0a4.6,4.6 0 1,0 -9.2,0zM1005.9,815.8a4.6,4.6 0 1,0 9.2,0a4.6,4.6 0 1,0 -9.2,0zM1010.3,816.7a4.6,4.6 0 1,0 9.2,0a4.6,4.6 0 1,0 -9.2,0zM1014.6,816.8a4.6,4.6 0 1,0 9.2,0a4.6,4.6 0 1,0 -9.2,0zM1019.0,816.2a4.6,4.6 0 1,0 9.2,0a4.6,4.6 0 1,0 -9.2,0zM1023.4,816.2a4.6,4.6 0 1,0 9.2,0a4.6,4.6 0 1,0 -9.2,0zM1027.7,815.5a4.6,4.6 0 1,0 9.2,0a4.6,4.6 0 1,0 -9.2,0zM1032.0,815.2a4.6,4.6 0 1,0 9.2,0a4.6,4.6 0 1,0 -9.2,0zM1036.4,816.0a4.6,4.6 0 1,0 9.2,0a4.6,4.6 0 1,0 -9.2,0zM1040.8,815.3a4.6,4.6 0 1,0 9.2,0a4.6,4.6 0 1,0 -9.2,0zM1045.1,815.0a4.6,4.6 0 1,0 9.2,0a4.6,4.6 0 1,0 -9.2,0zM1049.5,814.8a4.6,4.6 0 1,0 9.2,0a4.6,4.6 0 1,0 -9.2,0zM1053.8,815.0a4.6,4.6 0 1,0 9.2,0a4.6,4.6 0 1,0 -9.2,0zM1058.2,814.9a4.6,4.6 0 1,0 9.2,0a4.6,4.6 0 1,0 -9.2,0zM1062.5,815.6a4.6,4.6 0 1,0 9.2,0a4.6,4.6 0 1,0 -9.2,0zM1066.8,816.6a4.6,4.6 0 1,0 9.2,0a4.6,4.6 0 1,0 -9.2,0zM1071.2,817.5a4.6,4.6 0 1,0 9.2,0a4.6,4.6 0 1,0 -9.2,0zM1075.5,818.2a4.6,4.6 0 1,0 9.2,0a4.6,4.6 0 1,0 -9.2,0zM1079.9,819.4a4.6,4.6 0 1,0 9.2,0a4.6,4.6 0 1,0 -9.2,0zM1084.2,820.0a4.6,4.6 0 1,0 9.2,0a4.6,4.6 0 1,0 -9.2,0zM1088.6,820.9a4.6,4.6 0 1,0 9.2,0a4.6,4.6 0 1,0 -9.2,0zM1093.0,821.8a4.6,4.6 0 1,0 9.2,0a4.6,4.6 0 1,0 -9.2,0zM1097.3,820.2a4.6,4.6 0 1,0 9.2,0a4.6,4.6 0 1,0 -9.2,0zM1101.6,820.4a4.6,4.6 0 1,0 9.2,0a4.6,4.6 0 1,0 -9.2,0zM1106.0,818.4a4.6,4.6 0 1,0 9.2,0a4.6,4.6 0 1,0 -9.2,0zM1110.3,818.7a4.6,4.6 0 1,0 9.2,0a4.6,4.6 0 1,0 -9.2,0z"/></defs>
<use href="#p_a_t" fill="#c0c0c0" stroke="none"/><use href="#p_a_t" fill="none" stroke="#000" stroke-width="1" shape-rendering="crispEdges"/>
<use href="#p_a_d" fill="#c0c0c0" stroke="none"/><use href="#p_a_d" fill="none" stroke="#000" stroke-width="1" shape-rendering="crispEdges"/>
<use href="#p_a_s" fill="#c0c0c0" stroke="none"/><use href="#p_a_s" fill="none" stroke="#000" stroke-width="1" shape-rendering="crispEdges"/>
<use href="#p_a_c" fill="#c0c0c0" stroke="none"/><use href="#p_a_c" fill="none" stroke="#000" stroke-width="1" shape-rendering="crispEdges"/>
<path d="M103.2,112.9h5v9h-5zM177.2,118.1h5v9h-5zM238.1,114.1h5v9h-5zM285.9,114.2h5v9h-5zM333.8,115.6h5v9h-5zM399.1,121.7h5v9h-5zM464.3,120.2h5v9h-5zM538.2,120.3h5v9h-5zM603.5,117.0h5v9h-5zM673.1,125.1h5v9h-5zM747.0,123.5h5v9h-5zM816.6,123.2h5v9h-5zM881.9,121.3h5v9h-5zM942.8,128.8h5v9h-5zM995.0,125.4h5v9h-5zM1029.8,124.7h5v9h-5zM1095.0,124.1h5v9h-5z" fill="#c0c0c0" stroke="#000" stroke-width="1.6" shape-rendering="crispEdges"/>
<use href="#p_b_t" fill="#c0c0c0" stroke="none"/><use href="#p_b_t" fill="none" stroke="#000" stroke-width="1" shape-rendering="crispEdges"/>
<use href="#p_b_s" fill="#c0c0c0" stroke="none"/><use href="#p_b_s" fill="none" stroke="#000" stroke-width="1" shape-rendering="crispEdges"/>
<use href="#p_b_d" fill="#c0c0c0" stroke="none"/><use href="#p_b_d" fill="none" stroke="#000" stroke-width="1" shape-rendering="crispEdges"/>
<use href="#p_b_c" fill="#c0c0c0" stroke="none"/><use href="#p_b_c" fill="none" stroke="#000" stroke-width="1" shape-rendering="crispEdges"/>
<path d="M98.9,456.7h5v9h-5zM164.1,454.9h5v9h-5zM225.1,455.2h5v9h-5zM272.9,455.8h5v9h-5zM329.4,457.9h5v9h-5zM399.1,456.0h5v9h-5zM468.6,459.0h5v9h-5zM533.9,457.7h5v9h-5zM590.4,461.6h5v9h-5zM625.2,459.9h5v9h-5zM660.0,454.9h5v9h-5zM703.5,458.4h5v9h-5zM773.1,460.0h5v9h-5zM847.1,459.0h5v9h-5zM908.0,456.7h5v9h-5zM960.2,456.5h5v9h-5zM1034.1,459.3h5v9h-5zM1099.4,460.1h5v9h-5z" fill="#c0c0c0" stroke="#000" stroke-width="1.6" shape-rendering="crispEdges"/>
<use href="#p_c_d" fill="#c0c0c0" stroke="none"/><use href="#p_c_d" fill="none" stroke="#000" stroke-width="1" shape-rendering="crispEdges"/>
<use href="#p_c_s" fill="#c0c0c0" stroke="none"/><use href="#p_c_s" fill="none" stroke="#000" stroke-width="1" shape-rendering="crispEdges"/>
<use href="#p_c_t" fill="#c0c0c0" stroke="none"/><use href="#p_c_t" fill="none" stroke="#000" stroke-width="1" shape-rendering="crispEdges"/>
<use href="#p_c_c" fill="#c0c0c0" stroke="none"/><use href="#p_c_c" fill="none" stroke="#000" stroke-width="1" shape-rendering="crispEdges"/>
<path d="M98.9,814.2h5v9h-5zM168.5,812.1h5v9h-5zM216.3,813.2h5v9h-5zM251.1,809.7h5v9h-5zM290.3,809.5h5v9h-5zM325.1,813.4h5v9h-5zM359.9,811.6h5v9h-5zM420.8,811.6h5v9h-5zM486.0,809.9h5v9h-5zM551.3,808.0h5v9h-5zM625.2,811.8h5v9h-5zM673.1,808.8h5v9h-5zM707.9,812.5h5v9h-5zM773.1,809.2h5v9h-5zM838.4,812.6h5v9h-5zM903.6,810.4h5v9h-5zM938.4,807.7h5v9h-5zM995.0,811.8h5v9h-5zM1047.2,810.5h5v9h-5zM1095.0,817.3h5v9h-5z" fill="#c0c0c0" stroke="#000" stroke-width="1.6" shape-rendering="crispEdges"/>
<clipPath id="clipTime"><rect x="0" y="0" width="1141" height="984"/></clipPath>
<path fill="#000" d="M104.9,27.8H108.3V47.9H104.9V34.6L100.0,36.5V33.3ZM110.2,332.5H113.6V352.4H110.2V339.3L105.3,341.2V338.0ZM109.0,632.8H112.4V652.7H109.0V639.6L104.1,641.5V638.3ZM59.1,171.2H62.5V190.9H59.1V178.0L54.2,179.9V176.7ZM59.0,476.1H62.4V495.8H59.0V482.9L54.1,484.8V481.6ZM59.0,773.0H62.4V792.6H59.0V779.8L54.1,781.7V778.5Z"/>
<path fill="#000" d="M44.3,182.35H52.2V185.55H44.3ZM44.3,487.05H52.2V490.25H44.3ZM44.3,783.95H52.2V787.15H44.3ZM44.3,264.60H52.2V267.80H44.3ZM44.3,568.25H52.2V571.45H44.3ZM44.3,865.20H52.2V868.40H44.3ZM130.4,22.40H137.5V25.60H130.4ZM136.0,332.50H143.0V335.70H136.0ZM135.1,633.05H142.0V636.25H135.1Z"/>
<g font-size="100" stroke="#fff" stroke-width="1">
<g><text x="50" y="120" transform="matrix(0.29783,0,0,0.29130,36.920,73.993)">0</text></g>
<g><text x="50" y="270" transform="matrix(0.29783,0,0,0.29130,36.920,335.048)">0</text></g>
<g><text x="50" y="420" transform="matrix(0.29783,0,0,0.29130,36.920,589.152)">0</text></g>
<g><text x="50" y="570" transform="matrix(0.29362,0,0,0.29412,37.245,105.947)">2</text></g>
<g><text x="50" y="720" transform="matrix(0.29362,0,0,0.29265,37.245,366.387)">2</text></g>
<g><text x="50" y="870" transform="matrix(0.29362,0,0,0.29265,37.245,619.490)">2</text></g>
<g><text x="50" y="1020" transform="matrix(0.28043,0,0,0.28841,52.676,660.726)">0</text></g>
<g><text x="50" y="1170" transform="matrix(0.28458,0,0,0.29130,236.433,614.174)">2000</text></g>
<g><text x="50" y="1320" transform="matrix(0.28565,0,0,0.29130,443.946,570.478)">4000</text></g>
<g><text x="50" y="1470" transform="matrix(0.28832,0,0,0.29130,651.031,526.783)">6000</text></g>
<g><text x="50" y="1620" transform="matrix(0.28551,0,0,0.29130,859.582,483.087)">8000</text></g>
<g><text x="50" y="1770" transform="matrix(0.25185,0,0,0.30189,62.756,-486.440)" stroke-width="0">x</text></g>
<g><text x="50" y="1920" transform="matrix(0.25648,0,0,0.29811,67.969,-219.777)" stroke-width="0">x</text></g>
<g><text x="50" y="2070" transform="matrix(0.25741,0,0,0.29623,66.872,39.511)" stroke-width="0">x</text></g>
<g><text x="50" y="2220" transform="matrix(0.28913,0,0,0.29565,98.798,-608.148)">0</text></g>
<g><text x="50" y="2370" transform="matrix(0.29348,0,0,0.29130,104.159,-337.791)">0</text></g>
<g><text x="50" y="2520" transform="matrix(0.29565,0,0,0.29130,102.939,-81.187)">0</text></g>
<g><text x="50" y="2670" transform="matrix(0.18571,0,0,0.20282,127.514,-512.924)" stroke="#000" stroke-width="2.5">4</text></g>
<g><text x="50" y="2820" transform="matrix(0.18393,0,0,0.19859,133.404,-221.427)" stroke="#000" stroke-width="2.5">4</text></g>
<g><text x="50" y="2970" transform="matrix(0.18393,0,0,0.19718,132.304,53.169)" stroke="#000" stroke-width="2.5">4</text></g>
<g><text x="50" y="3120" transform="matrix(0.28000,0,0,0.27935,67.820,-783.752)">(a) spherical</text></g>
<g><text x="50" y="3270" transform="matrix(0.27835,0,0,0.28043,75.713,-515.730)">(b) planar</text></g>
<g><text x="50" y="3420" transform="matrix(0.27829,0,0,0.27717,76.816,-247.878)">(c) cylindrical</text></g>
<g clip-path="url(#clipTime)"><text x="50" y="3570" transform="matrix(0.27433,0,0,0.28056,528.135,-18.583)">Time (s)</text></g>
<g><text x="50" y="3720" transform="matrix(0,-0.27693,0.28194,0,-1023.233,660.385)">Potential Difference (V)</text></g>
</g>
</svg>
</body></html>
